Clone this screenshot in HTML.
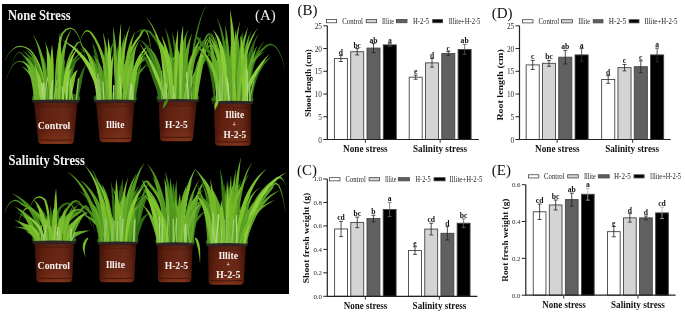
<!DOCTYPE html>
<html><head><meta charset="utf-8"><title>Figure</title>
<style>
html,body{margin:0;padding:0;background:#fff;}
body{width:685px;height:314px;overflow:hidden;font-family:"Liberation Serif",serif;}
svg{display:block;will-change:transform;}
</style></head><body>
<svg width="685" height="314" viewBox="0 0 685 314">
<defs>
<linearGradient id="potv" x1="0" y1="0" x2="0" y2="1">
<stop offset="0" stop-color="#561a0b"/><stop offset="0.15" stop-color="#62200e"/><stop offset="0.7" stop-color="#672210"/><stop offset="1" stop-color="#7c2e15"/>
</linearGradient>
<linearGradient id="poth" x1="0" y1="0" x2="1" y2="0">
<stop offset="0" stop-color="#000" stop-opacity="0.35"/><stop offset="0.2" stop-color="#000" stop-opacity="0.05"/><stop offset="0.6" stop-color="#fff" stop-opacity="0.03"/><stop offset="0.88" stop-color="#000" stop-opacity="0.1"/><stop offset="1" stop-color="#000" stop-opacity="0.4"/>
</linearGradient>
</defs>
<rect width="685" height="314" fill="#fff"/>
<rect x="2" y="4" width="287" height="290" fill="#000"/>
<path d="M33.2,100.9 C28.4,95.2 36.8,92.4 56.0,92.4 C75.2,92.4 83.6,95.2 78.8,100.9 Z" fill="#2f6414"/>
<path d="M61.9,101.0 L62.5,95.3 L63.3,89.9 L64.4,84.9 L65.8,80.1 L67.2,75.6 L68.9,71.3 L70.7,67.2 L72.8,63.4 L75.2,59.8 L77.9,56.4 L80.8,53.2 L84.2,50.2 L84.1,50.1 L80.4,52.6 L76.9,55.4 L73.7,58.6 L70.8,62.0 L68.2,65.8 L65.9,69.9 L64.0,74.4 L62.4,79.1 L61.4,84.2 L60.6,89.5 L60.1,95.1 L60.0,100.8Z" fill="#3a7a16"/>
<path d="M62.3,100.9 L62.4,95.7 L62.5,90.7 L62.7,85.9 L62.8,81.4 L62.7,77.2 L62.5,73.2 L62.3,69.5 L62.0,66.0 L61.7,62.8 L61.3,59.9 L60.9,57.2 L60.6,54.7 L60.4,54.7 L60.3,57.2 L60.1,59.9 L60.0,62.9 L59.8,66.1 L59.7,69.6 L59.6,73.3 L59.6,77.3 L59.6,81.5 L59.9,86.0 L60.1,90.7 L60.3,95.7 L60.5,100.9Z" fill="#448a1a"/>
<path d="M44.8,100.8 L44.8,96.3 L44.6,92.0 L44.4,88.0 L44.0,84.2 L43.3,80.7 L42.2,77.5 L41.0,74.6 L39.7,72.0 L38.2,69.7 L36.5,67.8 L34.7,66.2 L32.9,65.0 L32.8,65.1 L34.1,66.8 L35.1,68.8 L36.0,70.9 L36.9,73.3 L37.6,75.8 L38.3,78.6 L39.0,81.7 L39.7,85.0 L40.5,88.5 L41.2,92.4 L41.8,96.5 L42.3,101.0Z" fill="#33701a"/>
<path d="M37.2,100.9 L37.3,97.5 L37.3,94.3 L37.2,91.1 L36.9,87.9 L36.4,84.9 L35.6,82.1 L34.6,79.3 L33.5,76.7 L32.2,74.2 L30.8,71.8 L29.2,69.6 L27.6,67.5 L27.5,67.5 L28.5,70.0 L29.4,72.4 L30.2,75.0 L31.0,77.6 L31.6,80.2 L32.2,82.9 L32.7,85.7 L33.2,88.6 L33.8,91.5 L34.3,94.5 L34.7,97.7 L35.0,100.9Z" fill="#33701a"/>
<path d="M40.7,100.8 L40.4,96.1 L40.0,91.6 L39.4,87.3 L38.7,83.1 L37.6,79.2 L36.2,75.5 L34.7,72.0 L33.0,68.7 L31.1,65.7 L29.1,62.9 L26.9,60.4 L24.6,58.1 L24.5,58.2 L26.4,60.8 L28.1,63.6 L29.7,66.6 L31.1,69.7 L32.4,73.0 L33.6,76.4 L34.6,80.1 L35.7,83.8 L36.7,87.8 L37.6,92.0 L38.4,96.4 L39.0,101.0Z" fill="#448a1a"/>
<path d="M49.4,100.9 L49.7,94.8 L50.0,89.1 L50.3,83.7 L50.6,78.8 L50.7,74.2 L50.7,70.0 L50.6,66.2 L50.4,62.8 L50.2,59.7 L50.0,57.0 L49.7,54.7 L49.5,52.8 L49.4,52.8 L48.9,54.7 L48.3,56.9 L47.8,59.6 L47.3,62.6 L47.0,66.1 L46.6,69.9 L46.4,74.1 L46.3,78.7 L46.4,83.7 L46.6,89.0 L46.8,94.8 L46.9,100.9Z" fill="#33701a"/>
<path d="M66.5,100.9 L66.4,95.6 L66.3,90.5 L66.2,85.6 L66.0,81.0 L65.6,76.7 L65.0,72.6 L64.4,68.7 L63.7,65.1 L62.9,61.7 L62.1,58.6 L61.1,55.7 L60.2,53.1 L60.1,53.2 L60.5,55.9 L60.8,58.9 L61.1,62.0 L61.4,65.4 L61.6,69.1 L61.9,72.9 L62.3,77.0 L62.6,81.3 L63.2,85.9 L63.7,90.6 L64.2,95.7 L64.6,100.9Z" fill="#448a1a"/>
<path d="M78.3,101.0 L78.8,97.3 L79.4,93.8 L80.0,90.4 L80.8,87.1 L81.4,84.0 L81.9,80.9 L82.5,77.9 L83.1,75.0 L83.7,72.2 L84.4,69.5 L85.2,66.9 L86.1,64.4 L85.9,64.3 L84.5,66.5 L83.0,68.9 L81.7,71.5 L80.5,74.2 L79.4,77.0 L78.4,80.0 L77.6,83.2 L76.9,86.5 L76.6,89.9 L76.3,93.4 L76.2,97.1 L76.1,100.8Z" fill="#33701a"/>
<path d="M62.6,101.0 L63.2,96.6 L63.8,92.4 L64.5,88.6 L65.2,85.1 L65.7,81.8 L66.0,78.9 L66.4,76.2 L66.7,73.8 L67.0,71.6 L67.3,69.7 L67.6,68.1 L68.0,66.7 L67.9,66.7 L66.9,67.7 L65.9,69.2 L64.9,70.9 L63.9,73.0 L63.1,75.4 L62.3,78.2 L61.6,81.2 L61.1,84.5 L60.9,88.2 L60.7,92.1 L60.5,96.3 L60.3,100.8Z" fill="#448a1a"/>
<path d="M61.2,101.0 L61.6,96.7 L62.2,92.8 L62.9,89.0 L63.6,85.4 L64.3,82.0 L64.9,78.8 L65.6,75.7 L66.3,72.7 L67.1,69.9 L68.0,67.2 L69.1,64.7 L70.2,62.3 L70.1,62.2 L68.3,64.2 L66.5,66.4 L64.9,68.9 L63.4,71.6 L62.1,74.5 L60.9,77.7 L60.0,81.1 L59.3,84.7 L58.9,88.5 L58.7,92.4 L58.6,96.6 L58.7,100.8Z" fill="#2f6a12"/>
<path d="M39.2,100.9 L39.3,94.2 L39.2,87.9 L38.9,82.1 L38.3,76.7 L37.3,71.7 L35.9,67.2 L34.2,63.1 L32.2,59.6 L30.0,56.5 L27.5,54.0 L24.9,52.0 L22.0,50.4 L22.0,50.6 L24.4,52.5 L26.6,54.9 L28.4,57.6 L30.1,60.7 L31.5,64.3 L32.8,68.2 L33.9,72.5 L34.8,77.3 L35.8,82.5 L36.5,88.1 L37.0,94.3 L37.2,100.9Z" fill="#2f6a12"/>
<path d="M64.5,101.0 L65.1,95.2 L65.9,89.9 L67.0,85.0 L68.3,80.4 L69.5,76.3 L70.9,72.4 L72.4,68.8 L74.0,65.6 L75.9,62.6 L78.1,60.0 L80.5,57.5 L83.2,55.4 L83.1,55.3 L80.0,56.8 L76.9,58.7 L74.1,61.0 L71.5,63.8 L69.2,67.1 L67.1,70.7 L65.3,74.8 L64.0,79.3 L63.1,84.2 L62.5,89.4 L62.1,95.0 L62.0,100.8Z" fill="#2f6a12"/>
<path d="M56.0,101.0 L56.6,94.6 L57.3,88.7 L58.0,83.3 L58.7,78.3 L59.3,73.9 L59.8,69.8 L60.2,66.2 L60.6,63.1 L61.0,60.5 L61.5,58.2 L61.9,56.4 L62.4,55.1 L62.3,55.0 L61.2,56.1 L60.2,57.8 L59.2,59.9 L58.2,62.6 L57.3,65.7 L56.5,69.3 L55.8,73.4 L55.2,77.9 L54.9,83.0 L54.5,88.5 L54.2,94.4 L54.0,100.8Z" fill="#448a1a"/>
<path d="M48.9,100.9 L48.7,94.1 L48.5,87.9 L48.2,82.1 L47.9,76.9 L47.3,72.2 L46.6,68.0 L45.9,64.3 L45.0,61.2 L44.1,58.5 L43.0,56.4 L42.0,54.9 L40.9,53.9 L40.8,54.0 L41.5,55.2 L42.1,56.9 L42.6,59.0 L43.1,61.6 L43.6,64.7 L44.1,68.4 L44.6,72.5 L45.1,77.2 L45.8,82.3 L46.3,88.0 L46.9,94.2 L47.4,100.9Z" fill="#3a7a16"/>
<path d="M52.9,100.9 L53.1,97.9 L53.3,95.1 L53.5,92.3 L53.7,89.6 L53.7,87.0 L53.7,84.5 L53.5,82.1 L53.4,79.8 L53.2,77.5 L53.0,75.4 L52.7,73.3 L52.5,71.3 L52.4,71.3 L52.1,73.3 L51.7,75.3 L51.4,77.5 L51.1,79.7 L50.9,82.0 L50.7,84.5 L50.5,87.0 L50.5,89.6 L50.6,92.3 L50.8,95.1 L50.9,97.9 L51.1,100.9Z" fill="#33701a"/>
<path d="M52.9,100.9 L53.1,96.1 L53.3,91.3 L53.4,86.8 L53.5,82.3 L53.4,78.1 L53.0,73.9 L52.6,70.0 L52.1,66.1 L51.6,62.5 L50.9,58.9 L50.2,55.6 L49.5,52.4 L49.4,52.4 L49.5,55.7 L49.6,59.1 L49.6,62.6 L49.6,66.3 L49.7,70.1 L49.7,74.1 L49.8,78.2 L49.9,82.5 L50.2,86.8 L50.5,91.4 L50.7,96.1 L50.9,100.9Z" fill="#2f6a12"/>
<path d="M42.8,100.8 L42.1,95.7 L41.3,90.8 L40.3,86.2 L39.2,81.8 L37.8,77.6 L36.3,73.8 L34.5,70.2 L32.6,66.9 L30.5,63.8 L28.3,61.0 L25.9,58.5 L23.5,56.3 L23.4,56.4 L25.5,58.9 L27.4,61.7 L29.2,64.6 L30.8,67.8 L32.4,71.2 L33.8,74.8 L35.2,78.6 L36.5,82.6 L37.9,86.8 L39.1,91.3 L40.2,96.0 L41.2,101.0Z" fill="#33701a"/>
<path d="M67.6,101.0 L68.2,96.6 L68.9,92.4 L69.6,88.4 L70.5,84.5 L71.2,80.8 L71.9,77.2 L72.6,73.8 L73.4,70.4 L74.3,67.2 L75.2,64.1 L76.2,61.1 L77.3,58.3 L77.2,58.2 L75.3,60.7 L73.6,63.4 L71.9,66.3 L70.4,69.4 L69.0,72.7 L67.8,76.2 L66.8,79.8 L66.0,83.7 L65.6,87.8 L65.3,92.0 L65.1,96.3 L65.0,100.8Z" fill="#3a7a16"/>
<path d="M42.8,100.9 L43.1,95.1 L43.2,89.7 L43.0,84.5 L42.6,79.6 L41.7,75.1 L40.4,70.9 L38.8,67.1 L37.0,63.6 L34.9,60.6 L32.5,58.0 L29.9,55.8 L27.1,53.9 L27.1,54.1 L29.3,56.4 L31.3,59.0 L33.0,61.8 L34.5,64.9 L35.8,68.3 L36.9,72.0 L37.8,76.0 L38.6,80.3 L39.4,84.9 L40.0,89.8 L40.4,95.2 L40.6,100.9Z" fill="#3a7a16"/>
<path d="M46.2,100.9 L45.6,94.9 L44.6,89.4 L43.1,84.3 L41.1,79.6 L38.7,75.4 L35.7,71.6 L32.3,68.3 L28.4,65.5 L24.0,61.9 L19.7,60.8 L15.7,62.1 L12.1,65.8 L8.9,71.7 L5.9,80.0 L6.1,80.0 L9.2,71.8 L12.6,66.1 L16.1,62.7 L19.7,61.7 L23.4,62.9 L27.6,66.5 L31.3,69.4 L34.5,72.6 L37.3,76.3 L39.8,80.3 L41.8,84.8 L43.4,89.7 L44.6,95.1 L45.4,100.9Z" fill="#448a1a"/>
<path d="M48.8,100.8 L48.0,93.2 L46.5,86.2 L44.4,79.6 L41.7,73.6 L38.4,68.2 L34.3,63.3 L29.6,59.1 L24.4,55.5 L22.0,52.8 L19.5,51.7 L17.2,52.7 L15.2,55.4 L13.5,59.8 L11.9,66.0 L12.1,66.0 L13.8,59.9 L15.7,55.7 L17.6,53.3 L19.4,52.7 L21.3,53.7 L23.6,56.5 L28.7,60.2 L33.2,64.4 L37.1,69.1 L40.4,74.3 L43.2,80.1 L45.4,86.5 L46.9,93.4 L47.9,101.0Z" fill="#2f6a12"/>
<path d="M38.5,100.9 L38.8,97.1 L38.9,93.3 L38.6,89.7 L38.2,86.2 L37.2,82.9 L35.9,79.8 L34.2,77.0 L32.3,74.4 L30.1,72.1 L27.6,70.0 L25.0,68.1 L22.1,66.5 L22.0,66.6 L24.5,68.7 L26.6,71.1 L28.4,73.5 L30.0,76.0 L31.4,78.6 L32.6,81.3 L33.5,84.2 L34.4,87.1 L35.2,90.2 L35.8,93.6 L36.2,97.1 L36.3,100.9Z" fill="#6cb22c"/>
<path d="M61.2,101.0 L61.7,96.0 L62.3,91.3 L62.8,86.9 L63.3,82.8 L63.7,79.0 L63.9,75.4 L64.2,72.1 L64.4,69.0 L64.5,66.3 L64.7,63.8 L64.8,61.5 L65.0,59.5 L64.9,59.5 L64.1,61.3 L63.3,63.5 L62.6,65.9 L61.9,68.7 L61.2,71.7 L60.6,75.0 L60.1,78.6 L59.8,82.5 L59.6,86.7 L59.5,91.1 L59.3,95.9 L59.2,100.8Z" fill="#54991f"/>
<path d="M48.8,100.7 L48.6,97.3 L48.3,94.0 L47.8,90.7 L47.2,87.5 L46.1,84.5 L44.8,81.7 L43.2,79.1 L41.5,76.6 L39.5,74.3 L37.4,72.2 L35.2,70.3 L32.8,68.5 L32.7,68.6 L34.5,70.9 L36.1,73.3 L37.5,75.8 L38.7,78.3 L39.9,80.8 L40.9,83.5 L41.8,86.2 L42.8,88.9 L43.8,91.7 L44.8,94.7 L45.5,97.8 L46.2,101.1Z" fill="#64ac28"/>
<path d="M45.7,100.9 L45.9,97.6 L45.9,94.4 L45.6,91.4 L45.0,88.5 L43.9,85.8 L42.5,83.3 L40.7,81.1 L38.7,79.2 L36.5,77.5 L34.0,76.1 L31.3,75.0 L28.4,74.0 L28.3,74.1 L30.9,75.6 L33.2,77.3 L35.2,79.1 L36.9,81.0 L38.3,83.0 L39.6,85.1 L40.6,87.3 L41.5,89.6 L42.3,92.1 L43.0,94.8 L43.4,97.7 L43.6,100.9Z" fill="#64ac28"/>
<path d="M42.6,100.7 L41.8,94.5 L40.9,88.7 L39.9,83.3 L38.7,78.3 L37.3,73.8 L35.6,69.7 L33.8,66.1 L31.8,63.0 L29.6,60.3 L27.4,58.2 L25.1,56.5 L22.7,55.3 L22.6,55.5 L24.6,57.1 L26.4,59.2 L28.0,61.6 L29.5,64.3 L31.0,67.5 L32.4,71.0 L33.8,75.0 L35.2,79.3 L36.6,84.1 L38.0,89.3 L39.3,94.9 L40.5,101.1Z" fill="#64ac28"/>
<path d="M38.8,100.9 L38.9,96.9 L39.0,93.1 L39.1,89.3 L39.1,85.7 L38.9,82.2 L38.5,78.8 L38.1,75.6 L37.5,72.4 L37.0,69.4 L36.3,66.6 L35.6,63.8 L34.9,61.2 L34.8,61.2 L34.8,63.9 L34.8,66.7 L34.8,69.7 L34.8,72.7 L34.8,75.8 L34.8,79.1 L34.9,82.4 L35.1,85.9 L35.5,89.5 L35.9,93.2 L36.2,97.0 L36.6,100.9Z" fill="#6cb22c"/>
<path d="M36.3,100.9 L36.5,95.5 L36.5,90.4 L36.3,85.7 L36.0,81.3 L35.1,77.3 L33.9,73.6 L32.5,70.4 L30.8,67.5 L28.8,65.1 L26.7,63.2 L24.4,61.7 L22.0,60.6 L22.0,60.8 L23.9,62.4 L25.4,64.4 L26.8,66.6 L28.0,69.1 L29.0,71.8 L29.9,74.9 L30.7,78.3 L31.5,82.1 L32.3,86.2 L33.0,90.7 L33.4,95.6 L33.7,100.9Z" fill="#6cb22c"/>
<path d="M62.9,100.9 L63.5,91.9 L64.3,83.5 L65.5,75.8 L67.0,68.8 L68.8,62.5 L70.8,56.8 L73.1,51.8 L75.7,47.4 L77.7,43.7 L79.2,42.6 L80.7,43.5 L82.5,47.1 L84.3,53.3 L85.9,62.0 L86.1,62.0 L84.6,53.2 L83.1,46.9 L81.4,43.0 L79.2,41.4 L76.6,42.8 L74.3,46.6 L71.5,51.0 L69.0,56.1 L66.9,61.9 L65.2,68.4 L63.9,75.5 L62.9,83.3 L62.2,91.8 L61.8,100.9Z" fill="#64ac28"/>
<path d="M61.8,100.9 L62.2,93.6 L62.6,86.7 L63.0,80.3 L63.5,74.2 L63.9,68.5 L64.1,63.3 L64.4,58.4 L64.7,53.9 L65.0,49.9 L65.3,46.2 L65.7,42.9 L66.1,40.0 L65.9,40.0 L65.0,42.8 L64.2,46.0 L63.3,49.6 L62.6,53.7 L61.9,58.1 L61.3,63.0 L60.8,68.3 L60.4,74.0 L60.3,80.1 L60.2,86.6 L60.1,93.6 L60.1,100.9Z" fill="#54991f"/>
<path d="M55.6,100.9 L56.0,89.6 L56.5,79.2 L57.2,69.6 L58.1,60.9 L59.2,53.0 L60.3,45.9 L61.5,39.7 L62.8,34.5 L66.7,30.1 L70.3,28.7 L73.8,30.0 L77.3,34.5 L80.8,42.2 L83.9,53.0 L84.1,53.0 L81.1,42.1 L78.0,34.2 L74.4,29.3 L70.3,27.4 L65.8,28.8 L61.2,33.5 L59.5,39.2 L58.2,45.5 L57.0,52.7 L56.1,60.7 L55.4,69.5 L54.9,79.1 L54.6,89.6 L54.4,100.9Z" fill="#6cb22c"/>
<path d="M48.1,100.8 L47.7,92.9 L47.2,85.4 L46.6,78.3 L45.9,71.7 L44.8,65.5 L43.6,59.7 L42.2,54.5 L40.6,49.6 L38.9,45.3 L37.1,41.4 L35.1,37.9 L33.1,35.0 L32.9,35.0 L34.6,38.2 L36.0,41.8 L37.4,45.8 L38.6,50.2 L39.8,55.1 L40.9,60.3 L41.9,66.0 L42.9,72.1 L43.9,78.7 L44.9,85.6 L45.7,93.1 L46.4,101.0Z" fill="#64ac28"/>
<path d="M47.5,100.8 L46.9,94.6 L46.3,88.8 L45.4,83.2 L44.4,78.0 L43.0,73.1 L41.3,68.7 L39.4,64.6 L37.3,60.9 L34.9,57.5 L32.4,54.6 L29.8,52.1 L27.1,49.9 L26.9,50.1 L29.2,52.7 L31.2,55.6 L33.1,58.8 L34.8,62.2 L36.4,66.0 L37.8,70.0 L39.2,74.4 L40.5,79.0 L41.9,84.0 L43.2,89.3 L44.3,95.0 L45.2,101.0Z" fill="#54991f"/>
<path d="M58.5,101.0 L59.2,92.5 L60.0,84.5 L60.9,77.0 L61.9,69.9 L62.9,63.4 L63.8,57.2 L64.8,51.6 L65.9,46.4 L67.0,41.6 L68.2,37.3 L69.6,33.5 L71.1,30.0 L70.9,30.0 L68.9,33.2 L67.0,36.8 L65.2,41.1 L63.5,45.8 L62.0,51.0 L60.7,56.6 L59.5,62.8 L58.5,69.5 L57.8,76.6 L57.3,84.2 L56.9,92.3 L56.6,100.8Z" fill="#6cb22c"/>
<path d="M41.8,100.9 L42.1,97.5 L42.2,94.1 L42.3,90.9 L42.3,87.8 L42.0,84.8 L41.4,81.9 L40.8,79.3 L40.0,76.7 L39.0,74.3 L38.0,72.1 L36.8,70.1 L35.6,68.2 L35.5,68.2 L36.1,70.4 L36.5,72.6 L36.9,75.0 L37.2,77.4 L37.5,79.9 L37.8,82.5 L38.0,85.3 L38.3,88.1 L38.8,91.1 L39.1,94.2 L39.4,97.5 L39.6,100.9Z" fill="#8ecd3c"/>
<path d="M71.1,101.0 L71.7,96.7 L72.3,92.7 L73.0,89.0 L73.8,85.7 L74.3,82.8 L74.8,80.1 L75.2,77.7 L75.7,75.7 L76.2,73.9 L76.7,72.4 L77.2,71.2 L78.0,70.1 L77.9,70.0 L76.6,70.5 L75.3,71.4 L74.0,72.7 L72.8,74.5 L71.7,76.6 L70.8,79.0 L69.9,81.8 L69.3,85.0 L69.0,88.5 L68.8,92.3 L68.7,96.4 L68.6,100.8Z" fill="#7cc22a"/>
<path d="M51.8,100.9 L51.9,93.7 L52.0,87.1 L52.1,81.1 L52.1,75.5 L51.8,70.5 L51.3,66.0 L50.7,62.1 L50.0,58.7 L49.3,55.8 L48.4,53.5 L47.5,51.8 L46.6,50.7 L46.5,50.7 L46.6,52.1 L46.7,53.9 L46.8,56.3 L46.8,59.1 L46.9,62.5 L47.0,66.4 L47.2,70.8 L47.4,75.7 L47.9,81.2 L48.4,87.2 L48.8,93.8 L49.2,100.9Z" fill="#7abd30"/>
<path d="M67.5,100.9 L67.7,96.4 L68.0,92.2 L68.3,88.3 L68.7,84.9 L69.0,81.7 L69.3,78.9 L69.6,76.5 L70.0,74.3 L70.4,72.5 L70.8,71.0 L71.4,69.7 L72.1,68.7 L72.0,68.6 L70.8,69.2 L69.7,70.3 L68.6,71.7 L67.7,73.6 L66.8,75.8 L66.1,78.4 L65.6,81.3 L65.2,84.6 L65.2,88.2 L65.2,92.1 L65.4,96.3 L65.6,100.9Z" fill="#8ecd3c"/>
<path d="M53.2,100.9 L53.1,93.8 L52.9,87.1 L52.7,80.8 L52.4,74.9 L51.8,69.3 L51.1,64.2 L50.4,59.5 L49.5,55.2 L48.5,51.2 L47.4,47.7 L46.2,44.7 L45.1,42.0 L44.9,42.0 L45.7,44.8 L46.3,48.0 L46.8,51.6 L47.4,55.5 L47.9,59.9 L48.4,64.6 L48.8,69.6 L49.3,75.1 L50.0,81.0 L50.5,87.2 L51.0,93.9 L51.5,100.9Z" fill="#86c834"/>
<path d="M52.9,100.9 L53.1,94.2 L53.4,87.9 L53.6,81.9 L53.8,76.3 L53.8,71.1 L53.7,66.2 L53.5,61.8 L53.3,57.7 L53.0,53.9 L52.7,50.6 L52.4,47.6 L52.1,45.0 L51.9,45.0 L51.6,47.6 L51.2,50.6 L50.9,53.9 L50.6,57.7 L50.3,61.8 L50.1,66.2 L50.0,71.1 L50.0,76.3 L50.2,81.9 L50.4,87.9 L50.6,94.2 L50.8,100.9Z" fill="#7cc22a"/>
<path d="M46.3,100.9 L45.7,92.3 L44.8,84.3 L43.5,76.9 L41.8,70.1 L39.6,64.0 L37.0,58.5 L34.0,53.7 L30.4,49.5 L25.4,46.7 L20.6,45.7 L16.1,46.6 L12.0,49.4 L8.4,53.8 L4.9,60.0 L5.1,60.0 L8.6,54.0 L12.4,49.8 L16.4,47.4 L20.5,46.7 L24.9,47.8 L29.6,50.5 L32.8,54.6 L35.7,59.3 L38.2,64.6 L40.4,70.6 L42.2,77.2 L43.7,84.4 L44.7,92.4 L45.4,100.9Z" fill="#7abd30"/>
<path d="M63.8,101.0 L64.5,94.7 L65.4,88.7 L66.4,83.2 L67.6,78.0 L68.6,73.1 L69.7,68.6 L70.8,64.4 L72.1,60.5 L73.4,56.9 L74.8,53.6 L76.3,50.7 L78.1,48.0 L77.9,48.0 L75.7,50.3 L73.6,52.9 L71.6,56.0 L69.7,59.5 L68.0,63.4 L66.5,67.6 L65.1,72.3 L64.0,77.3 L63.3,82.7 L62.6,88.4 L62.1,94.4 L61.7,100.8Z" fill="#8ecd3c"/>
<path d="M60.4,100.9 L60.6,92.8 L60.9,85.1 L61.2,77.8 L61.4,71.0 L61.5,64.7 L61.4,58.8 L61.2,53.4 L61.1,48.4 L60.8,43.9 L60.6,39.8 L60.3,36.2 L60.1,33.0 L59.9,33.0 L59.5,36.2 L59.0,39.8 L58.6,43.8 L58.2,48.4 L57.9,53.3 L57.7,58.8 L57.5,64.7 L57.4,71.0 L57.6,77.8 L57.7,85.0 L57.9,92.7 L58.1,100.9Z" fill="#7cc22a"/>
<path d="M50.6,100.4 L51.7,83.6" stroke="#9fcf6a" stroke-width="1.4"/>
<path d="M63.3,100.4 L62.1,86.8" stroke="#a6d27a" stroke-width="1.2"/>
<path d="M72.7,100.4 L69.9,77.5" stroke="#b2d88a" stroke-width="0.8"/>
<path d="M50.0,100.4 L52.2,81.9" stroke="#a6d27a" stroke-width="0.8"/>
<path d="M50.9,100.4 L52.6,80.3" stroke="#a6d27a" stroke-width="1.4"/>
<path d="M44.0,100.4 L47.7,77.2" stroke="#a6d27a" stroke-width="1.0"/>
<path d="M54.0,100.4 L57.1,80.0" stroke="#8cc45a" stroke-width="1.1"/>
<path d="M42.9,100.4 L42.0,82.9" stroke="#b2d88a" stroke-width="1.2"/>
<path d="M76.2,100.4 L78.6,78.3" stroke="#8cc45a" stroke-width="1.3"/>
<path d="M44.3,100.4 L43.6,82.9" stroke="#b2d88a" stroke-width="1.4"/>
<path d="M56.6,100.4 L56.7,88.0" stroke="#7dbb48" stroke-width="1.3"/>
<path d="M66.3,100.4 L67.8,81.5" stroke="#b2d88a" stroke-width="0.9"/>
<path d="M94.8,100.9 C90.5,95.2 98.0,92.4 115.2,92.4 C132.4,92.4 139.9,95.2 135.6,100.9 Z" fill="#2f6414"/>
<path d="M127.8,100.9 L127.9,93.2 L128.2,86.0 L128.6,79.5 L129.2,73.5 L129.7,68.1 L130.3,63.3 L130.9,59.1 L131.7,55.4 L132.5,52.3 L133.4,49.7 L134.5,47.6 L135.9,46.0 L135.8,45.9 L134.0,47.2 L132.3,49.0 L130.8,51.6 L129.4,54.7 L128.2,58.5 L127.2,62.8 L126.4,67.7 L125.9,73.2 L125.7,79.3 L125.6,85.9 L125.7,93.1 L125.9,100.9Z" fill="#33701a"/>
<path d="M135.4,101.0 L136.0,96.4 L136.7,92.1 L137.4,88.1 L138.1,84.4 L138.7,80.9 L139.1,77.6 L139.5,74.6 L139.9,71.8 L140.3,69.3 L140.7,67.1 L141.1,65.0 L141.5,63.3 L141.4,63.2 L140.4,64.8 L139.4,66.6 L138.4,68.8 L137.5,71.3 L136.7,74.0 L135.9,77.0 L135.2,80.3 L134.6,83.8 L134.3,87.7 L134.0,91.8 L133.7,96.2 L133.4,100.8Z" fill="#3a7a16"/>
<path d="M131.9,100.9 L132.2,96.7 L132.7,92.8 L133.5,89.1 L134.6,85.6 L135.7,82.3 L137.0,79.1 L138.5,76.1 L140.2,73.2 L142.2,70.5 L144.5,67.8 L147.1,65.3 L150.0,63.0 L150.0,62.9 L146.7,64.8 L143.6,66.8 L140.8,69.2 L138.3,71.7 L136.0,74.6 L134.1,77.7 L132.4,81.0 L131.2,84.6 L130.5,88.5 L130.0,92.5 L129.8,96.6 L130.0,100.9Z" fill="#448a1a"/>
<path d="M118.5,100.9 L118.7,95.1 L118.9,89.6 L119.1,84.3 L119.3,79.2 L119.3,74.3 L119.2,69.7 L119.0,65.3 L118.8,61.1 L118.5,57.1 L118.2,53.3 L117.9,49.8 L117.6,46.4 L117.4,46.4 L117.1,49.8 L116.7,53.3 L116.4,57.1 L116.1,61.1 L115.8,65.3 L115.6,69.7 L115.5,74.3 L115.5,79.2 L115.7,84.3 L115.9,89.6 L116.1,95.1 L116.3,100.9Z" fill="#3a7a16"/>
<path d="M110.4,100.9 L110.5,93.2 L110.7,86.1 L110.8,79.5 L111.0,73.5 L110.9,68.1 L110.7,63.2 L110.5,58.8 L110.3,55.0 L110.0,51.8 L109.6,49.1 L109.3,47.0 L108.9,45.4 L108.8,45.4 L108.6,47.0 L108.4,49.1 L108.3,51.8 L108.1,55.1 L108.0,58.8 L107.9,63.2 L107.8,68.1 L107.9,73.5 L108.1,79.5 L108.3,86.1 L108.4,93.2 L108.6,100.9Z" fill="#2f6a12"/>
<path d="M107.0,100.9 L107.2,93.3 L107.3,86.3 L107.5,79.9 L107.6,74.1 L107.6,68.8 L107.4,64.1 L107.1,59.9 L106.7,56.4 L106.4,53.4 L105.9,50.9 L105.5,49.1 L105.0,47.8 L104.9,47.8 L104.7,49.1 L104.4,51.0 L104.2,53.4 L103.9,56.4 L103.8,60.0 L103.6,64.1 L103.6,68.8 L103.6,74.1 L103.9,80.0 L104.2,86.4 L104.5,93.4 L104.7,100.9Z" fill="#33701a"/>
<path d="M117.7,101.0 L118.3,93.7 L119.0,86.8 L119.7,80.3 L120.5,74.3 L121.0,68.7 L121.5,63.5 L122.0,58.7 L122.5,54.4 L122.9,50.4 L123.4,46.9 L123.8,43.8 L124.4,41.0 L124.2,41.0 L123.2,43.6 L122.2,46.6 L121.2,50.1 L120.3,54.0 L119.4,58.4 L118.6,63.2 L117.9,68.4 L117.3,74.0 L116.9,80.1 L116.6,86.6 L116.2,93.5 L115.9,100.8Z" fill="#3a7a16"/>
<path d="M108.1,100.9 L108.4,93.9 L108.7,87.3 L109.2,81.1 L109.7,75.2 L110.1,69.8 L110.4,64.7 L110.8,60.1 L111.2,55.8 L111.7,51.8 L112.2,48.2 L112.8,45.0 L113.5,42.1 L113.3,42.0 L111.9,44.7 L110.6,47.8 L109.4,51.3 L108.3,55.2 L107.3,59.6 L106.5,64.3 L105.9,69.4 L105.4,75.0 L105.4,80.9 L105.4,87.2 L105.5,93.9 L105.7,100.9Z" fill="#448a1a"/>
<path d="M134.4,100.9 L134.6,95.5 L134.7,90.5 L134.8,85.8 L134.9,81.4 L134.8,77.4 L134.6,73.7 L134.4,70.4 L134.1,67.4 L133.7,64.8 L133.3,62.5 L132.9,60.6 L132.5,59.0 L132.3,59.0 L132.2,60.7 L132.1,62.6 L132.0,64.9 L131.9,67.5 L131.8,70.5 L131.8,73.8 L131.7,77.5 L131.8,81.5 L132.0,85.8 L132.3,90.5 L132.5,95.5 L132.7,100.9Z" fill="#2f6a12"/>
<path d="M115.7,101.0 L116.3,95.9 L116.9,91.2 L117.6,86.8 L118.3,82.6 L119.0,78.7 L119.5,75.1 L120.1,71.7 L120.7,68.6 L121.3,65.8 L122.0,63.2 L122.6,60.9 L123.4,58.8 L123.3,58.7 L122.1,60.6 L120.8,62.8 L119.6,65.2 L118.5,68.0 L117.5,71.1 L116.6,74.5 L115.8,78.2 L115.2,82.1 L114.8,86.4 L114.4,90.9 L114.1,95.8 L113.9,100.8Z" fill="#33701a"/>
<path d="M126.4,101.0 L127.2,96.9 L128.0,92.9 L129.0,89.0 L130.0,85.3 L130.9,81.7 L131.7,78.3 L132.6,74.9 L133.5,71.7 L134.5,68.7 L135.4,65.7 L136.5,62.9 L137.6,60.2 L137.5,60.1 L136.0,62.6 L134.4,65.3 L133.0,68.1 L131.6,71.1 L130.3,74.2 L129.2,77.5 L128.1,81.0 L127.2,84.6 L126.5,88.5 L125.8,92.4 L125.3,96.5 L124.8,100.8Z" fill="#33701a"/>
<path d="M101.6,100.8 L101.5,93.5 L101.3,86.5 L101.1,80.0 L100.8,74.0 L100.2,68.4 L99.3,63.2 L98.4,58.6 L97.3,54.4 L96.1,50.6 L94.9,47.4 L93.5,44.7 L92.1,42.4 L92.0,42.5 L92.7,45.0 L93.3,47.9 L93.9,51.2 L94.5,55.0 L95.0,59.2 L95.6,63.8 L96.1,68.8 L96.7,74.4 L97.4,80.3 L98.1,86.7 L98.8,93.6 L99.3,101.0Z" fill="#2f6a12"/>
<path d="M100.9,100.9 L101.2,96.1 L101.3,91.4 L101.4,86.9 L101.4,82.6 L101.1,78.4 L100.6,74.4 L99.9,70.6 L99.0,67.0 L98.1,63.6 L97.0,60.4 L95.8,57.5 L94.6,54.7 L94.5,54.7 L95.1,57.7 L95.5,60.8 L95.9,64.1 L96.2,67.5 L96.5,71.1 L96.8,74.9 L97.0,78.8 L97.3,82.8 L97.8,87.1 L98.1,91.5 L98.4,96.1 L98.6,100.9Z" fill="#33701a"/>
<path d="M111.3,100.9 L111.3,94.3 L111.3,88.0 L111.3,82.2 L111.2,76.7 L110.9,71.7 L110.4,67.0 L109.8,62.7 L109.1,58.9 L108.4,55.4 L107.5,52.3 L106.6,49.7 L105.8,47.4 L105.6,47.5 L105.9,49.8 L106.2,52.6 L106.4,55.7 L106.6,59.2 L106.8,63.0 L107.1,67.3 L107.3,71.9 L107.6,76.9 L108.1,82.3 L108.5,88.1 L108.9,94.3 L109.3,100.9Z" fill="#6cb22c"/>
<path d="M121.0,100.9 L121.3,95.7 L121.8,90.8 L122.5,86.1 L123.3,81.7 L124.1,77.5 L124.9,73.4 L125.8,69.6 L126.9,66.0 L128.1,62.5 L129.4,59.2 L131.0,56.1 L132.8,53.2 L132.6,53.1 L130.3,55.6 L128.0,58.4 L125.9,61.5 L124.1,64.8 L122.4,68.5 L121.0,72.4 L119.8,76.6 L119.0,81.0 L118.6,85.7 L118.4,90.5 L118.4,95.6 L118.6,100.9Z" fill="#64ac28"/>
<path d="M130.5,100.9 L130.9,94.9 L131.5,89.3 L132.5,84.3 L133.6,79.7 L134.9,75.5 L136.2,71.7 L137.8,68.2 L139.6,65.2 L141.7,62.4 L144.1,59.9 L146.9,57.8 L150.0,56.1 L150.0,55.9 L146.4,57.0 L143.1,58.5 L140.0,60.6 L137.2,63.2 L134.6,66.3 L132.5,69.9 L130.6,74.0 L129.3,78.6 L128.5,83.6 L128.0,89.0 L127.9,94.8 L128.0,100.9Z" fill="#54991f"/>
<path d="M104.0,100.9 L104.0,96.2 L104.0,91.8 L103.9,87.7 L103.7,83.8 L103.3,80.3 L102.7,76.9 L102.1,73.9 L101.3,71.2 L100.4,68.7 L99.4,66.5 L98.4,64.7 L97.3,63.1 L97.2,63.2 L97.7,64.9 L98.1,67.0 L98.5,69.2 L98.9,71.7 L99.2,74.4 L99.5,77.4 L99.8,80.7 L100.2,84.2 L100.7,88.0 L101.2,92.0 L101.6,96.3 L102.0,100.9Z" fill="#64ac28"/>
<path d="M126.6,101.0 L127.3,95.8 L128.2,91.0 L129.3,86.6 L130.5,82.5 L131.8,78.7 L133.1,75.2 L134.6,72.1 L136.2,69.2 L138.0,66.6 L140.0,64.2 L142.3,62.1 L144.8,60.4 L144.7,60.2 L141.9,61.5 L139.1,63.2 L136.5,65.2 L134.2,67.7 L132.0,70.6 L130.1,73.8 L128.4,77.5 L127.1,81.5 L126.1,85.8 L125.4,90.5 L124.9,95.5 L124.6,100.8Z" fill="#54991f"/>
<path d="M99.3,100.8 L99.0,94.9 L98.4,89.3 L97.7,84.1 L96.8,79.2 L95.5,74.7 L93.9,70.6 L92.1,66.8 L90.1,63.5 L87.8,60.7 L85.4,58.2 L82.8,56.2 L80.0,54.5 L80.0,54.6 L82.4,56.6 L84.6,59.0 L86.6,61.6 L88.4,64.6 L90.0,67.9 L91.5,71.5 L92.8,75.5 L94.0,79.8 L95.2,84.5 L96.3,89.6 L97.1,95.1 L97.7,101.0Z" fill="#6cb22c"/>
<path d="M107.1,100.9 L107.1,95.7 L107.2,90.8 L107.1,86.3 L107.1,82.0 L106.8,78.1 L106.4,74.5 L106.0,71.2 L105.4,68.2 L104.8,65.6 L104.2,63.3 L103.4,61.3 L102.7,59.7 L102.6,59.7 L102.8,61.5 L103.0,63.5 L103.1,65.9 L103.3,68.5 L103.4,71.5 L103.6,74.7 L103.7,78.3 L104.0,82.2 L104.4,86.4 L104.7,90.9 L105.0,95.8 L105.3,100.9Z" fill="#6cb22c"/>
<path d="M120.0,101.0 L120.6,94.8 L121.3,89.0 L122.0,83.7 L122.7,78.9 L123.2,74.4 L123.6,70.3 L123.9,66.7 L124.1,63.5 L124.4,60.7 L124.6,58.3 L124.8,56.2 L125.1,54.6 L125.0,54.5 L124.0,55.9 L122.9,57.8 L121.9,60.1 L121.0,62.9 L120.1,66.1 L119.3,69.7 L118.6,73.8 L118.1,78.4 L117.9,83.4 L117.7,88.8 L117.5,94.6 L117.4,100.8Z" fill="#54991f"/>
<path d="M101.5,100.9 L101.2,93.4 L100.7,86.4 L100.0,80.0 L99.0,74.1 L97.6,68.8 L95.9,64.1 L93.8,60.0 L91.5,56.5 L89.0,53.6 L86.2,51.3 L83.2,49.7 L80.0,48.6 L80.0,48.8 L82.9,50.2 L85.4,52.2 L87.7,54.7 L89.8,57.7 L91.6,61.1 L93.3,65.1 L94.7,69.7 L96.1,74.8 L97.3,80.4 L98.4,86.7 L99.2,93.5 L99.8,100.9Z" fill="#54991f"/>
<path d="M117.8,100.9 L118.0,95.3 L118.3,89.8 L118.6,84.7 L119.0,79.7 L119.2,75.0 L119.4,70.5 L119.6,66.2 L119.8,62.2 L120.0,58.4 L120.2,54.8 L120.4,51.4 L120.8,48.2 L120.6,48.2 L119.9,51.3 L119.1,54.6 L118.4,58.2 L117.8,62.0 L117.3,66.0 L116.8,70.3 L116.4,74.8 L116.1,79.6 L116.1,84.6 L116.1,89.8 L116.1,95.2 L116.2,100.9Z" fill="#64ac28"/>
<path d="M124.6,100.9 L124.9,95.0 L125.3,89.4 L125.7,84.3 L126.3,79.6 L126.6,75.3 L126.9,71.5 L127.2,68.0 L127.5,65.0 L127.8,62.4 L128.2,60.1 L128.6,58.2 L129.1,56.7 L128.9,56.7 L127.9,57.9 L126.9,59.7 L125.9,61.9 L125.1,64.5 L124.3,67.6 L123.6,71.1 L123.1,75.0 L122.7,79.4 L122.6,84.1 L122.5,89.3 L122.5,94.9 L122.6,100.9Z" fill="#64ac28"/>
<path d="M129.7,100.9 L130.2,94.7 L130.8,88.8 L131.4,83.3 L132.1,78.0 L132.6,73.1 L133.1,68.4 L133.6,64.0 L134.1,60.0 L134.6,56.2 L135.1,52.7 L135.7,49.5 L136.4,46.5 L136.3,46.5 L134.9,49.2 L133.5,52.2 L132.3,55.6 L131.1,59.4 L130.1,63.4 L129.2,67.8 L128.4,72.6 L127.8,77.6 L127.6,83.0 L127.4,88.6 L127.3,94.6 L127.3,100.9Z" fill="#6cb22c"/>
<path d="M105.5,100.9 L105.6,95.2 L105.5,89.8 L105.2,84.7 L104.8,79.9 L104.0,75.5 L103.0,71.5 L101.7,67.8 L100.2,64.4 L98.5,61.5 L96.7,58.9 L94.7,56.8 L92.6,55.0 L92.5,55.1 L94.1,57.2 L95.6,59.7 L96.9,62.4 L98.0,65.4 L99.0,68.7 L99.9,72.3 L100.7,76.2 L101.4,80.4 L102.2,85.0 L102.8,90.0 L103.3,95.3 L103.6,100.9Z" fill="#54991f"/>
<path d="M110.0,100.9 L110.0,92.7 L109.9,85.0 L109.7,77.7 L109.5,70.9 L109.0,64.6 L108.4,58.7 L107.7,53.2 L107.0,48.2 L106.1,43.7 L105.1,39.7 L104.1,36.1 L103.1,33.0 L102.9,33.0 L103.5,36.2 L103.9,39.9 L104.4,44.0 L104.8,48.5 L105.2,53.5 L105.5,58.9 L105.9,64.8 L106.3,71.1 L106.9,77.9 L107.4,85.1 L107.9,92.8 L108.3,100.9Z" fill="#6cb22c"/>
<path d="M117.4,100.9 L117.5,92.0 L117.5,83.6 L117.5,75.7 L117.5,68.3 L117.2,61.4 L116.8,55.0 L116.4,49.1 L115.8,43.7 L115.2,38.7 L114.5,34.3 L113.8,30.4 L113.1,27.0 L112.9,27.0 L113.1,30.5 L113.2,34.5 L113.3,38.9 L113.3,43.8 L113.5,49.2 L113.6,55.2 L113.7,61.6 L113.9,68.4 L114.3,75.8 L114.7,83.7 L115.1,92.1 L115.4,100.9Z" fill="#64ac28"/>
<path d="M125.3,101.0 L126.1,93.7 L127.0,86.8 L128.0,80.4 L129.1,74.4 L130.2,68.8 L131.3,63.5 L132.5,58.7 L133.8,54.2 L135.2,50.1 L136.7,46.4 L138.3,43.0 L140.1,40.0 L139.9,40.0 L137.7,42.7 L135.5,45.8 L133.5,49.4 L131.6,53.4 L129.9,57.9 L128.3,62.8 L126.9,68.1 L125.8,73.8 L125.0,80.0 L124.3,86.5 L123.8,93.5 L123.4,100.8Z" fill="#64ac28"/>
<path d="M110.9,100.8 L110.5,93.5 L110.1,86.5 L109.5,80.0 L108.7,73.8 L107.7,68.0 L106.3,62.7 L104.8,57.8 L103.2,53.4 L101.3,49.3 L99.4,45.8 L97.2,42.6 L95.1,40.0 L94.9,40.0 L96.6,43.0 L98.0,46.4 L99.4,50.1 L100.7,54.2 L101.8,58.7 L102.9,63.6 L104.0,68.8 L105.0,74.4 L106.1,80.4 L107.1,86.9 L108.0,93.7 L108.8,101.0Z" fill="#5ca424"/>
<path d="M119.9,100.9 L120.3,93.0 L120.8,85.6 L121.3,78.6 L121.9,72.0 L122.3,65.9 L122.7,60.2 L123.0,54.9 L123.4,50.1 L123.8,45.7 L124.2,41.7 L124.6,38.2 L125.1,35.0 L124.9,35.0 L123.8,38.0 L122.8,41.5 L121.7,45.4 L120.8,49.8 L120.0,54.6 L119.3,59.9 L118.7,65.6 L118.2,71.8 L118.0,78.4 L117.9,85.5 L117.8,93.0 L117.8,100.9Z" fill="#54991f"/>
<path d="M125.8,101.0 L126.5,96.1 L127.2,91.5 L127.9,87.2 L128.8,83.1 L129.4,79.2 L130.0,75.6 L130.7,72.2 L131.3,68.9 L132.0,66.0 L132.7,63.2 L133.4,60.6 L134.3,58.2 L134.2,58.1 L132.7,60.2 L131.2,62.5 L129.7,65.2 L128.4,68.1 L127.2,71.2 L126.2,74.7 L125.3,78.4 L124.5,82.4 L124.1,86.7 L123.8,91.1 L123.6,95.9 L123.4,100.8Z" fill="#7abd30"/>
<path d="M133.9,100.9 L134.1,93.7 L134.6,87.0 L135.3,80.8 L136.2,75.0 L137.2,69.7 L138.4,64.9 L139.7,60.5 L141.3,56.5 L143.1,53.0 L145.1,49.8 L147.4,47.0 L150.0,44.7 L150.0,44.5 L146.9,46.5 L144.1,48.9 L141.5,51.9 L139.2,55.4 L137.1,59.5 L135.4,64.0 L133.9,69.0 L132.8,74.5 L132.2,80.4 L131.9,86.8 L131.8,93.6 L132.0,100.9Z" fill="#86c834"/>
<path d="M132.8,100.9 L132.9,95.3 L133.2,90.0 L133.9,84.9 L134.8,80.1 L135.9,75.5 L137.1,71.0 L138.5,66.8 L140.3,62.7 L142.3,58.8 L144.5,55.0 L147.1,51.4 L150.1,48.0 L149.9,47.9 L146.6,51.0 L143.5,54.2 L140.7,57.8 L138.2,61.6 L136.0,65.7 L134.2,70.0 L132.7,74.6 L131.6,79.5 L131.0,84.6 L130.7,89.8 L130.7,95.3 L130.9,100.9Z" fill="#7cc22a"/>
<path d="M109.9,100.9 L110.4,95.8 L110.8,90.9 L111.3,86.2 L111.8,81.7 L112.2,77.4 L112.4,73.4 L112.6,69.5 L112.8,65.8 L113.0,62.3 L113.2,59.1 L113.4,56.0 L113.6,53.1 L113.5,53.1 L112.7,55.9 L111.9,58.9 L111.1,62.1 L110.5,65.5 L109.8,69.2 L109.3,73.1 L108.8,77.1 L108.4,81.5 L108.3,86.0 L108.1,90.7 L108.0,95.7 L108.0,100.9Z" fill="#7cc22a"/>
<path d="M98.8,100.8 L98.4,93.3 L97.8,86.3 L97.1,79.8 L96.2,73.7 L94.9,68.2 L93.3,63.2 L91.6,58.7 L89.6,54.7 L87.4,51.3 L85.1,48.4 L82.6,46.2 L80.0,44.4 L80.0,44.5 L82.1,46.7 L84.0,49.3 L85.8,52.3 L87.4,55.8 L88.8,59.7 L90.2,64.2 L91.4,69.1 L92.7,74.4 L93.9,80.3 L95.0,86.7 L96.0,93.6 L96.8,101.0Z" fill="#7abd30"/>
<path d="M132.3,101.0 L133.0,95.9 L133.7,91.0 L134.5,86.4 L135.3,82.1 L135.9,78.0 L136.4,74.1 L136.9,70.4 L137.3,67.0 L137.8,63.8 L138.3,60.9 L138.9,58.1 L139.5,55.6 L139.3,55.5 L138.0,57.8 L136.6,60.3 L135.4,63.1 L134.2,66.3 L133.1,69.7 L132.2,73.3 L131.3,77.2 L130.7,81.4 L130.4,85.9 L130.1,90.6 L129.9,95.6 L129.7,100.8Z" fill="#7cc22a"/>
<path d="M120.5,100.9 L121.1,92.0 L121.7,83.5 L122.5,75.5 L123.3,68.1 L124.0,61.1 L124.7,54.7 L125.4,48.7 L126.2,43.2 L127.1,38.2 L128.0,33.7 L129.0,29.6 L130.1,26.0 L129.9,26.0 L128.4,29.4 L126.8,33.3 L125.4,37.8 L124.1,42.8 L122.9,48.3 L121.9,54.3 L120.9,60.8 L120.2,67.8 L119.7,75.3 L119.3,83.3 L119.0,91.9 L118.8,100.9Z" fill="#7cc22a"/>
<path d="M111.7,100.9 L111.8,93.3 L111.9,86.2 L112.0,79.5 L112.1,73.2 L111.9,67.3 L111.5,61.8 L111.1,56.8 L110.6,52.2 L110.0,48.0 L109.4,44.2 L108.7,40.9 L108.1,38.0 L107.9,38.0 L107.9,41.0 L107.9,44.4 L107.8,48.1 L107.8,52.3 L107.8,57.0 L107.9,62.0 L107.9,67.4 L108.1,73.3 L108.5,79.6 L108.8,86.3 L109.2,93.4 L109.5,100.9Z" fill="#8ecd3c"/>
<path d="M119.6,100.9 L119.9,91.7 L120.2,83.0 L120.5,74.8 L120.8,67.1 L120.9,59.9 L121.0,53.3 L121.0,47.1 L121.0,41.5 L121.0,36.3 L121.0,31.7 L121.0,27.6 L121.1,24.0 L120.9,24.0 L120.4,27.6 L119.9,31.7 L119.3,36.3 L118.9,41.4 L118.5,47.0 L118.1,53.2 L117.8,59.8 L117.7,67.0 L117.7,74.7 L117.8,82.9 L117.8,91.7 L117.9,100.9Z" fill="#86c834"/>
<path d="M121.2,100.9 L122.1,90.0 L123.4,79.9 L125.2,70.7 L127.5,62.3 L130.2,54.7 L133.3,47.9 L136.8,41.9 L140.8,36.5 L143.0,32.0 L144.5,30.7 L146.1,32.0 L148.2,36.5 L150.1,44.2 L151.9,55.0 L152.1,55.0 L150.5,44.1 L148.9,36.2 L147.1,31.3 L144.6,29.3 L141.6,30.9 L139.2,35.5 L135.0,40.7 L131.2,46.8 L128.0,53.8 L125.4,61.6 L123.3,70.3 L121.7,79.7 L120.5,89.9 L119.9,100.9Z" fill="#7cc22a"/>
<path d="M101.5,100.7 L100.3,93.3 L98.7,86.3 L96.8,79.6 L94.5,73.3 L91.7,67.5 L88.5,62.2 L84.9,57.3 L80.9,52.9 L76.7,49.0 L72.1,45.5 L67.2,42.5 L62.0,39.9 L62.0,40.1 L66.8,43.2 L71.1,46.7 L75.2,50.5 L78.9,54.7 L82.3,59.2 L85.4,64.1 L88.3,69.3 L90.9,74.9 L93.5,80.8 L95.7,87.1 L97.7,93.9 L99.3,101.1Z" fill="#8ecd3c"/>
<path d="M109.0,100.9 L108.5,89.6 L107.6,79.1 L106.2,69.4 L104.5,60.5 L102.3,52.4 L99.6,45.3 L96.4,38.9 L92.8,33.4 L90.2,30.9 L87.5,30.0 L85.1,30.8 L83.1,33.2 L81.5,36.9 L79.9,42.0 L80.1,42.0 L81.9,37.0 L83.8,33.6 L85.7,31.8 L87.4,31.4 L89.2,32.3 L91.2,34.6 L94.5,40.0 L97.5,46.2 L100.0,53.2 L102.3,61.0 L104.3,69.7 L105.8,79.3 L106.9,89.7 L107.6,100.9Z" fill="#72b828"/>
<path d="M124.7,101.0 L125.3,92.7 L126.1,84.9 L126.9,77.6 L127.8,70.8 L128.6,64.4 L129.3,58.5 L130.1,53.0 L131.0,47.9 L131.9,43.3 L132.8,39.1 L133.9,35.4 L135.1,32.0 L134.9,32.0 L133.2,35.1 L131.5,38.7 L129.9,42.7 L128.5,47.3 L127.1,52.4 L126.0,57.9 L124.9,63.9 L124.1,70.4 L123.6,77.3 L123.2,84.7 L122.9,92.6 L122.7,100.8Z" fill="#72b828"/>
<path d="M111.0,100.4 L108.8,86.4" stroke="#7dbb48" stroke-width="0.9"/>
<path d="M100.9,100.4 L98.9,79.2" stroke="#8cc45a" stroke-width="1.5"/>
<path d="M133.5,100.4 L132.5,85.9" stroke="#7dbb48" stroke-width="1.4"/>
<path d="M113.6,100.4 L113.8,85.1" stroke="#9fcf6a" stroke-width="1.5"/>
<path d="M104.0,100.4 L102.9,81.3" stroke="#b2d88a" stroke-width="1.0"/>
<path d="M121.2,100.4 L119.8,76.6" stroke="#b2d88a" stroke-width="1.0"/>
<path d="M117.3,100.4 L118.3,73.1" stroke="#8cc45a" stroke-width="0.9"/>
<path d="M129.7,100.4 L131.0,83.4" stroke="#b2d88a" stroke-width="1.3"/>
<path d="M97.3,100.4 L98.0,74.2" stroke="#a6d27a" stroke-width="1.1"/>
<path d="M97.8,100.4 L96.1,85.3" stroke="#b2d88a" stroke-width="0.8"/>
<path d="M98.0,100.4 L96.9,80.2" stroke="#8cc45a" stroke-width="1.5"/>
<path d="M132.2,100.4 L131.9,85.0" stroke="#b2d88a" stroke-width="1.3"/>
<path d="M157.9,100.5 C153.7,94.8 161.0,92.0 177.8,92.0 C194.6,92.0 202.0,94.8 197.8,100.5 Z" fill="#2f6414"/>
<path d="M194.7,100.6 L195.3,94.5 L196.2,88.8 L197.3,83.4 L198.6,78.5 L199.9,73.9 L201.3,69.6 L202.9,65.6 L204.7,62.0 L206.7,58.7 L208.9,55.7 L211.3,53.0 L214.0,50.6 L214.0,50.5 L210.9,52.5 L208.1,54.9 L205.4,57.7 L202.9,60.9 L200.7,64.5 L198.7,68.6 L197.0,73.0 L195.6,77.7 L194.7,82.9 L193.9,88.4 L193.3,94.3 L193.0,100.4Z" fill="#448a1a"/>
<path d="M180.4,100.5 L180.4,92.5 L180.5,84.9 L180.4,77.8 L180.3,71.2 L179.8,65.1 L179.1,59.5 L178.3,54.4 L177.4,49.7 L176.3,45.6 L175.1,42.0 L173.8,38.9 L172.5,36.3 L172.4,36.3 L172.9,39.1 L173.4,42.4 L173.8,46.1 L174.2,50.2 L174.6,54.9 L174.9,59.9 L175.3,65.5 L175.7,71.5 L176.3,78.0 L176.9,85.0 L177.4,92.5 L177.8,100.5Z" fill="#33701a"/>
<path d="M175.9,100.4 L175.6,96.1 L175.1,91.9 L174.5,87.8 L173.9,83.8 L172.9,80.0 L171.7,76.4 L170.3,72.9 L168.8,69.6 L167.2,66.5 L165.4,63.5 L163.6,60.7 L161.6,58.1 L161.5,58.1 L163.0,61.0 L164.3,64.1 L165.6,67.2 L166.7,70.5 L167.8,73.8 L168.8,77.3 L169.7,80.9 L170.6,84.6 L171.7,88.4 L172.6,92.3 L173.4,96.4 L174.0,100.6Z" fill="#3a7a16"/>
<path d="M186.8,100.6 L187.3,94.9 L187.9,89.6 L188.5,84.7 L189.1,80.1 L189.5,75.9 L189.8,72.0 L190.1,68.4 L190.4,65.2 L190.7,62.3 L191.0,59.8 L191.2,57.5 L191.6,55.6 L191.4,55.6 L190.5,57.3 L189.5,59.4 L188.6,61.9 L187.7,64.7 L187.0,67.9 L186.3,71.5 L185.7,75.4 L185.2,79.7 L185.0,84.4 L184.8,89.4 L184.7,94.8 L184.6,100.4Z" fill="#3a7a16"/>
<path d="M191.5,100.4 L191.4,95.1 L191.2,89.9 L191.0,85.0 L190.8,80.3 L190.3,75.8 L189.6,71.5 L188.9,67.5 L188.0,63.7 L187.1,60.1 L186.1,56.7 L185.1,53.5 L184.1,50.6 L183.9,50.6 L184.2,53.7 L184.4,57.0 L184.6,60.5 L184.8,64.1 L185.1,68.0 L185.4,72.1 L185.7,76.3 L186.2,80.8 L186.9,85.4 L187.6,90.3 L188.3,95.3 L188.9,100.6Z" fill="#448a1a"/>
<path d="M160.8,100.4 L160.2,92.0 L159.5,84.2 L158.6,76.9 L157.5,70.2 L156.1,64.2 L154.4,58.8 L152.4,54.0 L150.3,49.8 L147.9,46.3 L145.4,43.4 L142.7,41.3 L140.0,39.8 L140.0,39.9 L142.2,41.9 L144.1,44.5 L145.9,47.6 L147.6,51.1 L149.2,55.3 L150.6,60.0 L152.0,65.3 L153.4,71.1 L154.8,77.6 L156.2,84.6 L157.3,92.3 L158.4,100.6Z" fill="#33701a"/>
<path d="M180.8,100.5 L181.1,95.4 L181.4,90.4 L181.9,85.8 L182.3,81.3 L182.6,77.0 L182.9,73.0 L183.2,69.2 L183.4,65.6 L183.7,62.2 L184.0,59.1 L184.4,56.1 L184.8,53.4 L184.6,53.3 L183.8,56.0 L182.9,58.8 L182.1,62.0 L181.4,65.3 L180.8,68.9 L180.2,72.7 L179.7,76.8 L179.4,81.1 L179.2,85.6 L179.2,90.3 L179.1,95.3 L179.1,100.5Z" fill="#2f6a12"/>
<path d="M161.2,100.5 L161.2,94.4 L161.1,88.7 L160.8,83.2 L160.2,78.0 L159.4,73.2 L158.2,68.7 L156.8,64.5 L155.2,60.7 L153.3,57.2 L151.3,54.1 L149.1,51.4 L146.7,48.9 L146.6,49.0 L148.6,51.7 L150.4,54.7 L151.9,57.9 L153.3,61.5 L154.6,65.3 L155.6,69.4 L156.6,73.8 L157.4,78.5 L158.2,83.5 L158.9,88.8 L159.3,94.5 L159.6,100.5Z" fill="#448a1a"/>
<path d="M162.2,100.2 L161.1,94.5 L159.8,89.0 L158.5,83.8 L157.1,78.9 L155.4,74.3 L153.5,70.0 L151.5,66.1 L149.4,62.5 L147.2,59.2 L144.9,56.3 L142.5,53.7 L140.1,51.3 L139.9,51.4 L141.8,54.2 L143.5,57.2 L145.2,60.4 L146.8,63.9 L148.4,67.6 L150.0,71.6 L151.5,75.8 L153.1,80.3 L154.9,84.9 L156.6,89.9 L158.3,95.2 L159.9,100.8Z" fill="#33701a"/>
<path d="M177.2,100.5 L177.3,94.0 L177.5,88.0 L177.6,82.4 L177.6,77.3 L177.5,72.6 L177.2,68.3 L176.8,64.4 L176.3,61.0 L175.8,58.0 L175.1,55.5 L174.5,53.4 L173.8,51.8 L173.7,51.9 L173.8,53.6 L173.8,55.7 L173.8,58.2 L173.8,61.2 L173.8,64.6 L173.9,68.4 L173.9,72.7 L174.1,77.4 L174.4,82.5 L174.7,88.1 L174.9,94.1 L175.2,100.5Z" fill="#33701a"/>
<path d="M194.7,100.6 L195.3,94.6 L195.9,89.1 L196.5,84.0 L197.1,79.5 L197.5,75.3 L197.9,71.6 L198.3,68.4 L198.6,65.6 L198.9,63.3 L199.2,61.4 L199.5,59.9 L199.9,58.9 L199.8,58.8 L199.0,59.6 L198.2,61.0 L197.3,62.9 L196.6,65.2 L195.8,68.0 L195.2,71.2 L194.6,75.0 L194.1,79.1 L193.8,83.8 L193.5,88.9 L193.3,94.4 L193.0,100.4Z" fill="#33701a"/>
<path d="M179.2,100.5 L179.1,92.2 L179.0,84.5 L178.9,77.1 L178.7,70.3 L178.2,63.8 L177.6,57.9 L176.9,52.4 L176.1,47.4 L175.2,42.8 L174.2,38.7 L173.1,35.1 L172.1,32.0 L171.9,32.0 L172.5,35.3 L172.9,39.0 L173.3,43.1 L173.7,47.7 L174.0,52.7 L174.4,58.2 L174.8,64.1 L175.2,70.5 L175.8,77.3 L176.3,84.6 L176.8,92.3 L177.2,100.5Z" fill="#33701a"/>
<path d="M187.7,100.5 L188.5,90.4 L189.7,81.0 L191.4,72.4 L193.5,64.5 L196.1,57.5 L198.9,51.2 L202.1,45.6 L205.9,40.6 L207.9,35.8 L209.1,34.6 L210.5,35.8 L212.4,40.6 L214.3,48.6 L215.9,60.0 L216.1,60.0 L214.7,48.6 L213.2,40.3 L211.6,35.2 L209.2,33.0 L206.4,34.8 L204.1,39.4 L200.2,44.3 L196.7,50.0 L193.7,56.5 L191.2,63.9 L189.3,71.9 L187.8,80.7 L186.8,90.2 L186.3,100.5Z" fill="#448a1a"/>
<path d="M171.9,100.5 L171.2,88.9 L170.0,78.1 L168.2,68.2 L165.9,59.1 L163.1,50.8 L159.5,43.4 L155.4,36.9 L150.7,31.3 L147.3,30.0 L144.4,29.5 L141.7,29.6 L139.2,30.5 L137.0,31.9 L134.9,33.9 L135.1,34.1 L137.2,32.3 L139.5,31.2 L141.8,30.8 L144.3,30.9 L146.8,31.6 L149.3,32.7 L153.6,38.2 L157.5,44.5 L160.8,51.7 L163.8,59.7 L166.3,68.6 L168.2,78.4 L169.7,89.0 L170.6,100.5Z" fill="#3a7a16"/>
<path d="M175.8,100.5 L175.6,91.7 L175.3,83.5 L175.0,75.7 L174.6,68.4 L173.9,61.6 L173.0,55.3 L171.9,49.5 L170.8,44.2 L169.5,39.4 L168.1,35.1 L166.6,31.3 L165.1,28.0 L164.9,28.0 L165.9,31.5 L166.8,35.4 L167.6,39.8 L168.4,44.7 L169.1,50.0 L169.7,55.8 L170.4,62.0 L171.1,68.8 L171.9,76.0 L172.6,83.7 L173.2,91.9 L173.8,100.5Z" fill="#3a7a16"/>
<path d="M189.5,100.5 L190.3,89.2 L191.1,78.5 L192.1,68.4 L193.3,59.0 L194.5,50.2 L195.8,42.1 L197.2,34.5 L198.7,27.6 L200.3,21.3 L202.1,15.6 L204.0,10.5 L206.1,6.0 L205.9,6.0 L203.6,10.3 L201.4,15.3 L199.4,21.0 L197.5,27.3 L195.7,34.2 L194.2,41.8 L192.8,50.0 L191.6,58.8 L190.6,68.3 L189.8,78.4 L189.1,89.1 L188.5,100.5Z" fill="#448a1a"/>
<path d="M165.3,100.4 L164.7,92.8 L163.9,85.8 L163.0,79.3 L162.1,73.3 L160.8,67.9 L159.2,63.1 L157.5,58.9 L155.7,55.3 L153.7,52.3 L151.6,49.8 L149.4,48.1 L147.2,46.9 L147.1,47.1 L148.9,48.6 L150.5,50.7 L152.0,53.3 L153.5,56.4 L154.8,60.0 L156.1,64.1 L157.3,68.8 L158.6,74.0 L159.9,79.8 L161.2,86.2 L162.3,93.1 L163.3,100.6Z" fill="#54991f"/>
<path d="M197.4,100.5 L197.6,92.4 L198.0,84.9 L198.6,78.1 L199.6,72.0 L200.6,66.5 L201.8,61.5 L203.1,57.2 L204.7,53.4 L206.6,50.2 L208.7,47.5 L211.1,45.2 L214.0,43.5 L214.0,43.4 L210.7,44.5 L207.6,46.2 L204.7,48.7 L202.2,51.9 L199.9,55.8 L198.1,60.4 L196.5,65.6 L195.5,71.4 L194.9,77.8 L194.7,84.8 L194.7,92.4 L195.1,100.5Z" fill="#5ca424"/>
<path d="M177.0,100.5 L177.5,94.0 L178.0,87.9 L178.6,82.2 L179.3,76.8 L179.7,71.8 L180.1,67.3 L180.5,63.0 L180.9,59.2 L181.3,55.7 L181.7,52.6 L182.1,49.9 L182.7,47.5 L182.5,47.4 L181.4,49.6 L180.3,52.2 L179.2,55.3 L178.3,58.7 L177.4,62.6 L176.6,66.8 L176.0,71.4 L175.5,76.5 L175.2,81.9 L175.0,87.7 L174.9,93.9 L174.8,100.5Z" fill="#54991f"/>
<path d="M189.0,100.6 L189.9,92.7 L190.8,85.4 L191.8,78.5 L193.0,72.1 L193.9,66.1 L194.9,60.6 L195.8,55.6 L196.8,51.0 L197.9,46.9 L198.9,43.2 L200.1,40.0 L201.4,37.2 L201.3,37.1 L199.4,39.6 L197.6,42.7 L196.0,46.2 L194.4,50.3 L192.9,54.9 L191.5,59.9 L190.3,65.5 L189.3,71.5 L188.6,78.0 L188.0,85.0 L187.4,92.5 L187.0,100.4Z" fill="#5ca424"/>
<path d="M186.0,100.8 L187.4,96.5 L189.0,92.4 L190.5,88.4 L192.2,84.7 L193.7,81.0 L195.1,77.4 L196.6,74.0 L198.1,70.8 L199.6,67.6 L201.1,64.6 L202.7,61.8 L204.4,59.1 L204.3,59.0 L202.1,61.4 L200.0,63.9 L197.9,66.7 L195.9,69.6 L194.0,72.8 L192.2,76.1 L190.5,79.6 L188.9,83.4 L187.6,87.4 L186.4,91.5 L185.2,95.8 L184.1,100.2Z" fill="#5ca424"/>
<path d="M197.2,100.6 L198.3,93.1 L199.3,86.0 L200.5,79.3 L201.6,73.0 L202.7,67.1 L203.8,61.5 L204.9,56.3 L206.0,51.5 L207.2,47.0 L208.4,42.9 L209.6,39.1 L210.9,35.8 L210.8,35.7 L209.1,38.9 L207.4,42.5 L205.7,46.5 L204.1,50.9 L202.7,55.7 L201.3,60.9 L200.0,66.5 L198.9,72.5 L198.0,78.9 L197.2,85.7 L196.4,92.9 L195.7,100.4Z" fill="#6cb22c"/>
<path d="M183.1,100.5 L183.5,92.8 L184.0,85.6 L184.4,78.7 L184.8,72.3 L185.1,66.4 L185.4,60.9 L185.5,55.8 L185.7,51.2 L185.9,47.0 L186.0,43.2 L186.1,39.9 L186.3,37.0 L186.2,37.0 L185.6,39.8 L184.9,43.1 L184.3,46.8 L183.8,51.0 L183.3,55.7 L182.8,60.7 L182.4,66.2 L182.1,72.2 L181.9,78.6 L181.8,85.5 L181.7,92.8 L181.6,100.5Z" fill="#6cb22c"/>
<path d="M183.4,100.5 L183.7,91.4 L184.0,83.1 L184.4,75.4 L184.8,68.4 L185.0,62.1 L185.2,56.5 L185.3,51.6 L185.4,47.4 L185.5,43.9 L185.6,41.0 L185.7,38.9 L185.9,37.4 L185.8,37.3 L185.2,38.7 L184.5,40.9 L183.9,43.7 L183.3,47.2 L182.9,51.4 L182.4,56.4 L182.0,62.0 L181.8,68.3 L181.7,75.3 L181.7,83.0 L181.7,91.4 L181.7,100.5Z" fill="#54991f"/>
<path d="M172.2,100.5 L172.2,93.7 L172.2,87.3 L172.0,81.3 L171.7,75.6 L171.1,70.2 L170.2,65.3 L169.1,60.7 L167.9,56.5 L166.6,52.6 L165.1,49.2 L163.4,46.2 L161.7,43.5 L161.6,43.6 L162.6,46.5 L163.5,49.8 L164.3,53.3 L165.0,57.2 L165.6,61.4 L166.2,65.9 L166.8,70.8 L167.4,76.0 L168.1,81.6 L168.8,87.5 L169.3,93.8 L169.8,100.5Z" fill="#54991f"/>
<path d="M173.1,100.5 L173.3,94.3 L173.4,88.6 L173.6,83.2 L173.7,78.2 L173.6,73.7 L173.2,69.5 L172.8,65.8 L172.3,62.4 L171.8,59.5 L171.2,57.0 L170.5,54.9 L169.8,53.2 L169.7,53.3 L169.6,55.0 L169.5,57.2 L169.4,59.7 L169.3,62.6 L169.2,66.0 L169.2,69.7 L169.2,73.8 L169.3,78.3 L169.7,83.3 L170.0,88.6 L170.3,94.4 L170.6,100.5Z" fill="#64ac28"/>
<path d="M194.6,100.5 L194.9,94.6 L195.5,89.2 L196.2,84.1 L197.1,79.5 L198.0,75.2 L198.9,71.3 L199.9,67.7 L201.0,64.5 L202.3,61.6 L203.8,59.0 L205.5,56.7 L207.4,54.8 L207.4,54.6 L204.9,56.1 L202.5,58.0 L200.3,60.3 L198.3,63.2 L196.6,66.4 L195.1,70.1 L193.8,74.2 L192.9,78.7 L192.4,83.7 L192.1,88.9 L192.1,94.5 L192.2,100.5Z" fill="#5ca424"/>
<path d="M193.8,100.6 L194.2,96.1 L194.8,91.8 L195.6,87.8 L196.4,83.9 L197.2,80.2 L198.0,76.7 L198.8,73.4 L199.8,70.2 L200.8,67.2 L202.0,64.3 L203.3,61.6 L204.7,59.1 L204.6,59.0 L202.8,61.3 L201.0,63.8 L199.3,66.5 L197.8,69.4 L196.5,72.6 L195.3,76.0 L194.2,79.5 L193.4,83.3 L192.9,87.4 L192.5,91.5 L192.2,95.9 L192.1,100.4Z" fill="#5ca424"/>
<path d="M166.2,100.5 L166.6,94.9 L167.1,89.6 L167.8,84.7 L168.6,80.2 L169.3,76.0 L170.0,72.1 L170.8,68.6 L171.7,65.4 L172.7,62.4 L173.8,59.8 L175.1,57.4 L176.7,55.3 L176.5,55.2 L174.4,56.8 L172.3,58.8 L170.4,61.3 L168.7,64.1 L167.2,67.4 L165.9,71.1 L164.8,75.1 L164.0,79.5 L163.7,84.3 L163.5,89.4 L163.5,94.8 L163.7,100.5Z" fill="#64ac28"/>
<path d="M171.8,100.4 L171.7,93.7 L171.5,87.4 L171.2,81.5 L170.9,76.0 L170.4,70.9 L169.6,66.3 L168.8,62.0 L167.9,58.2 L166.9,54.8 L165.8,51.9 L164.6,49.3 L163.5,47.2 L163.3,47.3 L164.0,49.6 L164.5,52.2 L164.9,55.3 L165.4,58.7 L165.9,62.5 L166.3,66.7 L166.8,71.4 L167.3,76.4 L168.0,81.8 L168.6,87.6 L169.2,93.9 L169.8,100.6Z" fill="#64ac28"/>
<path d="M180.9,100.5 L181.2,92.6 L181.5,85.1 L181.8,78.1 L182.2,71.6 L182.3,65.6 L182.4,60.0 L182.5,54.9 L182.6,50.2 L182.6,46.0 L182.7,42.3 L182.7,39.0 L182.8,36.2 L182.7,36.2 L182.1,38.9 L181.4,42.2 L180.9,45.9 L180.3,50.1 L179.9,54.7 L179.5,59.8 L179.2,65.4 L179.0,71.5 L179.0,78.1 L179.0,85.1 L179.1,92.5 L179.1,100.5Z" fill="#6cb22c"/>
<path d="M182.0,100.5 L182.0,92.8 L182.1,85.7 L182.1,79.1 L182.1,73.1 L181.7,67.7 L181.2,62.8 L180.6,58.5 L179.8,54.8 L179.0,51.7 L178.1,49.2 L177.1,47.2 L176.2,45.9 L176.0,46.0 L176.3,47.5 L176.4,49.6 L176.5,52.1 L176.6,55.3 L176.8,58.9 L176.9,63.2 L177.1,68.0 L177.4,73.3 L178.0,79.3 L178.5,85.8 L178.9,92.9 L179.3,100.5Z" fill="#6cb22c"/>
<path d="M173.6,100.5 L173.8,94.8 L174.0,89.5 L174.2,84.5 L174.4,80.0 L174.4,75.8 L174.2,72.1 L174.1,68.7 L173.9,65.7 L173.6,63.0 L173.3,60.8 L173.0,58.9 L172.8,57.4 L172.6,57.4 L172.3,58.9 L172.0,60.8 L171.7,63.0 L171.4,65.6 L171.2,68.7 L171.0,72.1 L170.9,75.8 L170.8,80.0 L171.0,84.5 L171.2,89.5 L171.4,94.8 L171.6,100.5Z" fill="#54991f"/>
<path d="M183.8,100.6 L184.4,92.6 L185.1,85.1 L185.8,78.0 L186.6,71.4 L187.3,65.3 L187.9,59.5 L188.5,54.2 L189.1,49.4 L189.7,44.9 L190.4,40.9 L191.2,37.2 L192.1,34.0 L191.9,34.0 L190.4,37.0 L188.9,40.4 L187.5,44.4 L186.2,48.8 L185.0,53.7 L184.0,59.0 L183.1,64.8 L182.4,71.0 L182.1,77.7 L181.8,84.9 L181.6,92.4 L181.5,100.4Z" fill="#5ca424"/>
<path d="M179.2,100.5 L179.8,92.1 L180.4,84.1 L181.2,76.7 L182.0,69.7 L182.7,63.1 L183.3,57.0 L184.0,51.4 L184.7,46.3 L185.5,41.5 L186.2,37.3 L187.1,33.4 L188.1,30.0 L187.9,30.0 L186.3,33.2 L184.8,36.8 L183.3,41.0 L182.0,45.7 L180.8,50.9 L179.8,56.5 L178.8,62.7 L178.1,69.3 L177.7,76.4 L177.4,84.0 L177.1,92.0 L177.0,100.5Z" fill="#54991f"/>
<path d="M173.3,100.4 L173.2,93.5 L173.1,86.8 L172.9,80.4 L172.5,74.2 L171.8,68.4 L170.8,62.9 L169.7,57.6 L168.4,52.7 L166.9,48.1 L165.3,43.8 L163.6,39.8 L161.8,36.1 L161.7,36.2 L162.7,40.1 L163.7,44.3 L164.5,48.7 L165.3,53.4 L166.0,58.3 L166.7,63.5 L167.3,69.0 L168.0,74.7 L168.8,80.7 L169.5,87.0 L170.2,93.6 L170.7,100.6Z" fill="#86c834"/>
<path d="M165.8,100.5 L165.9,91.7 L165.8,83.5 L165.6,75.9 L165.2,68.9 L164.6,62.4 L163.7,56.6 L162.6,51.3 L161.3,46.7 L159.8,42.6 L158.2,39.2 L156.5,36.5 L154.6,34.3 L154.5,34.4 L156.0,36.8 L157.2,39.7 L158.4,43.2 L159.4,47.2 L160.3,51.8 L161.1,57.0 L161.8,62.8 L162.4,69.1 L163.1,76.1 L163.6,83.6 L164.0,91.8 L164.2,100.5Z" fill="#8ecd3c"/>
<path d="M165.9,100.2 L164.4,94.5 L162.9,89.0 L161.3,83.6 L159.5,78.4 L157.6,73.4 L155.4,68.7 L153.1,64.1 L150.7,59.7 L148.2,55.5 L145.6,51.6 L142.8,47.8 L140.1,44.2 L139.9,44.3 L142.3,48.2 L144.5,52.2 L146.6,56.4 L148.6,60.8 L150.7,65.3 L152.6,69.9 L154.5,74.7 L156.4,79.6 L158.5,84.6 L160.4,89.8 L162.3,95.2 L164.1,100.8Z" fill="#8ecd3c"/>
<path d="M195.5,100.6 L196.6,91.5 L197.8,83.2 L199.0,75.6 L200.2,68.6 L201.4,62.4 L202.5,56.8 L203.6,51.8 L204.7,47.6 L205.9,44.0 L207.1,41.1 L208.3,38.8 L209.7,37.2 L209.6,37.1 L207.8,38.5 L206.1,40.5 L204.4,43.4 L202.8,46.9 L201.2,51.2 L199.8,56.1 L198.5,61.8 L197.3,68.1 L196.4,75.2 L195.5,82.9 L194.6,91.3 L193.9,100.4Z" fill="#7cc22a"/>
<path d="M173.8,100.4 L173.3,92.5 L172.7,85.0 L171.9,78.0 L171.0,71.3 L169.7,65.2 L168.2,59.4 L166.4,54.2 L164.5,49.4 L162.4,45.0 L160.1,41.2 L157.6,37.8 L155.1,35.0 L154.9,35.0 L157.0,38.3 L158.8,41.9 L160.5,45.9 L162.1,50.3 L163.5,55.1 L164.9,60.3 L166.1,66.0 L167.4,72.0 L168.7,78.5 L169.8,85.4 L170.8,92.8 L171.7,100.6Z" fill="#86c834"/>
<path d="M181.5,100.5 L181.8,91.6 L182.1,83.1 L182.5,75.2 L182.9,67.8 L183.0,60.8 L183.1,54.4 L183.1,48.4 L183.1,43.0 L183.1,38.0 L183.1,33.5 L183.1,29.5 L183.1,26.0 L182.9,26.0 L182.3,29.4 L181.6,33.4 L181.0,37.9 L180.5,42.8 L180.0,48.3 L179.6,54.2 L179.2,60.7 L179.0,67.7 L179.1,75.1 L179.1,83.1 L179.2,91.5 L179.3,100.5Z" fill="#86c834"/>
<path d="M176.1,100.5 L176.4,92.1 L176.7,84.1 L177.0,76.6 L177.4,69.5 L177.6,63.0 L177.7,56.8 L177.8,51.2 L177.8,46.0 L177.9,41.3 L177.9,37.1 L178.0,33.3 L178.1,30.0 L177.9,30.0 L177.3,33.3 L176.7,37.0 L176.1,41.2 L175.6,45.9 L175.1,51.1 L174.7,56.7 L174.4,62.8 L174.2,69.4 L174.2,76.5 L174.2,84.0 L174.2,92.0 L174.3,100.5Z" fill="#86c834"/>
<path d="M169.7,100.4 L169.0,90.4 L168.0,80.9 L166.9,71.9 L165.6,63.5 L163.9,55.7 L162.0,48.4 L159.9,41.7 L157.5,35.6 L154.9,30.1 L152.2,25.1 L149.2,20.8 L146.1,17.0 L145.9,17.0 L148.8,21.0 L151.4,25.6 L153.8,30.6 L156.0,36.2 L158.0,42.4 L159.9,49.0 L161.7,56.2 L163.3,64.0 L164.8,72.3 L166.2,81.1 L167.4,90.6 L168.4,100.6Z" fill="#72b828"/>
<path d="M186.2,100.6 L186.9,93.3 L187.7,86.5 L188.7,80.1 L189.7,74.1 L190.7,68.5 L191.8,63.3 L192.9,58.5 L194.1,54.1 L195.4,50.0 L196.8,46.3 L198.4,43.0 L200.1,40.0 L199.9,40.0 L197.9,42.7 L195.8,45.8 L193.9,49.4 L192.2,53.4 L190.6,57.8 L189.1,62.7 L187.9,67.9 L186.8,73.6 L186.0,79.8 L185.4,86.3 L184.9,93.2 L184.5,100.4Z" fill="#7abd30"/>
<path d="M167.0,100.0 L166.0,83.2" stroke="#a6d27a" stroke-width="1.5"/>
<path d="M188.5,100.0 L186.6,72.4" stroke="#b2d88a" stroke-width="1.3"/>
<path d="M163.5,100.0 L164.5,76.5" stroke="#8cc45a" stroke-width="0.9"/>
<path d="M175.3,100.0 L172.6,85.0" stroke="#a6d27a" stroke-width="1.1"/>
<path d="M171.9,100.0 L171.7,72.8" stroke="#7dbb48" stroke-width="1.1"/>
<path d="M165.6,100.0 L164.8,77.1" stroke="#8cc45a" stroke-width="1.0"/>
<path d="M180.1,100.0 L180.7,70.2" stroke="#8cc45a" stroke-width="0.8"/>
<path d="M173.3,100.0 L173.7,85.5" stroke="#9fcf6a" stroke-width="1.1"/>
<path d="M161.9,100.0 L161.6,70.9" stroke="#7dbb48" stroke-width="1.3"/>
<path d="M184.0,100.0 L186.4,81.1" stroke="#7dbb48" stroke-width="1.4"/>
<path d="M188.1,100.0 L186.7,84.3" stroke="#9fcf6a" stroke-width="0.9"/>
<path d="M191.4,100.0 L191.1,70.7" stroke="#9fcf6a" stroke-width="0.8"/>
<path d="M212.5,102.2 C208.2,96.5 215.6,93.7 232.4,93.7 C249.2,93.7 256.6,96.5 252.3,102.2 Z" fill="#2f6414"/>
<path d="M252.2,102.2 L252.6,97.3 L253.2,92.7 L254.1,88.3 L255.3,84.1 L256.5,80.1 L257.9,76.3 L259.5,72.6 L261.4,69.0 L263.6,65.6 L266.1,62.2 L268.9,59.0 L272.0,56.0 L272.0,55.9 L268.3,58.4 L264.9,61.1 L261.8,64.0 L258.9,67.3 L256.4,70.8 L254.3,74.6 L252.4,78.7 L251.1,83.0 L250.3,87.6 L249.8,92.3 L249.6,97.2 L249.8,102.2Z" fill="#33701a"/>
<path d="M238.5,102.3 L239.2,92.7 L240.0,83.9 L240.8,75.8 L241.6,68.4 L242.4,61.7 L243.0,55.8 L243.6,50.5 L244.2,46.0 L244.9,42.2 L245.5,39.1 L246.2,36.7 L247.0,34.9 L246.9,34.8 L245.6,36.3 L244.2,38.6 L242.9,41.7 L241.7,45.5 L240.6,50.0 L239.6,55.3 L238.7,61.3 L237.9,68.0 L237.5,75.5 L237.0,83.7 L236.7,92.5 L236.4,102.1Z" fill="#2f6a12"/>
<path d="M224.1,102.1 L223.9,95.2 L223.5,88.5 L223.1,82.1 L222.7,75.8 L222.1,69.8 L221.3,64.1 L220.4,58.6 L219.4,53.3 L218.3,48.3 L217.2,43.6 L216.0,39.0 L214.8,34.8 L214.7,34.8 L215.4,39.2 L216.1,43.8 L216.7,48.6 L217.3,53.7 L217.9,58.9 L218.5,64.4 L219.1,70.2 L219.7,76.1 L220.5,82.3 L221.2,88.7 L221.8,95.4 L222.5,102.3Z" fill="#3a7a16"/>
<path d="M250.5,102.2 L250.7,95.8 L251.0,89.6 L251.4,83.7 L251.9,78.2 L252.2,72.9 L252.4,67.9 L252.7,63.2 L252.9,58.7 L253.2,54.5 L253.5,50.6 L253.9,47.0 L254.4,43.6 L254.2,43.6 L253.1,46.8 L252.0,50.4 L251.1,54.2 L250.2,58.4 L249.4,62.8 L248.8,67.6 L248.2,72.6 L247.9,78.0 L247.9,83.6 L247.9,89.5 L248.0,95.7 L248.2,102.2Z" fill="#33701a"/>
<path d="M241.0,102.2 L241.3,94.8 L241.7,87.6 L242.3,80.8 L243.1,74.2 L243.8,67.9 L244.5,61.9 L245.4,56.1 L246.3,50.6 L247.4,45.4 L248.7,40.4 L250.0,35.6 L251.6,31.1 L251.5,31.1 L249.3,35.4 L247.3,39.9 L245.5,44.8 L243.8,50.0 L242.4,55.5 L241.1,61.3 L240.1,67.4 L239.4,73.8 L239.0,80.5 L238.8,87.5 L238.8,94.7 L238.9,102.2Z" fill="#448a1a"/>
<path d="M248.7,102.2 L249.0,96.1 L249.6,90.3 L250.4,84.6 L251.4,79.2 L252.4,73.9 L253.4,68.8 L254.7,63.9 L256.1,59.1 L257.8,54.5 L259.6,50.0 L261.7,45.6 L264.0,41.4 L263.9,41.3 L260.9,45.1 L258.1,49.2 L255.6,53.5 L253.3,58.0 L251.3,62.8 L249.6,67.8 L248.1,73.0 L247.1,78.5 L246.5,84.2 L246.2,90.0 L246.1,96.0 L246.3,102.2Z" fill="#2f6a12"/>
<path d="M238.4,102.4 L239.6,96.7 L240.8,91.4 L242.1,86.5 L243.5,81.8 L244.7,77.4 L245.9,73.4 L247.1,69.6 L248.4,66.1 L249.7,62.9 L251.0,59.9 L252.4,57.3 L253.9,54.9 L253.7,54.8 L251.8,56.9 L250.0,59.3 L248.1,62.1 L246.4,65.2 L244.7,68.7 L243.2,72.4 L241.7,76.6 L240.5,81.0 L239.4,85.8 L238.5,90.9 L237.5,96.3 L236.7,102.0Z" fill="#448a1a"/>
<path d="M215.6,102.2 L215.3,95.0 L214.9,88.3 L214.3,82.0 L213.5,76.3 L212.3,71.0 L210.9,66.3 L209.2,62.1 L207.3,58.4 L205.3,55.2 L203.0,52.6 L200.6,50.6 L198.0,49.0 L198.0,49.2 L200.2,51.0 L202.1,53.4 L203.9,56.1 L205.5,59.3 L207.0,63.0 L208.3,67.1 L209.5,71.7 L210.6,76.8 L211.7,82.4 L212.6,88.5 L213.4,95.1 L214.0,102.2Z" fill="#33701a"/>
<path d="M241.6,102.3 L242.6,95.3 L243.7,88.6 L245.0,82.2 L246.4,75.9 L247.6,69.9 L248.9,64.1 L250.3,58.6 L251.7,53.2 L253.2,48.1 L254.8,43.1 L256.5,38.4 L258.4,33.9 L258.3,33.8 L255.8,38.0 L253.3,42.5 L251.0,47.2 L248.9,52.3 L246.9,57.6 L245.1,63.2 L243.5,69.0 L242.2,75.1 L241.3,81.5 L240.5,88.1 L239.8,95.0 L239.2,102.1Z" fill="#33701a"/>
<path d="M245.1,102.2 L245.3,95.2 L245.6,88.5 L245.9,82.2 L246.3,76.2 L246.6,70.5 L246.8,65.2 L247.1,60.2 L247.3,55.5 L247.6,51.1 L247.9,47.1 L248.2,43.3 L248.6,39.9 L248.5,39.9 L247.6,43.2 L246.6,46.9 L245.8,50.9 L245.0,55.2 L244.3,59.9 L243.8,65.0 L243.3,70.4 L243.0,76.1 L243.0,82.1 L243.0,88.5 L243.1,95.2 L243.2,102.2Z" fill="#2f6a12"/>
<path d="M246.1,102.2 L246.5,96.9 L246.9,91.9 L247.4,87.1 L248.0,82.7 L248.5,78.5 L248.9,74.6 L249.4,71.0 L250.0,67.7 L250.6,64.6 L251.2,61.7 L251.9,59.2 L252.7,56.9 L252.6,56.8 L251.4,58.9 L250.2,61.4 L249.1,64.1 L248.1,67.2 L247.2,70.6 L246.4,74.2 L245.7,78.2 L245.2,82.4 L244.9,86.9 L244.7,91.7 L244.6,96.8 L244.5,102.2Z" fill="#2f6a12"/>
<path d="M221.8,102.2 L222.4,95.1 L222.9,88.2 L223.5,81.7 L224.1,75.5 L224.5,69.5 L224.8,63.9 L225.0,58.6 L225.3,53.6 L225.5,48.8 L225.7,44.4 L225.9,40.3 L226.1,36.5 L226.0,36.5 L225.1,40.2 L224.2,44.2 L223.3,48.6 L222.5,53.3 L221.8,58.3 L221.1,63.6 L220.6,69.2 L220.1,75.2 L220.0,81.5 L219.8,88.1 L219.7,95.0 L219.6,102.2Z" fill="#33701a"/>
<path d="M243.3,102.3 L244.4,95.5 L245.8,89.1 L247.4,83.1 L249.1,77.5 L250.9,72.3 L252.8,67.4 L254.8,62.8 L257.0,58.6 L259.5,54.7 L262.1,51.2 L264.9,47.9 L268.0,45.1 L268.0,44.9 L264.4,47.4 L261.1,50.3 L257.9,53.6 L255.0,57.3 L252.3,61.5 L249.8,66.1 L247.7,71.1 L245.8,76.5 L244.3,82.4 L243.1,88.6 L242.1,95.2 L241.4,102.1Z" fill="#33701a"/>
<path d="M242.7,102.3 L243.6,93.5 L244.9,85.4 L246.8,78.0 L249.1,71.3 L251.9,65.2 L255.0,59.8 L258.6,55.0 L262.7,50.7 L266.9,46.4 L270.7,45.0 L274.3,46.2 L278.0,50.5 L281.6,57.7 L284.9,68.0 L285.1,68.0 L282.0,57.6 L278.7,50.1 L275.0,45.4 L270.7,43.5 L266.0,44.9 L261.3,49.3 L257.0,53.5 L253.1,58.5 L249.7,64.1 L247.0,70.5 L244.9,77.5 L243.2,85.1 L242.1,93.3 L241.4,102.1Z" fill="#3a7a16"/>
<path d="M230.1,102.2 L229.8,92.0 L229.4,82.5 L228.9,73.5 L228.3,65.0 L227.4,57.1 L226.4,49.8 L225.1,43.1 L223.8,36.9 L222.3,31.3 L220.6,26.3 L218.9,21.8 L217.1,18.0 L216.9,18.0 L218.3,22.0 L219.5,26.6 L220.7,31.7 L221.7,37.3 L222.7,43.5 L223.7,50.2 L224.5,57.5 L225.4,65.3 L226.3,73.7 L227.1,82.6 L227.9,92.1 L228.5,102.2Z" fill="#448a1a"/>
<path d="M224.7,102.1 L224.0,91.9 L222.6,82.4 L220.7,73.6 L218.1,65.5 L214.9,58.1 L210.9,51.6 L206.2,45.8 L201.1,41.1 L199.5,37.9 L197.0,36.4 L194.9,38.1 L193.7,41.7 L192.8,47.3 L191.9,55.0 L192.1,55.0 L193.4,47.4 L194.9,42.0 L196.3,39.0 L196.9,38.6 L197.4,39.4 L198.9,42.9 L203.8,48.0 L208.1,53.5 L211.8,59.8 L215.1,66.7 L217.9,74.4 L220.1,82.9 L221.7,92.2 L222.8,102.3Z" fill="#3a7a16"/>
<path d="M240.5,102.2 L240.7,94.9 L240.9,87.8 L241.1,81.1 L241.3,74.7 L241.2,68.6 L240.9,62.9 L240.5,57.5 L240.1,52.3 L239.6,47.6 L239.0,43.1 L238.4,39.0 L237.7,35.1 L237.6,35.2 L237.4,39.0 L237.2,43.2 L237.0,47.7 L236.9,52.5 L236.7,57.6 L236.6,63.0 L236.6,68.7 L236.7,74.8 L237.0,81.2 L237.3,87.9 L237.6,94.9 L237.9,102.2Z" fill="#5ca424"/>
<path d="M231.3,102.2 L231.6,92.5 L231.9,83.4 L232.2,75.1 L232.6,67.5 L232.9,60.6 L233.1,54.5 L233.3,49.0 L233.4,44.2 L233.6,40.2 L233.8,36.9 L233.9,34.2 L234.2,32.3 L234.1,32.2 L233.4,34.1 L232.7,36.7 L232.0,40.0 L231.4,44.1 L230.9,48.8 L230.4,54.3 L230.0,60.5 L229.7,67.4 L229.7,75.0 L229.6,83.4 L229.6,92.4 L229.6,102.2Z" fill="#5ca424"/>
<path d="M238.7,102.2 L238.9,93.5 L239.0,85.5 L239.2,78.0 L239.3,71.0 L239.2,64.6 L239.0,58.8 L238.7,53.6 L238.4,48.9 L238.0,44.8 L237.6,41.2 L237.1,38.3 L236.7,35.9 L236.5,35.9 L236.4,38.3 L236.2,41.3 L236.0,44.8 L235.9,48.9 L235.8,53.6 L235.7,58.9 L235.7,64.7 L235.7,71.0 L236.0,78.0 L236.3,85.5 L236.5,93.6 L236.7,102.2Z" fill="#54991f"/>
<path d="M222.7,102.2 L222.4,92.8 L222.1,84.0 L221.7,75.9 L221.2,68.4 L220.4,61.6 L219.4,55.5 L218.2,50.0 L216.9,45.1 L215.5,40.9 L213.9,37.4 L212.3,34.6 L210.6,32.5 L210.4,32.6 L211.7,34.9 L212.8,37.9 L213.8,41.5 L214.8,45.7 L215.6,50.5 L216.5,55.9 L217.2,62.0 L218.0,68.8 L218.9,76.2 L219.6,84.2 L220.3,92.9 L220.9,102.2Z" fill="#5ca424"/>
<path d="M226.3,102.1 L226.2,96.7 L226.0,91.5 L225.6,86.5 L225.1,81.8 L224.2,77.4 L223.0,73.3 L221.6,69.6 L220.0,66.1 L218.2,62.9 L216.3,60.1 L214.2,57.7 L212.0,55.5 L211.9,55.6 L213.4,58.2 L214.8,61.0 L215.9,64.0 L217.0,67.3 L218.0,70.8 L218.9,74.5 L219.8,78.4 L220.6,82.6 L221.6,87.1 L222.5,91.9 L223.2,96.9 L223.8,102.3Z" fill="#64ac28"/>
<path d="M247.6,102.2 L248.0,96.2 L248.6,90.4 L249.3,84.8 L250.1,79.6 L250.8,74.5 L251.5,69.7 L252.2,65.1 L253.1,60.8 L254.0,56.6 L255.0,52.7 L256.1,49.0 L257.4,45.5 L257.3,45.5 L255.4,48.7 L253.5,52.2 L251.8,55.9 L250.3,60.0 L248.9,64.4 L247.7,69.0 L246.7,73.9 L246.0,79.0 L245.6,84.5 L245.4,90.1 L245.3,96.0 L245.3,102.2Z" fill="#64ac28"/>
<path d="M224.6,102.2 L224.8,95.9 L224.9,89.9 L224.8,84.1 L224.7,78.5 L224.3,73.2 L223.6,68.1 L222.8,63.2 L221.9,58.6 L220.8,54.3 L219.6,50.2 L218.2,46.4 L216.8,42.8 L216.7,42.9 L217.5,46.6 L218.2,50.5 L218.8,54.7 L219.3,59.1 L219.8,63.7 L220.3,68.5 L220.6,73.5 L221.0,78.8 L221.6,84.3 L222.0,90.0 L222.3,96.0 L222.5,102.2Z" fill="#64ac28"/>
<path d="M219.6,102.1 L219.2,94.6 L218.7,87.4 L218.3,80.5 L217.8,73.9 L217.0,67.7 L216.0,61.8 L214.9,56.3 L213.7,51.1 L212.5,46.2 L211.2,41.6 L209.8,37.5 L208.4,33.6 L208.3,33.7 L208.9,37.7 L209.5,42.0 L210.0,46.7 L210.6,51.6 L211.2,56.9 L211.8,62.4 L212.5,68.3 L213.2,74.5 L214.2,80.9 L215.2,87.7 L216.1,94.9 L217.0,102.3Z" fill="#64ac28"/>
<path d="M228.7,102.2 L229.0,94.7 L229.0,87.7 L229.0,81.0 L228.8,74.7 L228.2,68.9 L227.5,63.4 L226.5,58.4 L225.4,53.8 L224.1,49.7 L222.6,46.0 L221.0,42.7 L219.3,39.9 L219.1,39.9 L220.5,43.0 L221.6,46.4 L222.6,50.1 L223.4,54.3 L224.2,58.8 L224.8,63.8 L225.4,69.2 L225.9,74.9 L226.4,81.1 L226.8,87.7 L227.0,94.7 L227.1,102.2Z" fill="#64ac28"/>
<path d="M243.6,102.2 L243.8,95.9 L244.4,90.1 L245.2,84.6 L246.5,79.6 L247.8,74.9 L249.4,70.5 L251.3,66.5 L253.4,62.8 L255.9,59.4 L258.7,56.3 L261.9,53.5 L265.6,51.1 L265.5,50.9 L261.6,52.9 L257.9,55.3 L254.6,58.2 L251.6,61.5 L249.0,65.2 L246.7,69.3 L244.8,73.9 L243.4,78.8 L242.4,84.1 L241.9,89.8 L241.7,95.9 L241.8,102.2Z" fill="#5ca424"/>
<path d="M241.7,102.2 L241.8,92.4 L242.0,83.3 L242.2,74.9 L242.5,67.3 L242.6,60.4 L242.6,54.2 L242.6,48.7 L242.6,44.0 L242.6,40.0 L242.6,36.7 L242.6,34.1 L242.7,32.3 L242.5,32.2 L242.0,34.0 L241.4,36.6 L240.9,39.9 L240.4,43.9 L240.0,48.6 L239.7,54.1 L239.5,60.3 L239.4,67.2 L239.4,74.9 L239.6,83.3 L239.7,92.4 L239.9,102.2Z" fill="#54991f"/>
<path d="M220.8,102.2 L221.0,97.3 L221.1,92.6 L221.1,88.0 L221.0,83.5 L220.7,79.2 L220.1,75.1 L219.4,71.2 L218.6,67.4 L217.6,63.9 L216.6,60.5 L215.4,57.3 L214.1,54.3 L214.0,54.3 L214.6,57.5 L215.1,60.8 L215.6,64.3 L216.0,67.9 L216.3,71.6 L216.7,75.5 L216.9,79.6 L217.3,83.8 L217.7,88.1 L218.1,92.6 L218.4,97.3 L218.7,102.2Z" fill="#64ac28"/>
<path d="M245.5,102.2 L245.6,94.2 L245.9,86.5 L246.2,79.4 L246.6,72.7 L246.9,66.4 L247.1,60.5 L247.4,55.1 L247.7,50.1 L248.0,45.5 L248.4,41.3 L248.8,37.6 L249.4,34.2 L249.2,34.2 L248.2,37.4 L247.2,41.1 L246.2,45.2 L245.4,49.8 L244.7,54.8 L244.1,60.3 L243.6,66.2 L243.3,72.5 L243.2,79.3 L243.3,86.5 L243.4,94.1 L243.6,102.2Z" fill="#5ca424"/>
<path d="M230.4,102.2 L230.6,95.9 L230.8,90.0 L231.1,84.5 L231.4,79.5 L231.4,74.9 L231.4,70.7 L231.2,66.9 L231.1,63.6 L230.9,60.7 L230.7,58.2 L230.5,56.1 L230.3,54.4 L230.2,54.4 L229.7,56.1 L229.2,58.1 L228.8,60.6 L228.4,63.5 L228.0,66.9 L227.7,70.6 L227.5,74.8 L227.4,79.5 L227.6,84.5 L227.8,90.0 L228.0,95.9 L228.2,102.2Z" fill="#6cb22c"/>
<path d="M233.2,102.2 L233.3,94.2 L233.3,86.9 L233.4,80.1 L233.4,73.9 L233.3,68.4 L233.1,63.4 L232.8,59.0 L232.4,55.3 L232.0,52.1 L231.6,49.6 L231.1,47.6 L230.7,46.3 L230.5,46.4 L230.5,47.7 L230.5,49.7 L230.4,52.2 L230.4,55.4 L230.4,59.1 L230.4,63.5 L230.4,68.4 L230.6,74.0 L230.8,80.1 L231.1,86.9 L231.3,94.2 L231.6,102.2Z" fill="#5ca424"/>
<path d="M239.0,102.2 L239.3,96.6 L239.5,91.4 L239.8,86.5 L240.1,81.9 L240.2,77.7 L240.3,73.8 L240.4,70.3 L240.4,67.1 L240.5,64.2 L240.5,61.7 L240.6,59.4 L240.8,57.5 L240.6,57.5 L239.9,59.3 L239.2,61.5 L238.6,64.0 L238.1,66.9 L237.6,70.1 L237.2,73.7 L236.9,77.6 L236.7,81.8 L236.7,86.4 L236.8,91.3 L237.0,96.6 L237.1,102.2Z" fill="#64ac28"/>
<path d="M224.1,102.2 L224.3,94.4 L224.3,87.1 L224.0,80.2 L223.5,73.8 L222.5,67.8 L221.2,62.2 L219.5,57.2 L217.6,52.6 L215.4,48.5 L212.9,45.0 L210.1,41.9 L207.2,39.4 L207.1,39.5 L209.6,42.4 L211.8,45.7 L213.7,49.4 L215.4,53.5 L216.9,58.0 L218.2,63.0 L219.3,68.4 L220.2,74.2 L221.1,80.5 L221.7,87.2 L222.1,94.5 L222.2,102.2Z" fill="#64ac28"/>
<path d="M233.4,102.2 L233.9,92.6 L234.4,83.5 L235.0,75.0 L235.6,67.0 L236.1,59.5 L236.6,52.6 L237.1,46.2 L237.6,40.3 L238.1,35.0 L238.7,30.1 L239.3,25.8 L240.1,22.0 L239.9,22.0 L238.7,25.7 L237.5,29.9 L236.4,34.7 L235.4,40.0 L234.5,45.9 L233.7,52.3 L233.0,59.3 L232.5,66.8 L232.2,74.9 L232.0,83.4 L231.8,92.5 L231.7,102.2Z" fill="#6cb22c"/>
<path d="M230.5,102.2 L230.5,92.9 L230.5,84.2 L230.4,75.9 L230.3,68.2 L230.0,60.9 L229.5,54.2 L228.9,48.1 L228.3,42.4 L227.6,37.3 L226.8,32.6 L225.9,28.6 L225.1,25.0 L224.9,25.0 L225.3,28.7 L225.5,32.8 L225.7,37.4 L226.0,42.6 L226.2,48.3 L226.4,54.4 L226.7,61.1 L227.0,68.3 L227.4,76.0 L227.9,84.2 L228.3,93.0 L228.6,102.2Z" fill="#5ca424"/>
<path d="M238.7,102.3 L239.3,93.4 L240.1,85.0 L240.8,77.1 L241.7,69.8 L242.5,62.9 L243.1,56.5 L243.8,50.5 L244.6,45.1 L245.3,40.1 L246.2,35.6 L247.0,31.6 L248.1,28.0 L247.9,28.0 L246.2,31.3 L244.6,35.2 L243.1,39.6 L241.7,44.5 L240.4,50.0 L239.3,55.9 L238.3,62.4 L237.5,69.3 L237.1,76.8 L236.8,84.8 L236.5,93.2 L236.4,102.1Z" fill="#6cb22c"/>
<path d="M246.0,102.2 L246.3,97.2 L246.6,92.4 L246.9,87.8 L247.2,83.4 L247.3,79.2 L247.3,75.2 L247.3,71.4 L247.3,67.8 L247.2,64.3 L247.2,61.1 L247.1,58.1 L247.0,55.2 L246.9,55.2 L246.4,58.0 L245.8,61.0 L245.3,64.2 L244.9,67.6 L244.5,71.3 L244.1,75.1 L243.8,79.1 L243.7,83.3 L243.8,87.7 L243.9,92.4 L244.0,97.2 L244.1,102.2Z" fill="#8ecd3c"/>
<path d="M243.4,102.6 L245.4,97.6 L247.5,92.9 L249.7,88.4 L251.9,84.0 L254.0,79.8 L256.0,75.7 L258.1,71.7 L260.3,67.9 L262.5,64.2 L264.7,60.7 L267.0,57.2 L269.5,54.0 L269.4,53.9 L266.5,56.8 L263.6,59.8 L260.8,63.0 L258.1,66.4 L255.5,70.1 L253.0,74.0 L250.6,78.1 L248.5,82.4 L246.6,87.0 L244.8,91.8 L243.1,96.7 L241.5,101.8Z" fill="#8ecd3c"/>
<path d="M226.7,102.2 L226.9,92.9 L227.0,84.1 L226.8,76.0 L226.5,68.4 L225.7,61.4 L224.6,55.0 L223.2,49.2 L221.6,44.1 L219.7,39.6 L217.7,35.7 L215.4,32.6 L213.0,30.0 L212.8,30.1 L214.7,33.0 L216.2,36.5 L217.5,40.4 L218.7,45.0 L219.8,50.0 L220.7,55.7 L221.5,61.9 L222.2,68.8 L223.0,76.2 L223.6,84.2 L224.0,92.9 L224.2,102.2Z" fill="#8ecd3c"/>
<path d="M244.6,102.2 L244.7,93.9 L244.9,86.0 L244.9,78.7 L245.0,71.9 L244.8,65.5 L244.4,59.7 L243.9,54.4 L243.3,49.6 L242.7,45.3 L242.0,41.5 L241.2,38.2 L240.3,35.5 L240.2,35.5 L240.4,38.4 L240.6,41.7 L240.7,45.5 L240.8,49.8 L241.0,54.6 L241.1,59.9 L241.2,65.7 L241.4,72.0 L241.7,78.7 L242.1,86.1 L242.3,93.9 L242.5,102.2Z" fill="#86c834"/>
<path d="M223.2,102.2 L222.9,95.4 L222.6,89.2 L222.3,83.3 L222.0,78.0 L221.5,73.0 L220.8,68.6 L220.1,64.6 L219.2,61.1 L218.4,58.0 L217.5,55.5 L216.5,53.4 L215.6,51.7 L215.4,51.8 L215.9,53.6 L216.4,55.8 L216.8,58.4 L217.2,61.5 L217.7,65.0 L218.1,69.0 L218.6,73.4 L219.1,78.2 L219.7,83.6 L220.4,89.3 L221.0,95.6 L221.5,102.2Z" fill="#72b828"/>
<path d="M234.1,102.2 L234.4,93.6 L234.7,85.4 L235.0,77.7 L235.4,70.5 L235.5,63.7 L235.7,57.5 L235.7,51.7 L235.8,46.4 L235.9,41.6 L235.9,37.3 L236.0,33.4 L236.1,30.0 L235.9,30.0 L235.3,33.3 L234.7,37.2 L234.1,41.5 L233.6,46.3 L233.2,51.6 L232.8,57.4 L232.4,63.6 L232.2,70.4 L232.2,77.6 L232.3,85.3 L232.3,93.5 L232.4,102.2Z" fill="#72b828"/>
<path d="M221.4,102.1 L220.7,95.2 L219.8,88.6 L218.6,82.4 L217.2,76.5 L215.5,71.1 L213.4,66.1 L211.0,61.5 L208.4,57.3 L205.6,53.6 L202.6,50.3 L199.4,47.4 L196.0,44.9 L196.0,45.1 L198.9,47.9 L201.6,51.2 L204.1,54.7 L206.4,58.6 L208.5,62.8 L210.5,67.4 L212.3,72.3 L214.0,77.5 L215.6,83.1 L217.1,89.1 L218.4,95.5 L219.5,102.3Z" fill="#7abd30"/>
<path d="M239.4,102.3 L240.3,93.4 L241.4,85.0 L242.6,77.2 L243.9,69.8 L245.3,62.9 L246.7,56.5 L248.3,50.6 L249.9,45.2 L251.7,40.2 L253.7,35.7 L255.7,31.6 L258.1,28.0 L257.9,28.0 L255.2,31.3 L252.6,35.1 L250.2,39.5 L248.0,44.5 L245.9,49.9 L244.1,55.8 L242.4,62.3 L241.0,69.3 L240.0,76.8 L239.1,84.7 L238.3,93.2 L237.8,102.1Z" fill="#7abd30"/>
<path d="M226.4,102.1 L226.0,94.2 L225.4,86.6 L224.7,79.5 L223.9,72.8 L222.7,66.5 L221.2,60.8 L219.6,55.5 L217.8,50.6 L215.8,46.2 L213.7,42.3 L211.4,38.9 L209.1,36.0 L208.9,36.0 L210.8,39.3 L212.5,42.9 L214.1,47.0 L215.6,51.4 L216.9,56.3 L218.2,61.5 L219.3,67.2 L220.5,73.4 L221.7,79.9 L222.8,86.9 L223.7,94.4 L224.5,102.3Z" fill="#7abd30"/>
<path d="M235.7,102.2 L235.8,91.1 L235.8,80.7 L235.8,70.8 L235.7,61.6 L235.4,52.9 L234.9,44.9 L234.3,37.6 L233.6,30.8 L232.8,24.7 L231.9,19.1 L231.0,14.3 L230.1,10.0 L229.9,10.0 L230.2,14.4 L230.3,19.3 L230.5,24.8 L230.7,31.0 L230.8,37.8 L231.0,45.1 L231.2,53.1 L231.5,61.7 L232.0,70.9 L232.5,80.7 L233.0,91.2 L233.4,102.2Z" fill="#7cc22a"/>
<path d="M221.6,101.7 L220.0,79.8" stroke="#7dbb48" stroke-width="1.3"/>
<path d="M247.2,101.7 L247.1,70.5" stroke="#b2d88a" stroke-width="1.3"/>
<path d="M221.8,101.7 L222.9,69.5" stroke="#9fcf6a" stroke-width="0.8"/>
<path d="M250.2,101.7 L249.1,83.7" stroke="#8cc45a" stroke-width="1.4"/>
<path d="M228.8,101.7 L227.8,83.2" stroke="#b2d88a" stroke-width="1.5"/>
<path d="M249.2,101.7 L254.0,80.4" stroke="#8cc45a" stroke-width="1.0"/>
<path d="M229.2,101.7 L226.8,76.8" stroke="#b2d88a" stroke-width="1.4"/>
<path d="M219.5,101.7 L220.3,76.0" stroke="#8cc45a" stroke-width="1.3"/>
<path d="M216.2,101.7 L216.8,84.9" stroke="#9fcf6a" stroke-width="0.9"/>
<path d="M236.0,101.7 L234.6,81.4" stroke="#8cc45a" stroke-width="0.9"/>
<path d="M220.1,101.7 L219.3,85.0" stroke="#9fcf6a" stroke-width="1.1"/>
<path d="M217.6,101.7 L220.1,74.7" stroke="#7dbb48" stroke-width="1.4"/>
<path d="M33.4,242.0 C29.0,237.5 36.7,235.5 54.3,235.5 C71.9,235.5 79.6,237.5 75.2,242.0 Z" fill="#2f6414"/>
<path d="M49.8,242.0 L49.9,236.9 L49.7,232.2 L49.4,227.8 L48.9,223.8 L47.9,220.1 L46.7,216.8 L45.2,213.8 L43.4,211.3 L41.5,209.2 L39.3,207.6 L36.9,206.3 L34.5,205.5 L34.4,205.6 L36.7,206.8 L38.6,208.4 L40.3,210.3 L41.8,212.5 L43.1,214.9 L44.3,217.7 L45.2,220.9 L46.1,224.3 L46.9,228.2 L47.5,232.4 L48.0,237.0 L48.2,242.0Z" fill="#33701a"/>
<path d="M52.3,242.0 L52.4,237.7 L52.5,233.6 L52.6,229.7 L52.7,226.1 L52.6,222.7 L52.4,219.6 L52.1,216.7 L51.9,214.0 L51.5,211.6 L51.2,209.4 L50.8,207.5 L50.5,205.8 L50.3,205.8 L50.2,207.5 L50.0,209.5 L49.9,211.7 L49.8,214.1 L49.7,216.7 L49.6,219.6 L49.6,222.8 L49.7,226.1 L49.9,229.7 L50.1,233.6 L50.4,237.7 L50.6,242.0Z" fill="#3a7a16"/>
<path d="M73.1,241.8 L72.9,239.8 L72.6,238.0 L72.2,236.1 L71.8,234.4 L71.3,232.7 L70.5,231.2 L69.7,229.7 L68.8,228.4 L67.9,227.1 L66.9,226.0 L65.9,224.9 L64.9,223.9 L64.8,224.0 L65.3,225.3 L65.8,226.6 L66.3,228.0 L66.7,229.4 L67.2,230.9 L67.6,232.4 L68.1,233.9 L68.6,235.5 L69.3,237.0 L70.0,238.7 L70.6,240.4 L71.3,242.2Z" fill="#2f6a12"/>
<path d="M67.9,242.0 L68.1,238.8 L68.2,235.9 L68.4,233.1 L68.5,230.5 L68.4,228.0 L68.2,225.8 L67.9,223.7 L67.5,221.8 L67.1,220.1 L66.7,218.6 L66.2,217.3 L65.7,216.2 L65.6,216.2 L65.5,217.4 L65.3,218.8 L65.1,220.3 L65.0,222.0 L64.8,223.9 L64.8,225.9 L64.7,228.2 L64.8,230.6 L65.1,233.2 L65.3,235.9 L65.6,238.9 L65.8,242.0Z" fill="#448a1a"/>
<path d="M60.5,242.1 L61.1,238.4 L61.8,235.0 L62.8,232.0 L63.8,229.3 L64.7,226.8 L65.7,224.6 L66.7,222.7 L67.9,220.9 L69.2,219.3 L70.8,217.9 L72.5,216.7 L74.6,215.8 L74.6,215.6 L72.3,215.9 L70.0,216.4 L67.8,217.4 L65.7,218.7 L63.8,220.5 L62.2,222.6 L60.7,225.0 L59.6,227.9 L58.9,231.0 L58.4,234.4 L58.1,238.0 L58.0,241.9Z" fill="#448a1a"/>
<path d="M35.9,241.9 L36.0,240.2 L36.0,238.6 L36.1,237.1 L36.1,235.6 L35.9,234.3 L35.5,233.1 L35.0,232.0 L34.5,231.0 L33.9,230.2 L33.3,229.5 L32.6,228.9 L32.0,228.4 L31.8,228.5 L31.8,229.2 L31.7,230.0 L31.6,230.9 L31.6,231.8 L31.6,232.8 L31.6,233.9 L31.6,235.1 L31.8,236.3 L32.3,237.6 L32.7,239.0 L33.1,240.5 L33.5,242.1Z" fill="#2f6a12"/>
<path d="M50.7,241.8 L50.7,240.3 L50.6,238.9 L50.4,237.4 L50.2,236.0 L49.7,234.7 L49.0,233.5 L48.2,232.4 L47.2,231.4 L46.2,230.5 L45.2,229.7 L44.0,229.0 L42.9,228.4 L42.8,228.5 L43.3,229.6 L43.8,230.8 L44.1,232.0 L44.5,233.1 L44.8,234.2 L45.1,235.4 L45.5,236.5 L45.9,237.6 L46.5,238.6 L47.1,239.8 L47.7,241.0 L48.2,242.2Z" fill="#33701a"/>
<path d="M42.7,241.8 L42.4,239.1 L42.1,236.5 L41.8,234.1 L41.4,231.7 L40.6,229.4 L39.7,227.4 L38.7,225.5 L37.5,223.7 L36.3,222.1 L34.9,220.7 L33.6,219.5 L32.2,218.4 L32.0,218.5 L32.9,220.0 L33.6,221.7 L34.2,223.4 L34.9,225.1 L35.5,226.9 L36.0,228.8 L36.6,230.8 L37.3,232.9 L38.1,235.0 L38.9,237.3 L39.6,239.7 L40.3,242.2Z" fill="#3a7a16"/>
<path d="M59.7,242.0 L59.9,238.8 L60.0,235.6 L60.2,232.6 L60.3,229.7 L60.2,226.9 L60.0,224.2 L59.8,221.6 L59.5,219.1 L59.2,216.8 L58.8,214.5 L58.4,212.4 L58.0,210.4 L57.9,210.4 L57.8,212.5 L57.7,214.6 L57.5,216.9 L57.4,219.2 L57.4,221.7 L57.3,224.2 L57.3,226.9 L57.3,229.7 L57.5,232.6 L57.7,235.6 L57.9,238.8 L58.0,242.0Z" fill="#33701a"/>
<path d="M45.1,241.6 L43.5,238.0 L41.7,234.4 L39.8,231.1 L37.8,227.9 L35.5,225.0 L32.9,222.3 L30.3,219.9 L27.5,217.8 L24.5,215.9 L21.5,214.2 L18.3,212.7 L15.0,211.4 L15.0,211.6 L18.0,213.2 L20.9,215.1 L23.6,217.2 L26.2,219.4 L28.7,221.7 L31.0,224.2 L33.3,226.8 L35.5,229.6 L37.7,232.5 L39.8,235.6 L41.8,238.8 L43.7,242.4Z" fill="#2f6a12"/>
<path d="M37.4,241.7 L37.0,239.8 L36.5,237.9 L35.8,236.1 L35.0,234.3 L34.0,232.8 L32.6,231.5 L31.2,230.3 L29.6,229.3 L28.0,228.4 L26.2,227.7 L24.3,227.2 L22.4,226.7 L22.4,226.9 L24.0,227.9 L25.5,229.0 L26.9,230.1 L28.1,231.3 L29.2,232.5 L30.1,233.8 L31.1,235.0 L32.0,236.3 L32.9,237.6 L33.9,239.0 L34.7,240.6 L35.4,242.3Z" fill="#33701a"/>
<path d="M70.5,242.3 L71.9,238.2 L73.3,234.5 L74.8,231.1 L76.3,228.1 L77.7,225.3 L79.0,222.8 L80.3,220.5 L81.7,218.5 L83.1,216.7 L84.6,215.2 L86.2,213.9 L88.1,212.9 L88.0,212.7 L85.9,213.1 L83.7,213.7 L81.5,214.8 L79.4,216.3 L77.4,218.2 L75.5,220.5 L73.8,223.2 L72.2,226.2 L71.0,229.7 L70.0,233.4 L69.0,237.4 L68.1,241.7Z" fill="#33701a"/>
<path d="M42.1,241.7 L41.4,237.7 L40.5,233.8 L39.4,230.1 L38.0,226.5 L36.2,223.3 L34.1,220.4 L31.8,217.8 L29.2,215.4 L26.4,213.4 L23.4,211.6 L20.3,210.2 L17.0,208.9 L17.0,209.1 L19.9,210.9 L22.5,213.0 L25.0,215.2 L27.2,217.5 L29.2,220.0 L31.0,222.7 L32.7,225.5 L34.3,228.4 L36.0,231.5 L37.4,234.8 L38.7,238.4 L39.8,242.3Z" fill="#3a7a16"/>
<path d="M44.5,241.8 L43.5,235.8 L42.2,230.1 L40.7,224.7 L38.9,219.6 L36.6,214.9 L33.8,210.5 L30.8,206.6 L27.4,203.1 L23.8,200.0 L19.9,197.2 L15.8,194.9 L11.5,192.9 L11.5,193.1 L15.4,195.7 L19.0,198.6 L22.2,201.7 L25.2,205.1 L28.0,208.8 L30.5,212.7 L32.8,216.9 L35.0,221.3 L37.1,226.0 L39.0,231.0 L40.7,236.4 L42.1,242.2Z" fill="#448a1a"/>
<path d="M54.4,242.0 L54.8,236.3 L55.4,231.1 L56.1,226.2 L56.9,221.9 L57.9,218.0 L58.9,214.4 L60.0,211.3 L61.0,208.8 L64.5,205.4 L67.6,204.2 L70.6,205.0 L73.8,208.2 L77.0,213.9 L79.9,222.0 L80.1,222.0 L77.5,213.7 L74.7,207.6 L71.4,203.8 L67.5,202.3 L63.3,203.5 L59.0,207.2 L57.3,210.2 L56.0,213.5 L54.8,217.2 L54.1,221.3 L53.5,225.9 L53.0,230.8 L52.8,236.2 L52.7,242.0Z" fill="#2f6a12"/>
<path d="M50.1,242.0 L50.3,240.5 L50.5,239.2 L50.7,237.9 L51.0,236.8 L51.0,235.8 L50.9,234.9 L50.7,234.1 L50.5,233.4 L50.3,232.8 L50.0,232.3 L49.8,231.9 L49.5,231.6 L49.4,231.6 L49.0,231.8 L48.6,232.1 L48.2,232.6 L47.9,233.2 L47.6,233.9 L47.4,234.8 L47.2,235.7 L47.2,236.7 L47.4,237.9 L47.6,239.2 L47.8,240.5 L48.0,242.0Z" fill="#64ac28"/>
<path d="M66.1,242.0 L66.2,238.3 L66.5,234.8 L66.9,231.4 L67.4,228.1 L67.9,225.0 L68.4,222.0 L69.0,219.1 L69.6,216.3 L70.4,213.5 L71.3,210.9 L72.3,208.4 L73.5,206.0 L73.4,205.9 L71.8,208.1 L70.3,210.4 L68.9,212.9 L67.7,215.6 L66.6,218.4 L65.7,221.4 L64.9,224.5 L64.4,227.7 L64.2,231.1 L64.2,234.6 L64.2,238.3 L64.4,242.0Z" fill="#5ca424"/>
<path d="M69.0,242.0 L69.3,239.2 L69.6,236.6 L70.1,234.3 L70.7,232.3 L71.1,230.5 L71.5,228.8 L71.9,227.4 L72.4,226.0 L72.9,224.8 L73.6,223.7 L74.5,222.7 L75.6,221.9 L75.5,221.7 L74.1,221.9 L72.6,222.4 L71.1,223.1 L69.8,224.2 L68.6,225.7 L67.6,227.3 L66.8,229.3 L66.3,231.4 L66.2,233.8 L66.1,236.4 L66.3,239.1 L66.5,242.0Z" fill="#64ac28"/>
<path d="M36.9,241.8 L36.2,237.3 L35.4,233.0 L34.4,228.9 L33.2,225.2 L31.6,221.7 L29.7,218.6 L27.7,215.8 L25.4,213.3 L23.0,211.1 L20.5,209.4 L17.8,207.9 L15.0,206.8 L15.0,206.9 L17.4,208.6 L19.5,210.6 L21.5,212.7 L23.3,215.1 L25.0,217.7 L26.5,220.5 L28.0,223.5 L29.4,226.7 L31.0,230.1 L32.3,233.8 L33.6,237.9 L34.7,242.2Z" fill="#64ac28"/>
<path d="M58.4,242.3 L59.3,240.0 L60.1,237.8 L61.1,235.8 L62.1,233.9 L62.9,232.0 L63.6,230.2 L64.4,228.5 L65.2,226.8 L66.1,225.2 L67.0,223.7 L68.0,222.2 L69.1,220.8 L69.0,220.7 L67.4,221.6 L65.8,222.6 L64.3,223.8 L62.9,225.1 L61.5,226.7 L60.3,228.4 L59.2,230.2 L58.3,232.3 L57.6,234.5 L57.1,236.8 L56.6,239.2 L56.2,241.7Z" fill="#64ac28"/>
<path d="M48.8,241.9 L48.6,238.0 L48.3,234.3 L47.9,230.9 L47.5,227.7 L46.8,224.7 L46.0,222.1 L45.1,219.6 L44.0,217.5 L42.9,215.6 L41.7,214.0 L40.5,212.7 L39.2,211.6 L39.1,211.7 L40.0,213.0 L40.8,214.6 L41.5,216.3 L42.1,218.3 L42.8,220.4 L43.4,222.8 L43.9,225.4 L44.6,228.3 L45.3,231.3 L46.0,234.7 L46.6,238.2 L47.1,242.1Z" fill="#64ac28"/>
<path d="M67.4,242.8 L68.7,241.4 L70.0,240.3 L71.5,239.3 L73.1,238.4 L74.6,237.4 L76.3,236.3 L78.1,235.3 L80.0,234.3 L82.1,233.3 L84.4,232.4 L86.8,231.5 L89.5,230.8 L89.5,230.6 L86.7,230.6 L84.0,230.7 L81.5,230.9 L79.0,231.3 L76.7,231.8 L74.5,232.6 L72.4,233.5 L70.5,234.7 L68.9,236.2 L67.6,237.8 L66.4,239.5 L65.4,241.2Z" fill="#64ac28"/>
<path d="M58.2,242.1 L58.6,239.6 L59.2,237.2 L59.8,235.0 L60.6,233.0 L61.2,231.0 L61.8,229.1 L62.5,227.2 L63.2,225.5 L64.0,223.8 L64.9,222.2 L65.9,220.6 L67.1,219.2 L67.0,219.1 L65.4,220.1 L63.8,221.3 L62.4,222.6 L61.0,224.1 L59.8,225.8 L58.7,227.7 L57.7,229.7 L57.0,231.9 L56.6,234.3 L56.3,236.7 L56.2,239.3 L56.1,241.9Z" fill="#6cb22c"/>
<path d="M50.9,242.0 L51.2,239.8 L51.6,237.8 L52.0,235.9 L52.5,234.3 L52.7,232.8 L52.8,231.4 L52.9,230.1 L53.0,229.0 L53.1,228.0 L53.1,227.1 L53.3,226.2 L53.6,225.4 L53.5,225.3 L52.6,225.6 L51.7,226.1 L50.8,226.8 L50.0,227.8 L49.3,229.0 L48.7,230.4 L48.2,231.9 L47.9,233.6 L47.9,235.5 L48.0,237.5 L48.1,239.7 L48.3,242.0Z" fill="#54991f"/>
<path d="M70.8,242.3 L72.0,238.9 L73.3,235.6 L74.7,232.6 L76.1,229.8 L77.3,227.1 L78.5,224.5 L79.7,222.0 L80.9,219.7 L82.2,217.6 L83.5,215.5 L85.0,213.6 L86.6,211.9 L86.5,211.8 L84.4,212.9 L82.3,214.3 L80.3,216.0 L78.4,217.9 L76.6,220.1 L74.9,222.5 L73.3,225.1 L72.0,228.0 L70.9,231.2 L70.0,234.5 L69.2,238.0 L68.4,241.7Z" fill="#5ca424"/>
<path d="M49.6,242.0 L49.8,238.5 L50.0,235.3 L50.1,232.3 L50.3,229.5 L50.2,227.0 L50.0,224.7 L49.7,222.6 L49.4,220.7 L49.0,219.1 L48.6,217.7 L48.2,216.6 L47.7,215.7 L47.6,215.7 L47.4,216.7 L47.1,217.8 L46.9,219.2 L46.7,220.9 L46.5,222.7 L46.4,224.8 L46.4,227.1 L46.4,229.6 L46.7,232.4 L47.0,235.4 L47.2,238.6 L47.5,242.0Z" fill="#64ac28"/>
<path d="M42.6,241.4 L42.1,240.2 L41.4,238.9 L40.5,237.6 L39.5,236.3 L38.2,235.3 L36.7,234.4 L35.1,233.7 L33.3,233.0 L31.4,232.4 L29.4,232.0 L27.3,231.6 L25.1,231.2 L25.1,231.3 L27.1,232.3 L28.9,233.3 L30.6,234.4 L32.1,235.4 L33.5,236.4 L34.7,237.4 L35.9,238.4 L37.0,239.3 L38.0,240.0 L39.0,240.8 L39.9,241.6 L40.7,242.6Z" fill="#64ac28"/>
<path d="M72.5,242.0 L72.6,239.6 L72.9,237.3 L73.3,235.1 L73.9,232.9 L74.5,230.9 L75.1,228.9 L75.9,226.9 L76.8,224.9 L77.8,223.0 L79.0,221.1 L80.4,219.2 L82.0,217.4 L81.9,217.3 L80.0,218.8 L78.2,220.3 L76.5,222.0 L75.0,223.8 L73.7,225.8 L72.6,227.8 L71.7,230.0 L71.0,232.3 L70.7,234.6 L70.6,237.1 L70.6,239.5 L70.8,242.0Z" fill="#54991f"/>
<path d="M39.9,242.1 L40.3,240.0 L40.2,237.8 L39.7,235.6 L38.6,233.5 L37.0,231.8 L34.8,230.4 L32.4,229.3 L29.6,228.4 L26.4,227.7 L23.0,227.2 L19.2,226.9 L15.0,226.8 L15.0,226.9 L19.0,227.8 L22.6,228.8 L25.8,230.0 L28.6,231.2 L30.9,232.4 L32.7,233.7 L34.2,235.0 L35.3,236.1 L36.3,237.3 L37.0,238.5 L37.4,240.1 L37.5,241.9Z" fill="#5ca424"/>
<path d="M59.1,242.1 L59.9,237.9 L60.9,234.0 L62.2,230.5 L63.6,227.3 L65.2,224.4 L66.9,221.7 L68.8,219.2 L70.9,217.0 L73.3,215.1 L76.0,213.3 L79.0,211.8 L82.2,210.7 L82.2,210.5 L78.8,211.3 L75.5,212.3 L72.5,213.7 L69.7,215.5 L67.1,217.6 L64.8,220.1 L62.7,222.9 L61.0,226.1 L59.8,229.7 L58.8,233.5 L58.0,237.6 L57.6,241.9Z" fill="#54991f"/>
<path d="M64.5,242.1 L65.3,237.7 L66.2,233.6 L67.2,229.8 L68.3,226.3 L69.3,222.9 L70.3,219.7 L71.3,216.8 L72.4,214.1 L73.6,211.5 L75.0,209.2 L76.4,207.0 L78.1,205.1 L77.9,204.9 L75.8,206.4 L73.7,208.2 L71.8,210.3 L70.0,212.7 L68.3,215.4 L66.8,218.4 L65.4,221.6 L64.4,225.2 L63.7,229.0 L63.1,233.1 L62.6,237.4 L62.3,241.9Z" fill="#54991f"/>
<path d="M61.1,242.1 L61.9,237.1 L63.2,232.5 L65.0,228.4 L67.2,224.7 L69.9,221.3 L73.0,218.2 L76.5,215.4 L80.8,212.8 L83.5,208.0 L85.5,206.7 L87.5,207.9 L90.0,212.6 L92.4,220.5 L94.5,231.6 L94.7,231.6 L92.8,220.4 L90.8,212.3 L88.5,207.2 L85.5,205.1 L82.1,206.7 L79.2,211.2 L75.2,213.5 L71.3,216.3 L68.0,219.6 L65.2,223.3 L63.1,227.5 L61.4,232.0 L60.3,236.8 L59.6,241.9Z" fill="#54991f"/>
<path d="M48.2,241.9 L47.3,235.4 L45.8,229.4 L43.6,223.8 L40.7,218.6 L37.2,214.0 L32.9,209.8 L28.0,206.3 L22.5,203.2 L18.9,200.7 L15.3,199.8 L12.0,200.7 L9.1,203.2 L6.6,207.3 L4.2,213.0 L4.4,213.0 L6.9,207.5 L9.7,203.7 L12.5,201.6 L15.3,201.1 L18.2,202.1 L21.5,204.8 L26.9,207.9 L31.5,211.5 L35.6,215.4 L39.1,219.8 L42.0,224.6 L44.3,229.9 L45.9,235.7 L47.0,242.1Z" fill="#54991f"/>
<path d="M50.0,241.9 L49.6,236.8 L48.9,232.0 L47.7,227.5 L46.2,223.4 L44.3,219.6 L41.8,216.3 L38.9,213.4 L35.8,211.1 L32.3,207.9 L28.6,206.8 L25.2,208.1 L22.5,211.5 L20.1,216.7 L17.9,224.0 L18.1,224.0 L20.6,216.9 L23.3,212.0 L26.1,209.3 L28.6,208.6 L31.1,209.7 L34.2,212.9 L37.1,215.4 L39.6,218.2 L41.7,221.2 L43.7,224.6 L45.4,228.3 L46.7,232.5 L47.7,237.1 L48.4,242.1Z" fill="#5ca424"/>
<path d="M58.1,242.1 L58.7,237.4 L59.6,233.1 L60.8,229.3 L62.3,225.8 L64.1,222.7 L66.0,219.8 L68.2,217.3 L70.8,215.0 L74.8,211.8 L78.3,210.6 L81.8,211.3 L85.3,214.0 L88.7,219.0 L91.9,226.0 L92.1,226.0 L89.2,218.7 L86.0,213.4 L82.4,210.1 L78.3,208.8 L73.8,209.9 L69.2,213.0 L66.4,215.3 L63.8,218.0 L61.5,221.1 L59.8,224.6 L58.5,228.5 L57.5,232.7 L56.8,237.1 L56.4,241.9Z" fill="#5ca424"/>
<path d="M60.2,242.0 L60.7,235.8 L61.5,230.1 L62.5,224.9 L63.8,220.1 L65.3,215.9 L66.9,212.0 L68.7,208.6 L70.8,205.7 L73.7,202.6 L76.1,201.5 L78.4,202.2 L81.0,205.0 L83.6,209.9 L85.9,217.0 L86.1,217.0 L84.0,209.8 L81.7,204.5 L79.2,201.2 L76.0,199.9 L72.6,201.1 L69.2,204.3 L66.8,207.4 L64.7,210.9 L62.9,214.9 L61.5,219.5 L60.4,224.4 L59.6,229.8 L59.0,235.7 L58.7,242.0Z" fill="#54991f"/>
<path d="M54.8,242.0 L55.0,237.1 L55.2,232.5 L55.5,228.3 L55.7,224.5 L55.7,221.1 L55.6,218.0 L55.5,215.3 L55.3,213.1 L55.0,211.2 L54.8,209.6 L54.5,208.5 L54.2,207.7 L54.1,207.7 L53.7,208.4 L53.3,209.6 L53.0,211.1 L52.7,213.0 L52.4,215.3 L52.2,218.0 L52.0,221.0 L52.0,224.5 L52.1,228.3 L52.3,232.5 L52.5,237.0 L52.7,242.0Z" fill="#72b828"/>
<path d="M65.6,242.0 L65.9,238.0 L66.5,234.3 L67.1,230.8 L67.9,227.7 L68.5,224.7 L69.2,222.0 L69.9,219.5 L70.7,217.3 L71.6,215.2 L72.6,213.2 L73.8,211.5 L75.2,209.9 L75.1,209.8 L73.2,210.8 L71.3,212.1 L69.6,213.8 L68.0,215.8 L66.6,218.1 L65.3,220.7 L64.3,223.6 L63.6,226.8 L63.2,230.3 L63.1,234.0 L63.0,237.9 L63.1,242.0Z" fill="#72b828"/>
<path d="M39.4,241.9 L39.5,239.5 L39.4,237.2 L39.0,234.9 L38.3,232.7 L37.2,230.7 L35.7,228.9 L33.9,227.4 L31.9,226.2 L29.8,225.2 L27.4,224.4 L24.9,223.8 L22.2,223.4 L22.2,223.5 L24.6,224.7 L26.7,226.0 L28.5,227.3 L30.1,228.7 L31.5,230.1 L32.6,231.6 L33.5,233.1 L34.4,234.6 L35.3,236.2 L36.0,237.9 L36.6,239.9 L37.0,242.1Z" fill="#86c834"/>
<path d="M60.2,242.0 L60.4,238.6 L60.7,235.4 L61.0,232.5 L61.3,229.8 L61.5,227.3 L61.5,225.0 L61.6,222.9 L61.6,221.0 L61.7,219.3 L61.7,217.8 L61.8,216.5 L61.9,215.3 L61.8,215.3 L61.0,216.2 L60.2,217.4 L59.4,218.8 L58.8,220.5 L58.2,222.4 L57.7,224.6 L57.3,226.9 L57.2,229.5 L57.3,232.3 L57.4,235.4 L57.6,238.6 L57.8,242.0Z" fill="#7abd30"/>
<path d="M39.5,241.4 L38.6,238.9 L37.5,236.5 L36.2,234.0 L34.8,231.7 L32.9,229.6 L30.9,227.8 L28.6,226.1 L26.2,224.6 L23.6,223.2 L20.8,222.0 L18.0,221.0 L15.0,220.1 L15.0,220.2 L17.6,221.8 L20.0,223.6 L22.2,225.4 L24.3,227.2 L26.2,229.0 L27.9,230.9 L29.6,232.8 L31.2,234.6 L32.9,236.4 L34.4,238.3 L35.8,240.4 L37.1,242.6Z" fill="#72b828"/>
<path d="M53.6,241.9 L53.4,238.7 L53.1,235.6 L52.7,232.8 L52.2,230.0 L51.3,227.5 L50.3,225.2 L49.1,223.1 L47.8,221.2 L46.4,219.5 L44.8,218.1 L43.2,216.9 L41.5,215.9 L41.5,216.1 L42.7,217.5 L43.7,219.1 L44.6,220.8 L45.5,222.6 L46.3,224.5 L47.0,226.6 L47.7,228.8 L48.5,231.1 L49.3,233.6 L50.1,236.2 L50.8,239.1 L51.4,242.1Z" fill="#7cc22a"/>
<path d="M61.7,242.1 L62.2,238.0 L62.6,234.2 L63.2,230.6 L63.7,227.3 L64.1,224.1 L64.4,221.2 L64.6,218.5 L64.9,216.0 L65.1,213.7 L65.4,211.6 L65.7,209.7 L66.1,208.0 L65.9,208.0 L64.9,209.4 L63.9,211.2 L62.9,213.1 L62.1,215.4 L61.3,217.9 L60.6,220.6 L60.0,223.6 L59.6,226.8 L59.5,230.3 L59.4,234.0 L59.4,237.8 L59.4,241.9Z" fill="#7abd30"/>
<path d="M50.7,242.0 L50.7,234.9 L50.4,228.3 L50.1,222.2 L49.6,216.7 L49.0,211.6 L48.2,207.1 L47.1,203.1 L45.8,199.4 L42.5,197.0 L39.4,196.2 L36.5,196.9 L34.0,199.0 L31.9,202.4 L29.9,207.0 L30.1,207.0 L32.3,202.6 L34.6,199.6 L37.0,198.0 L39.3,197.7 L41.7,198.6 L44.2,200.6 L45.0,203.7 L45.9,207.6 L46.7,212.0 L47.5,216.9 L48.1,222.4 L48.7,228.4 L49.1,234.9 L49.4,242.0Z" fill="#7abd30"/>
<path d="M47.8,241.9 L47.5,236.8 L47.2,232.0 L46.7,227.4 L46.1,223.1 L45.2,219.1 L44.0,215.4 L42.7,212.0 L41.2,208.9 L39.6,206.2 L37.8,203.8 L36.0,201.7 L34.1,200.0 L33.9,200.0 L35.3,202.2 L36.5,204.6 L37.5,207.3 L38.5,210.1 L39.4,213.2 L40.3,216.5 L41.1,220.1 L42.0,223.9 L43.0,228.0 L43.9,232.4 L44.7,237.1 L45.4,242.1Z" fill="#7cc22a"/>
<path d="M45.7,241.8 L45.0,238.5 L44.2,235.3 L43.2,232.3 L42.0,229.4 L40.5,226.8 L38.6,224.4 L36.6,222.3 L34.4,220.4 L32.1,218.7 L29.5,217.2 L26.8,216.0 L24.0,214.9 L24.0,215.1 L26.6,216.5 L28.9,218.2 L31.1,220.0 L33.0,221.9 L34.8,223.9 L36.5,226.1 L38.0,228.4 L39.4,230.8 L40.8,233.3 L42.0,236.1 L43.1,239.0 L44.0,242.2Z" fill="#8ecd3c"/>
<path d="M68.1,242.3 L69.1,238.7 L70.3,235.5 L71.6,232.5 L73.0,229.7 L74.5,227.1 L75.9,224.5 L77.5,222.1 L79.2,219.8 L81.1,217.7 L83.2,215.7 L85.5,213.8 L88.0,212.1 L88.0,211.9 L85.1,213.0 L82.3,214.3 L79.6,215.9 L77.1,217.8 L74.8,219.9 L72.7,222.3 L70.9,224.9 L69.3,227.9 L68.1,231.1 L67.1,234.5 L66.4,238.1 L65.8,241.7Z" fill="#7abd30"/>
<path d="M56.4,242.0 L56.6,235.6 L56.8,229.6 L57.0,224.0 L57.2,218.7 L57.3,213.7 L57.2,209.2 L57.1,204.9 L56.9,201.0 L56.7,197.5 L56.5,194.3 L56.3,191.5 L56.1,189.0 L55.9,189.0 L55.6,191.5 L55.2,194.3 L54.8,197.5 L54.5,201.0 L54.3,204.9 L54.0,209.1 L53.9,213.7 L53.8,218.7 L54.0,224.0 L54.1,229.6 L54.3,235.6 L54.5,242.0Z" fill="#7cc22a"/>
<path d="M70.7,241.5 L71.4,228.8" stroke="#b2d88a" stroke-width="1.3"/>
<path d="M42.5,241.5 L41.2,224.9" stroke="#8cc45a" stroke-width="0.9"/>
<path d="M41.7,241.5 L41.0,228.3" stroke="#8cc45a" stroke-width="0.9"/>
<path d="M60.2,241.5 L59.2,226.7" stroke="#9fcf6a" stroke-width="1.0"/>
<path d="M47.3,241.5 L45.8,229.7" stroke="#7dbb48" stroke-width="1.2"/>
<path d="M57.1,241.5 L57.8,227.4" stroke="#b2d88a" stroke-width="1.1"/>
<path d="M43.9,241.5 L46.2,224.4" stroke="#9fcf6a" stroke-width="1.4"/>
<path d="M58.8,241.5 L59.1,231.9" stroke="#9fcf6a" stroke-width="1.1"/>
<path d="M37.7,241.5 L40.0,230.3" stroke="#7dbb48" stroke-width="0.9"/>
<path d="M58.7,241.5 L55.8,230.9" stroke="#8cc45a" stroke-width="1.0"/>
<path d="M71.3,241.5 L74.9,232.0" stroke="#b2d88a" stroke-width="0.8"/>
<path d="M53.7,241.5 L55.5,225.7" stroke="#9fcf6a" stroke-width="1.2"/>
<path d="M98.2,242.9 C94.1,237.8 101.3,235.4 117.7,235.4 C134.1,235.4 141.3,237.8 137.2,242.9 Z" fill="#2f6414"/>
<path d="M128.5,242.9 L128.9,235.0 L129.3,227.6 L129.8,220.7 L130.5,214.3 L131.0,208.4 L131.5,202.9 L132.1,198.0 L132.7,193.5 L133.4,189.4 L134.1,185.8 L134.9,182.7 L135.9,180.0 L135.8,179.9 L134.3,182.4 L132.8,185.4 L131.4,188.9 L130.2,192.9 L129.1,197.4 L128.1,202.5 L127.3,208.0 L126.8,214.0 L126.5,220.5 L126.4,227.5 L126.4,235.0 L126.5,242.9Z" fill="#3a7a16"/>
<path d="M120.6,242.9 L120.7,238.6 L120.7,234.4 L120.5,230.5 L120.3,226.6 L119.8,222.9 L119.0,219.4 L118.1,216.1 L117.1,213.0 L116.0,210.0 L114.7,207.2 L113.3,204.7 L111.8,202.3 L111.7,202.4 L112.6,205.0 L113.3,207.7 L114.0,210.6 L114.6,213.6 L115.2,216.8 L115.7,220.1 L116.1,223.5 L116.6,227.1 L117.2,230.8 L117.8,234.7 L118.2,238.7 L118.6,242.9Z" fill="#448a1a"/>
<path d="M135.7,243.1 L136.9,236.4 L138.1,230.3 L139.3,224.6 L140.7,219.4 L141.8,214.6 L142.9,210.3 L144.0,206.4 L145.1,203.0 L146.2,199.9 L147.4,197.3 L148.6,195.0 L150.1,193.2 L149.9,193.1 L147.9,194.4 L145.9,196.3 L144.0,198.7 L142.1,201.6 L140.4,205.1 L138.8,209.0 L137.3,213.5 L136.1,218.4 L135.3,223.8 L134.5,229.7 L133.8,236.0 L133.1,242.7Z" fill="#3a7a16"/>
<path d="M125.9,243.0 L126.6,239.1 L127.2,235.3 L127.9,231.7 L128.6,228.2 L129.2,224.7 L129.5,221.4 L129.9,218.2 L130.3,215.1 L130.6,212.1 L130.9,209.2 L131.3,206.4 L131.7,203.7 L131.5,203.7 L130.4,206.2 L129.2,208.8 L128.1,211.5 L127.1,214.4 L126.2,217.5 L125.3,220.7 L124.6,224.0 L124.1,227.5 L123.8,231.2 L123.6,234.9 L123.5,238.8 L123.3,242.8Z" fill="#33701a"/>
<path d="M112.5,242.9 L112.7,237.9 L112.7,233.1 L112.7,228.7 L112.5,224.4 L112.0,220.5 L111.2,216.9 L110.2,213.6 L109.0,210.7 L107.7,208.0 L106.2,205.7 L104.7,203.8 L103.0,202.2 L102.9,202.3 L103.9,204.3 L104.6,206.6 L105.3,209.0 L105.9,211.7 L106.5,214.6 L106.9,217.8 L107.4,221.2 L107.9,225.0 L108.5,229.0 L109.1,233.3 L109.5,238.0 L109.9,242.9Z" fill="#2f6a12"/>
<path d="M121.8,242.9 L121.9,239.9 L122.3,237.1 L122.7,234.4 L123.3,231.8 L123.8,229.3 L124.4,226.8 L125.0,224.4 L125.7,222.1 L126.5,219.8 L127.5,217.5 L128.6,215.3 L129.9,213.2 L129.8,213.1 L128.0,214.8 L126.2,216.7 L124.7,218.7 L123.2,220.9 L122.0,223.3 L120.9,225.7 L120.0,228.4 L119.5,231.1 L119.3,234.0 L119.2,236.9 L119.3,239.9 L119.6,242.9Z" fill="#33701a"/>
<path d="M133.2,243.0 L133.8,237.2 L134.6,231.7 L135.6,226.5 L136.8,221.6 L138.0,216.9 L139.2,212.5 L140.6,208.3 L142.1,204.3 L143.8,200.5 L145.7,196.9 L147.7,193.5 L150.1,190.4 L149.9,190.3 L147.0,193.0 L144.3,196.0 L141.7,199.3 L139.4,202.9 L137.3,206.9 L135.4,211.2 L133.8,215.7 L132.6,220.6 L131.8,225.8 L131.2,231.3 L130.9,236.9 L130.7,242.8Z" fill="#448a1a"/>
<path d="M109.4,242.9 L109.6,236.5 L109.7,230.6 L109.5,225.0 L109.2,219.9 L108.4,215.3 L107.4,211.1 L106.2,207.4 L104.7,204.1 L103.0,201.4 L101.1,199.1 L99.0,197.4 L96.9,196.1 L96.8,196.3 L98.6,197.9 L100.1,199.9 L101.5,202.3 L102.7,205.0 L103.7,208.2 L104.6,211.8 L105.3,215.9 L106.0,220.3 L106.7,225.3 L107.2,230.7 L107.5,236.5 L107.7,242.9Z" fill="#2f6a12"/>
<path d="M126.6,242.9 L126.8,237.1 L127.3,231.5 L127.9,226.1 L128.7,221.0 L129.5,216.2 L130.3,211.5 L131.3,206.9 L132.4,202.6 L133.7,198.4 L135.1,194.4 L136.8,190.6 L138.7,186.9 L138.6,186.8 L136.0,190.1 L133.5,193.6 L131.3,197.4 L129.4,201.5 L127.6,205.9 L126.2,210.5 L125.0,215.3 L124.2,220.4 L123.8,225.8 L123.7,231.3 L123.7,237.0 L124.0,242.9Z" fill="#448a1a"/>
<path d="M121.4,242.9 L121.7,234.4 L121.9,226.4 L122.2,219.1 L122.6,212.3 L122.7,206.1 L122.8,200.4 L122.9,195.4 L122.9,190.9 L123.0,187.0 L123.0,183.6 L123.0,180.8 L123.2,178.6 L123.0,178.6 L122.3,180.7 L121.6,183.5 L121.0,186.8 L120.4,190.7 L120.0,195.2 L119.5,200.3 L119.2,205.9 L119.0,212.2 L119.1,219.0 L119.2,226.4 L119.3,234.4 L119.4,242.9Z" fill="#2f6a12"/>
<path d="M130.3,243.0 L131.2,237.0 L132.1,231.4 L133.2,226.3 L134.3,221.6 L135.4,217.2 L136.3,213.3 L137.3,209.7 L138.4,206.5 L139.5,203.7 L140.8,201.2 L142.1,199.0 L143.6,197.1 L143.5,197.0 L141.4,198.3 L139.3,200.1 L137.4,202.4 L135.5,205.1 L133.8,208.4 L132.3,212.0 L131.0,216.1 L129.9,220.6 L129.2,225.6 L128.6,230.9 L128.1,236.7 L127.8,242.8Z" fill="#3a7a16"/>
<path d="M134.8,243.0 L135.9,235.8 L137.1,229.0 L138.4,222.5 L139.7,216.5 L140.8,210.9 L141.9,205.6 L143.0,200.7 L144.1,196.2 L145.2,192.0 L146.4,188.2 L147.6,184.8 L148.8,181.8 L148.7,181.7 L147.0,184.5 L145.2,187.7 L143.5,191.4 L141.9,195.5 L140.4,200.0 L138.9,204.9 L137.6,210.2 L136.4,215.9 L135.4,222.0 L134.5,228.6 L133.7,235.5 L132.9,242.8Z" fill="#448a1a"/>
<path d="M136.4,242.9 L136.6,238.9 L136.8,235.1 L137.1,231.5 L137.4,228.0 L137.6,224.7 L137.7,221.5 L137.8,218.5 L137.9,215.6 L138.1,212.9 L138.3,210.3 L138.4,207.8 L138.7,205.6 L138.6,205.5 L137.9,207.7 L137.2,210.1 L136.5,212.7 L136.0,215.4 L135.5,218.3 L135.1,221.3 L134.7,224.5 L134.5,227.9 L134.5,231.4 L134.6,235.1 L134.7,238.9 L134.8,242.9Z" fill="#33701a"/>
<path d="M104.0,242.7 L103.1,237.0 L101.9,231.6 L100.3,226.6 L98.5,222.0 L96.3,217.8 L93.6,214.1 L90.7,210.9 L87.4,208.1 L83.9,205.9 L80.2,204.1 L76.2,202.7 L72.0,201.8 L72.0,202.0 L76.0,203.3 L79.7,205.1 L83.0,207.3 L86.1,209.8 L88.8,212.7 L91.4,215.8 L93.6,219.4 L95.7,223.3 L97.8,227.6 L99.5,232.3 L101.1,237.4 L102.3,243.1Z" fill="#448a1a"/>
<path d="M136.8,243.0 L137.6,238.9 L138.4,235.1 L139.4,231.7 L140.5,228.6 L141.5,225.8 L142.4,223.2 L143.4,220.9 L144.5,218.9 L145.6,217.2 L146.9,215.6 L148.4,214.3 L150.0,213.3 L150.0,213.1 L148.0,213.6 L146.0,214.4 L144.2,215.7 L142.4,217.3 L140.7,219.3 L139.2,221.7 L137.9,224.4 L136.9,227.5 L136.1,230.9 L135.5,234.6 L135.0,238.5 L134.7,242.8Z" fill="#2f6a12"/>
<path d="M103.9,242.9 L104.1,234.6 L104.2,226.9 L104.2,219.6 L104.0,212.9 L103.4,206.8 L102.5,201.1 L101.4,196.0 L100.1,191.5 L98.7,187.6 L97.0,184.2 L95.1,181.4 L93.2,179.2 L93.1,179.3 L94.5,181.8 L95.7,184.7 L96.8,188.2 L97.7,192.2 L98.6,196.6 L99.3,201.6 L99.9,207.1 L100.4,213.2 L101.0,219.8 L101.5,226.9 L101.8,234.6 L101.9,242.9Z" fill="#33701a"/>
<path d="M122.9,243.1 L124.2,236.4 L125.7,230.3 L127.3,224.8 L129.0,219.7 L130.6,215.1 L132.2,211.0 L133.8,207.4 L135.5,204.2 L137.3,201.5 L139.1,199.2 L141.2,197.3 L143.4,195.9 L143.4,195.8 L140.7,196.6 L138.1,198.0 L135.6,200.0 L133.1,202.6 L130.9,205.7 L128.7,209.4 L126.8,213.7 L125.1,218.5 L123.8,223.8 L122.6,229.6 L121.5,235.9 L120.6,242.7Z" fill="#3a7a16"/>
<path d="M115.9,242.8 L115.6,239.3 L115.2,235.9 L114.7,232.6 L114.1,229.3 L113.3,226.3 L112.2,223.3 L111.1,220.5 L109.8,217.8 L108.4,215.3 L106.9,212.9 L105.4,210.6 L103.7,208.4 L103.6,208.5 L104.8,210.9 L105.9,213.4 L106.9,216.0 L107.8,218.7 L108.7,221.4 L109.5,224.2 L110.3,227.1 L111.1,230.1 L111.9,233.2 L112.8,236.3 L113.5,239.6 L114.1,243.0Z" fill="#2f6a12"/>
<path d="M111.4,242.7 L110.7,237.5 L109.7,232.5 L108.5,227.7 L107.1,223.3 L105.3,219.1 L103.1,215.3 L100.6,211.9 L97.9,208.8 L95.0,206.1 L91.8,203.7 L88.5,201.7 L85.0,199.9 L85.0,200.1 L88.0,202.3 L90.8,204.9 L93.4,207.7 L95.7,210.6 L97.8,213.8 L99.8,217.3 L101.6,220.9 L103.3,224.8 L105.1,228.9 L106.6,233.3 L108.0,238.0 L109.2,243.1Z" fill="#2f6a12"/>
<path d="M119.5,242.9 L119.7,236.0 L120.0,229.4 L120.3,223.2 L120.6,217.5 L120.7,212.1 L120.7,207.1 L120.8,202.4 L120.7,198.2 L120.7,194.3 L120.6,190.8 L120.6,187.7 L120.6,185.0 L120.4,185.0 L119.9,187.7 L119.4,190.7 L118.9,194.2 L118.4,198.1 L118.0,202.3 L117.7,207.0 L117.4,212.0 L117.3,217.4 L117.3,223.2 L117.4,229.4 L117.5,235.9 L117.6,242.9Z" fill="#33701a"/>
<path d="M108.0,242.8 L107.6,234.0 L107.1,225.6 L106.4,217.7 L105.7,210.3 L104.6,203.3 L103.3,196.9 L101.8,191.0 L100.1,185.6 L98.2,180.7 L96.2,176.4 L94.1,172.6 L91.9,169.3 L91.7,169.3 L93.4,172.9 L95.0,176.9 L96.4,181.4 L97.7,186.3 L98.9,191.7 L100.0,197.6 L101.1,203.9 L102.2,210.8 L103.3,218.1 L104.3,225.9 L105.2,234.2 L105.9,243.0Z" fill="#33701a"/>
<path d="M123.9,243.0 L124.7,234.1 L125.9,225.9 L127.5,218.4 L129.5,211.6 L131.9,205.5 L134.5,200.0 L137.5,195.1 L141.0,190.7 L142.8,186.9 L143.8,185.9 L144.9,186.6 L146.6,190.1 L148.4,196.3 L149.9,205.0 L150.1,205.0 L148.9,196.2 L147.6,189.9 L146.1,185.9 L143.8,184.1 L141.1,185.6 L139.0,189.3 L135.3,193.5 L132.0,198.5 L129.1,204.3 L126.8,210.7 L125.1,217.8 L123.7,225.5 L122.8,233.9 L122.3,242.8Z" fill="#2f6a12"/>
<path d="M115.7,242.9 L115.8,235.6 L115.8,228.7 L115.7,222.1 L115.6,216.0 L115.3,210.3 L114.9,205.1 L114.4,200.2 L113.9,195.7 L113.2,191.7 L112.6,188.0 L111.8,184.8 L111.1,182.0 L110.9,182.0 L111.2,184.9 L111.4,188.2 L111.6,191.8 L111.8,195.9 L111.9,200.4 L112.1,205.2 L112.3,210.5 L112.6,216.2 L113.0,222.2 L113.4,228.7 L113.7,235.6 L114.0,242.9Z" fill="#2f6a12"/>
<path d="M105.5,242.8 L104.6,236.4 L103.6,230.3 L102.3,224.5 L100.8,219.1 L98.9,214.1 L96.6,209.4 L94.1,205.2 L91.3,201.3 L88.3,197.9 L85.1,194.8 L81.6,192.2 L78.0,189.9 L78.0,190.1 L81.2,192.7 L84.2,195.7 L86.9,199.0 L89.5,202.7 L91.8,206.6 L93.9,210.8 L95.9,215.3 L97.7,220.2 L99.5,225.3 L101.1,230.8 L102.5,236.7 L103.6,243.0Z" fill="#33701a"/>
<path d="M135.2,242.9 L135.3,238.5 L135.5,234.3 L135.6,230.2 L135.7,226.3 L135.7,222.5 L135.5,218.9 L135.3,215.4 L135.0,212.1 L134.7,209.0 L134.3,206.0 L133.9,203.1 L133.6,200.5 L133.4,200.5 L133.3,203.2 L133.2,206.0 L133.1,209.0 L132.9,212.2 L132.8,215.5 L132.8,219.0 L132.7,222.6 L132.8,226.3 L133.0,230.2 L133.2,234.3 L133.3,238.5 L133.5,242.9Z" fill="#5ca424"/>
<path d="M102.1,242.8 L101.9,237.0 L101.5,231.5 L101.1,226.4 L100.5,221.7 L99.6,217.4 L98.3,213.6 L96.9,210.2 L95.3,207.2 L93.6,204.7 L91.7,202.7 L89.7,201.2 L87.7,200.1 L87.7,200.3 L89.1,201.8 L90.4,203.8 L91.5,206.0 L92.6,208.6 L93.5,211.5 L94.4,214.8 L95.3,218.5 L96.2,222.6 L97.2,227.0 L98.1,231.9 L98.9,237.2 L99.6,243.0Z" fill="#64ac28"/>
<path d="M115.1,242.9 L115.2,238.3 L115.3,234.0 L115.2,230.0 L114.9,226.2 L114.4,222.8 L113.5,219.6 L112.5,216.7 L111.3,214.2 L109.9,212.0 L108.4,210.2 L106.7,208.7 L105.0,207.6 L104.9,207.7 L106.1,209.3 L107.1,211.1 L108.0,213.1 L108.8,215.3 L109.4,217.8 L110.0,220.5 L110.5,223.5 L111.1,226.8 L111.7,230.3 L112.2,234.2 L112.6,238.4 L112.9,242.9Z" fill="#64ac28"/>
<path d="M131.0,243.0 L131.4,238.7 L131.9,234.7 L132.4,231.1 L132.9,227.7 L133.2,224.5 L133.4,221.7 L133.6,219.1 L133.7,216.8 L133.8,214.7 L134.0,213.0 L134.1,211.4 L134.3,210.1 L134.2,210.0 L133.4,211.1 L132.5,212.5 L131.7,214.3 L131.0,216.3 L130.4,218.6 L129.8,221.2 L129.3,224.1 L129.0,227.3 L128.9,230.8 L128.8,234.5 L128.8,238.6 L128.8,242.8Z" fill="#5ca424"/>
<path d="M108.5,242.8 L108.5,239.0 L108.4,235.2 L108.3,231.5 L108.2,228.0 L107.7,224.6 L107.1,221.3 L106.4,218.2 L105.7,215.1 L104.8,212.3 L103.8,209.5 L102.8,206.9 L101.8,204.4 L101.7,204.4 L102.0,207.1 L102.3,209.9 L102.6,212.7 L102.8,215.7 L103.1,218.7 L103.4,221.9 L103.7,225.1 L104.1,228.5 L104.7,231.9 L105.2,235.5 L105.7,239.2 L106.2,243.0Z" fill="#6cb22c"/>
<path d="M110.4,242.8 L110.2,235.7 L109.8,229.0 L109.3,222.8 L108.7,217.1 L107.8,212.0 L106.6,207.4 L105.3,203.4 L103.8,199.9 L102.1,196.9 L100.3,194.6 L98.4,192.8 L96.5,191.7 L96.4,191.8 L97.8,193.4 L99.1,195.4 L100.3,197.9 L101.3,200.9 L102.3,204.3 L103.2,208.3 L104.1,212.8 L105.0,217.7 L106.0,223.2 L106.9,229.3 L107.6,235.8 L108.3,243.0Z" fill="#64ac28"/>
<path d="M127.8,242.9 L127.9,236.6 L128.1,230.7 L128.2,225.1 L128.3,219.9 L128.1,215.1 L127.8,210.6 L127.4,206.5 L126.9,202.8 L126.3,199.4 L125.7,196.4 L125.0,193.8 L124.3,191.6 L124.1,191.6 L124.1,193.9 L123.9,196.6 L123.8,199.6 L123.7,203.0 L123.6,206.7 L123.6,210.8 L123.6,215.3 L123.8,220.1 L124.2,225.2 L124.5,230.8 L124.9,236.7 L125.2,242.9Z" fill="#54991f"/>
<path d="M120.1,242.9 L120.4,239.1 L120.9,235.7 L121.6,232.5 L122.5,229.6 L123.3,226.9 L124.1,224.5 L125.1,222.2 L126.2,220.1 L127.5,218.1 L129.1,216.3 L130.9,214.6 L133.0,213.1 L132.9,212.9 L130.4,213.8 L128.0,214.8 L125.8,216.3 L123.7,218.1 L121.9,220.2 L120.3,222.7 L119.0,225.4 L118.0,228.5 L117.6,231.8 L117.3,235.3 L117.3,239.0 L117.6,242.9Z" fill="#6cb22c"/>
<path d="M127.6,242.9 L128.2,234.6 L128.9,226.8 L129.6,219.5 L130.4,212.9 L131.0,206.8 L131.6,201.3 L132.2,196.4 L132.9,192.0 L133.5,188.2 L134.2,185.0 L135.0,182.3 L135.8,180.1 L135.7,180.1 L134.4,182.1 L133.2,184.7 L132.0,187.9 L131.0,191.6 L130.0,196.0 L129.0,201.0 L128.2,206.5 L127.5,212.6 L127.1,219.3 L126.7,226.6 L126.3,234.5 L126.0,242.9Z" fill="#64ac28"/>
<path d="M118.2,242.9 L118.4,237.7 L118.7,232.7 L119.1,228.0 L119.7,223.5 L120.0,219.3 L120.4,215.3 L120.8,211.5 L121.2,208.0 L121.7,204.6 L122.2,201.5 L122.8,198.6 L123.5,195.9 L123.4,195.8 L122.1,198.3 L120.8,201.1 L119.6,204.1 L118.5,207.4 L117.6,211.0 L116.8,214.8 L116.2,218.9 L115.8,223.2 L115.7,227.8 L115.7,232.6 L115.8,237.6 L116.0,242.9Z" fill="#64ac28"/>
<path d="M125.5,243.0 L126.2,235.9 L127.0,229.2 L127.9,222.9 L128.8,216.9 L129.7,211.2 L130.4,205.9 L131.2,201.0 L132.1,196.4 L133.0,192.1 L133.9,188.1 L134.9,184.4 L136.0,181.1 L135.9,181.1 L134.2,184.2 L132.6,187.6 L131.0,191.5 L129.6,195.7 L128.3,200.3 L127.1,205.3 L126.0,210.7 L125.2,216.4 L124.6,222.5 L124.1,228.9 L123.7,235.7 L123.4,242.8Z" fill="#64ac28"/>
<path d="M103.3,242.9 L103.5,238.2 L103.6,233.7 L103.7,229.5 L103.7,225.6 L103.5,221.9 L103.1,218.5 L102.7,215.4 L102.2,212.6 L101.6,210.0 L100.9,207.7 L100.2,205.8 L99.5,204.1 L99.3,204.1 L99.3,205.9 L99.3,208.0 L99.2,210.3 L99.2,212.9 L99.2,215.7 L99.2,218.8 L99.3,222.2 L99.4,225.8 L99.9,229.7 L100.2,233.8 L100.6,238.2 L100.9,242.9Z" fill="#5ca424"/>
<path d="M128.3,242.9 L128.5,238.1 L128.9,233.7 L129.4,229.6 L130.2,225.9 L130.9,222.4 L131.8,219.2 L132.7,216.3 L133.8,213.7 L135.1,211.2 L136.6,209.0 L138.4,207.0 L140.5,205.2 L140.4,205.1 L137.9,206.3 L135.5,207.9 L133.4,209.9 L131.4,212.2 L129.7,214.9 L128.2,218.0 L127.0,221.4 L126.2,225.2 L125.8,229.2 L125.7,233.5 L125.8,238.1 L126.1,242.9Z" fill="#64ac28"/>
<path d="M108.2,242.6 L106.8,238.6 L105.3,234.8 L103.7,231.3 L102.0,228.1 L100.0,225.2 L97.8,222.7 L95.4,220.5 L93.0,218.7 L90.4,217.2 L87.8,216.0 L85.1,215.2 L82.3,214.6 L82.3,214.7 L84.8,215.8 L87.2,217.2 L89.4,218.7 L91.5,220.5 L93.5,222.6 L95.4,224.8 L97.3,227.3 L99.1,229.9 L101.1,232.8 L102.9,236.0 L104.7,239.5 L106.4,243.2Z" fill="#5ca424"/>
<path d="M125.3,242.9 L125.7,236.8 L126.3,231.1 L126.8,225.9 L127.5,221.2 L127.9,216.9 L128.3,213.1 L128.7,209.8 L129.2,206.9 L129.6,204.5 L130.1,202.5 L130.6,200.9 L131.3,199.7 L131.2,199.6 L129.9,200.4 L128.6,201.8 L127.4,203.7 L126.3,206.1 L125.3,209.1 L124.5,212.5 L123.8,216.4 L123.3,220.8 L123.1,225.6 L123.0,230.9 L122.9,236.7 L122.9,242.9Z" fill="#54991f"/>
<path d="M101.4,242.8 L100.3,234.1 L98.9,225.8 L97.2,218.1 L95.3,210.7 L92.8,203.9 L89.9,197.6 L86.8,191.9 L83.3,186.6 L79.5,181.9 L75.4,177.7 L71.0,174.1 L66.4,170.9 L66.4,171.1 L70.6,174.6 L74.4,178.6 L78.0,183.1 L81.3,188.0 L84.3,193.3 L87.1,199.0 L89.6,205.2 L92.0,211.8 L94.3,218.8 L96.3,226.4 L98.0,234.5 L99.5,243.0Z" fill="#54991f"/>
<path d="M123.3,243.0 L124.0,234.7 L124.9,227.0 L125.8,219.7 L126.9,212.8 L127.9,206.4 L128.9,200.5 L129.9,195.0 L131.0,190.0 L132.2,185.3 L133.5,181.2 L134.9,177.4 L136.5,174.0 L136.3,174.0 L134.3,177.1 L132.3,180.6 L130.4,184.7 L128.6,189.3 L127.1,194.3 L125.6,199.9 L124.4,205.9 L123.4,212.3 L122.7,219.3 L122.1,226.7 L121.7,234.5 L121.3,242.8Z" fill="#64ac28"/>
<path d="M113.2,242.8 L113.1,235.7 L112.8,229.0 L112.4,222.6 L112.0,216.6 L111.2,211.0 L110.2,205.9 L109.1,201.1 L107.8,196.8 L106.4,192.8 L104.8,189.3 L103.2,186.3 L101.5,183.7 L101.3,183.7 L102.4,186.6 L103.3,189.9 L104.2,193.5 L105.0,197.5 L105.8,201.8 L106.5,206.5 L107.2,211.6 L107.9,217.1 L108.8,223.0 L109.6,229.2 L110.3,235.9 L110.9,243.0Z" fill="#5ca424"/>
<path d="M108.1,242.7 L107.3,235.1 L106.3,227.9 L105.0,221.1 L103.5,214.6 L101.6,208.7 L99.3,203.1 L96.7,198.1 L93.8,193.5 L90.7,189.4 L87.3,185.8 L83.8,182.6 L80.0,179.9 L80.0,180.1 L83.2,183.2 L86.1,186.8 L88.8,190.7 L91.3,195.0 L93.6,199.7 L95.7,204.7 L97.6,210.1 L99.5,215.8 L101.4,222.0 L103.0,228.5 L104.5,235.6 L105.7,243.1Z" fill="#54991f"/>
<path d="M126.6,243.0 L127.6,233.4 L128.6,224.4 L129.9,216.0 L131.3,208.1 L132.6,200.7 L133.9,193.8 L135.4,187.4 L136.9,181.6 L138.6,176.2 L140.4,171.3 L142.3,166.9 L144.5,163.0 L144.3,163.0 L141.6,166.5 L139.0,170.7 L136.5,175.4 L134.3,180.7 L132.2,186.5 L130.3,192.9 L128.7,199.9 L127.3,207.4 L126.4,215.5 L125.5,224.1 L124.9,233.2 L124.4,242.8Z" fill="#54991f"/>
<path d="M108.4,242.8 L108.2,237.2 L108.0,231.7 L107.6,226.4 L107.2,221.3 L106.4,216.3 L105.3,211.5 L104.2,207.0 L102.8,202.6 L101.4,198.4 L99.8,194.4 L98.1,190.6 L96.3,187.0 L96.2,187.0 L97.3,190.9 L98.3,194.9 L99.2,199.0 L100.0,203.3 L100.8,207.7 L101.5,212.3 L102.3,217.0 L103.0,221.9 L103.9,226.9 L104.7,232.1 L105.4,237.4 L106.1,243.0Z" fill="#7abd30"/>
<path d="M123.5,242.9 L123.4,236.6 L123.2,230.6 L122.9,224.9 L122.5,219.5 L121.8,214.5 L120.9,209.7 L119.9,205.3 L118.7,201.2 L117.4,197.5 L116.0,194.1 L114.5,191.1 L112.9,188.3 L112.7,188.4 L113.8,191.3 L114.8,194.5 L115.7,198.0 L116.5,201.8 L117.3,205.9 L117.9,210.3 L118.6,214.9 L119.2,219.9 L120.0,225.2 L120.6,230.8 L121.2,236.7 L121.6,242.9Z" fill="#7cc22a"/>
<path d="M117.6,242.9 L117.8,235.0 L118.0,227.5 L118.3,220.5 L118.4,214.0 L118.4,208.0 L118.3,202.4 L118.1,197.4 L117.8,192.8 L117.5,188.7 L117.2,185.0 L116.8,181.9 L116.5,179.2 L116.3,179.2 L116.1,181.9 L115.7,185.0 L115.5,188.7 L115.2,192.8 L115.0,197.4 L114.8,202.4 L114.7,208.0 L114.7,214.0 L114.9,220.5 L115.1,227.5 L115.3,235.0 L115.5,242.9Z" fill="#7abd30"/>
<path d="M126.6,243.0 L127.5,236.1 L128.6,229.6 L129.9,223.5 L131.3,217.9 L132.6,212.5 L134.0,207.6 L135.5,203.0 L137.1,198.7 L138.9,194.8 L140.7,191.2 L142.8,188.0 L145.1,185.1 L144.9,184.9 L142.2,187.5 L139.5,190.4 L137.0,193.7 L134.7,197.5 L132.6,201.8 L130.6,206.4 L128.9,211.5 L127.5,217.0 L126.5,222.9 L125.6,229.2 L125.0,235.8 L124.4,242.8Z" fill="#86c834"/>
<path d="M113.9,242.8 L113.4,235.0 L112.8,227.6 L112.0,220.6 L111.0,214.0 L109.7,207.9 L108.2,202.2 L106.4,197.0 L104.5,192.3 L102.3,188.0 L100.1,184.2 L97.6,180.8 L95.1,178.0 L94.9,178.0 L97.0,181.2 L98.9,184.8 L100.7,188.8 L102.3,193.1 L103.8,197.9 L105.2,203.1 L106.5,208.7 L107.7,214.7 L109.0,221.1 L110.2,227.9 L111.2,235.2 L112.0,243.0Z" fill="#7cc22a"/>
<path d="M121.1,242.9 L121.5,235.2 L122.1,227.8 L122.7,220.9 L123.3,214.5 L123.8,208.4 L124.3,202.8 L124.9,197.6 L125.4,192.9 L126.0,188.6 L126.6,184.6 L127.3,181.1 L128.1,178.0 L127.9,178.0 L126.7,180.9 L125.5,184.3 L124.4,188.2 L123.3,192.5 L122.4,197.3 L121.6,202.5 L120.8,208.1 L120.3,214.2 L120.0,220.7 L119.7,227.7 L119.5,235.1 L119.4,242.9Z" fill="#7abd30"/>
<path d="M109.4,242.8 L108.7,233.4 L107.7,224.4 L106.5,216.0 L105.1,208.1 L103.4,200.7 L101.3,193.9 L99.0,187.6 L96.4,181.8 L93.6,176.6 L90.6,172.0 L87.4,168.0 L84.1,164.5 L83.9,164.5 L86.9,168.3 L89.6,172.7 L92.2,177.4 L94.5,182.7 L96.6,188.5 L98.6,194.7 L100.4,201.5 L102.2,208.7 L103.8,216.5 L105.3,224.8 L106.6,233.6 L107.7,243.0Z" fill="#7abd30"/>
<path d="M104.2,242.4 L106.5,219.8" stroke="#b2d88a" stroke-width="0.9"/>
<path d="M120.8,242.4 L120.3,215.6" stroke="#9fcf6a" stroke-width="1.5"/>
<path d="M133.6,242.4 L134.8,219.5" stroke="#a6d27a" stroke-width="1.5"/>
<path d="M112.6,242.4 L114.2,223.6" stroke="#7dbb48" stroke-width="1.1"/>
<path d="M104.8,242.4 L104.0,216.5" stroke="#7dbb48" stroke-width="1.2"/>
<path d="M112.9,242.4 L112.0,218.5" stroke="#8cc45a" stroke-width="0.9"/>
<path d="M121.2,242.4 L123.1,219.0" stroke="#a6d27a" stroke-width="1.3"/>
<path d="M104.9,242.4 L105.6,218.6" stroke="#8cc45a" stroke-width="1.3"/>
<path d="M121.0,242.4 L120.0,217.0" stroke="#8cc45a" stroke-width="1.5"/>
<path d="M112.1,242.4 L114.5,220.6" stroke="#7dbb48" stroke-width="1.4"/>
<path d="M111.8,242.4 L112.4,225.5" stroke="#8cc45a" stroke-width="1.4"/>
<path d="M116.9,242.4 L118.1,220.8" stroke="#b2d88a" stroke-width="0.8"/>
<path d="M156.5,243.8 C152.6,238.7 159.4,236.3 175.0,236.3 C190.6,236.3 197.4,238.7 193.5,243.8 Z" fill="#2f6414"/>
<path d="M159.8,243.8 L159.9,239.5 L160.0,235.5 L160.1,231.7 L160.2,228.1 L160.0,224.8 L159.8,221.7 L159.4,218.9 L159.1,216.3 L158.6,213.9 L158.2,211.8 L157.7,210.0 L157.2,208.4 L157.0,208.4 L157.0,210.1 L157.0,212.0 L156.9,214.1 L156.8,216.5 L156.8,219.0 L156.8,221.9 L156.9,224.9 L157.0,228.2 L157.3,231.8 L157.5,235.5 L157.8,239.6 L158.0,243.8Z" fill="#33701a"/>
<path d="M163.6,243.7 L163.6,239.4 L163.6,235.4 L163.5,231.5 L163.4,227.8 L163.0,224.4 L162.5,221.2 L161.9,218.3 L161.2,215.6 L160.4,213.1 L159.5,210.8 L158.6,208.8 L157.6,207.1 L157.5,207.1 L157.7,209.1 L157.9,211.2 L158.1,213.5 L158.3,216.1 L158.5,218.8 L158.7,221.7 L158.9,224.9 L159.2,228.2 L159.8,231.8 L160.3,235.6 L160.8,239.6 L161.3,243.9Z" fill="#2f6a12"/>
<path d="M170.6,243.8 L170.8,237.2 L170.9,230.9 L170.9,225.0 L170.9,219.4 L170.7,214.2 L170.2,209.3 L169.7,204.8 L169.1,200.6 L168.4,196.7 L167.5,193.3 L166.7,190.2 L165.7,187.4 L165.6,187.5 L166.0,190.3 L166.3,193.5 L166.6,197.0 L166.8,200.8 L167.0,205.0 L167.2,209.5 L167.4,214.4 L167.7,219.5 L168.0,225.1 L168.3,231.0 L168.6,237.2 L168.8,243.8Z" fill="#3a7a16"/>
<path d="M170.0,243.8 L170.1,237.1 L170.2,230.9 L170.2,225.2 L170.3,219.8 L170.1,214.9 L169.8,210.5 L169.5,206.5 L169.1,202.9 L168.6,199.7 L168.1,197.1 L167.6,194.8 L167.1,193.0 L166.9,193.0 L166.9,194.9 L166.9,197.2 L166.9,199.9 L166.9,203.0 L166.9,206.6 L166.9,210.6 L166.9,215.0 L167.1,219.9 L167.4,225.2 L167.7,231.0 L167.9,237.2 L168.2,243.8Z" fill="#2f6a12"/>
<path d="M183.8,244.2 L185.4,240.8 L187.0,237.6 L188.8,234.5 L190.7,231.6 L192.5,228.6 L194.3,225.7 L196.2,222.8 L198.1,220.0 L200.2,217.3 L202.3,214.6 L204.6,212.0 L207.0,209.5 L207.0,209.4 L204.1,211.4 L201.3,213.5 L198.6,215.8 L196.1,218.3 L193.7,220.9 L191.4,223.6 L189.3,226.6 L187.4,229.6 L185.8,233.0 L184.3,236.3 L183.0,239.8 L181.8,243.4Z" fill="#3a7a16"/>
<path d="M175.1,243.8 L175.4,236.5 L175.6,229.5 L175.8,223.0 L176.0,216.9 L176.0,211.2 L175.8,205.9 L175.5,201.1 L175.1,196.6 L174.7,192.6 L174.3,189.0 L173.8,185.8 L173.3,183.0 L173.2,183.0 L172.9,185.8 L172.6,189.0 L172.3,192.7 L172.0,196.7 L171.8,201.1 L171.6,206.0 L171.5,211.3 L171.6,216.9 L171.8,223.0 L172.1,229.5 L172.4,236.5 L172.6,243.8Z" fill="#3a7a16"/>
<path d="M172.3,243.8 L172.4,238.2 L172.5,232.9 L172.6,228.1 L172.7,223.6 L172.6,219.6 L172.3,215.9 L172.0,212.6 L171.7,209.7 L171.3,207.2 L170.8,205.0 L170.3,203.3 L169.9,202.0 L169.7,202.0 L169.6,203.4 L169.4,205.1 L169.2,207.3 L169.0,209.8 L168.9,212.7 L168.8,216.0 L168.8,219.7 L168.9,223.7 L169.2,228.2 L169.5,233.0 L169.8,238.2 L170.1,243.8Z" fill="#3a7a16"/>
<path d="M175.6,243.8 L175.9,237.8 L176.2,232.1 L176.6,226.7 L176.9,221.7 L177.0,217.0 L177.1,212.6 L177.1,208.5 L177.1,204.7 L177.1,201.3 L177.0,198.2 L176.9,195.4 L176.9,193.0 L176.8,193.0 L176.3,195.4 L175.7,198.1 L175.2,201.2 L174.8,204.6 L174.4,208.4 L174.0,212.4 L173.7,216.8 L173.6,221.6 L173.6,226.6 L173.6,232.0 L173.7,237.7 L173.7,243.8Z" fill="#3a7a16"/>
<path d="M160.5,243.7 L160.1,236.3 L159.5,229.3 L158.8,222.6 L157.9,216.3 L156.7,210.5 L155.1,205.0 L153.4,200.0 L151.5,195.3 L149.4,191.1 L147.1,187.3 L144.6,184.0 L142.1,181.1 L141.9,181.2 L144.0,184.4 L145.8,188.0 L147.5,192.0 L149.1,196.3 L150.6,200.9 L151.9,205.9 L153.1,211.3 L154.3,217.0 L155.6,223.1 L156.7,229.6 L157.6,236.6 L158.4,243.9Z" fill="#33701a"/>
<path d="M162.4,243.7 L162.0,236.9 L161.4,230.4 L160.6,224.3 L159.6,218.5 L158.3,213.2 L156.6,208.2 L154.6,203.7 L152.5,199.7 L150.1,196.0 L147.6,192.8 L144.9,190.1 L142.1,187.8 L141.9,187.9 L144.2,190.7 L146.1,193.9 L147.9,197.3 L149.6,201.1 L151.1,205.2 L152.5,209.6 L153.8,214.4 L155.1,219.6 L156.5,225.0 L157.8,230.9 L158.9,237.2 L159.8,243.9Z" fill="#448a1a"/>
<path d="M193.5,243.8 L193.8,238.8 L194.4,234.0 L195.0,229.6 L195.8,225.5 L196.5,221.7 L197.2,218.2 L198.0,215.0 L198.8,212.1 L199.8,209.4 L200.9,207.0 L202.1,204.9 L203.5,203.0 L203.4,202.9 L201.5,204.4 L199.7,206.3 L198.1,208.5 L196.5,211.1 L195.2,214.1 L194.0,217.4 L193.0,221.0 L192.3,225.0 L191.9,229.2 L191.6,233.8 L191.5,238.6 L191.5,243.8Z" fill="#448a1a"/>
<path d="M172.7,243.8 L172.9,239.3 L173.1,235.1 L173.4,231.1 L173.6,227.4 L173.6,224.0 L173.5,220.8 L173.3,217.9 L173.1,215.3 L172.8,213.0 L172.5,210.9 L172.2,209.0 L171.9,207.4 L171.7,207.4 L171.3,209.0 L170.9,210.8 L170.5,212.9 L170.2,215.3 L169.9,217.9 L169.7,220.8 L169.5,224.0 L169.5,227.4 L169.7,231.1 L169.9,235.1 L170.1,239.3 L170.4,243.8Z" fill="#448a1a"/>
<path d="M189.2,243.8 L189.4,237.0 L189.6,230.8 L190.0,225.0 L190.5,219.7 L190.8,215.0 L191.2,210.7 L191.5,206.9 L191.9,203.6 L192.4,200.7 L192.9,198.3 L193.5,196.3 L194.3,194.7 L194.2,194.6 L192.8,195.8 L191.5,197.7 L190.3,200.0 L189.2,202.9 L188.3,206.3 L187.5,210.2 L186.9,214.6 L186.5,219.5 L186.5,224.9 L186.5,230.7 L186.7,237.0 L186.9,243.8Z" fill="#448a1a"/>
<path d="M174.8,244.0 L175.8,239.8 L176.9,235.9 L177.9,232.0 L179.1,228.3 L180.0,224.8 L180.8,221.3 L181.7,218.0 L182.5,214.8 L183.3,211.7 L184.2,208.7 L185.0,205.8 L186.0,203.1 L185.8,203.1 L184.2,205.5 L182.7,208.0 L181.1,210.8 L179.7,213.7 L178.3,216.9 L177.1,220.2 L175.9,223.6 L174.9,227.3 L174.2,231.2 L173.6,235.2 L173.0,239.3 L172.5,243.6Z" fill="#448a1a"/>
<path d="M176.4,243.8 L176.6,236.2 L176.8,229.0 L177.1,222.2 L177.3,215.9 L177.4,210.0 L177.4,204.5 L177.3,199.4 L177.2,194.7 L177.0,190.5 L176.8,186.7 L176.6,183.3 L176.5,180.3 L176.3,180.3 L175.9,183.2 L175.5,186.6 L175.0,190.4 L174.7,194.7 L174.4,199.3 L174.1,204.4 L173.9,209.9 L173.8,215.8 L173.9,222.2 L174.1,229.0 L174.2,236.2 L174.4,243.8Z" fill="#448a1a"/>
<path d="M173.1,243.8 L173.1,235.2 L173.0,227.1 L172.8,219.4 L172.6,212.2 L172.1,205.5 L171.5,199.3 L170.7,193.6 L169.8,188.3 L168.8,183.6 L167.7,179.3 L166.6,175.5 L165.4,172.3 L165.2,172.3 L165.8,175.7 L166.2,179.6 L166.7,183.9 L167.1,188.7 L167.5,193.9 L167.9,199.6 L168.3,205.8 L168.7,212.5 L169.4,219.6 L169.9,227.2 L170.5,235.3 L170.9,243.8Z" fill="#448a1a"/>
<path d="M174.9,243.8 L175.3,238.7 L175.6,233.9 L176.0,229.2 L176.4,224.7 L176.6,220.5 L176.6,216.5 L176.5,212.7 L176.5,209.1 L176.3,205.7 L176.2,202.5 L176.0,199.5 L175.9,196.8 L175.7,196.7 L175.2,199.4 L174.6,202.4 L174.0,205.5 L173.5,208.9 L173.0,212.5 L172.6,216.3 L172.3,220.3 L172.2,224.6 L172.2,229.1 L172.3,233.8 L172.4,238.7 L172.5,243.8Z" fill="#5ca424"/>
<path d="M169.8,243.8 L169.9,235.3 L169.9,227.4 L169.8,220.0 L169.7,213.2 L169.4,206.9 L168.9,201.2 L168.3,196.0 L167.7,191.4 L167.0,187.3 L166.1,183.7 L165.3,180.8 L164.4,178.4 L164.3,178.4 L164.6,180.9 L164.8,184.0 L165.0,187.5 L165.2,191.6 L165.4,196.2 L165.6,201.4 L165.8,207.1 L166.1,213.4 L166.6,220.2 L167.0,227.5 L167.4,235.4 L167.8,243.8Z" fill="#6cb22c"/>
<path d="M181.5,243.8 L182.0,238.2 L182.8,232.9 L183.9,228.0 L185.4,223.6 L187.0,219.4 L188.9,215.6 L191.0,212.0 L193.5,208.8 L196.3,205.8 L199.5,203.1 L203.0,200.7 L207.0,198.6 L207.0,198.5 L202.7,200.1 L198.7,202.0 L195.1,204.3 L191.7,207.1 L188.8,210.3 L186.1,214.0 L183.9,218.0 L182.2,222.5 L181.0,227.3 L180.1,232.5 L179.7,238.0 L179.6,243.8Z" fill="#64ac28"/>
<path d="M180.4,243.8 L180.6,237.7 L180.9,232.0 L181.1,226.6 L181.3,221.5 L181.4,216.8 L181.3,212.4 L181.1,208.4 L180.9,204.7 L180.7,201.4 L180.5,198.4 L180.2,195.7 L180.0,193.4 L179.8,193.4 L179.4,195.7 L178.9,198.4 L178.5,201.3 L178.2,204.7 L177.9,208.4 L177.6,212.4 L177.5,216.8 L177.4,221.5 L177.6,226.5 L177.8,232.0 L178.0,237.7 L178.2,243.8Z" fill="#64ac28"/>
<path d="M185.2,243.8 L185.6,237.2 L186.3,230.9 L187.0,224.8 L188.0,218.9 L189.0,213.3 L190.0,207.9 L191.2,202.7 L192.5,197.7 L193.9,192.9 L195.5,188.4 L197.3,184.0 L199.3,179.9 L199.2,179.8 L196.7,183.7 L194.4,187.9 L192.3,192.3 L190.3,197.0 L188.6,201.9 L187.1,207.2 L185.8,212.7 L184.8,218.4 L184.2,224.4 L183.7,230.6 L183.5,237.1 L183.4,243.8Z" fill="#5ca424"/>
<path d="M191.9,243.9 L192.7,235.6 L193.6,227.9 L194.5,220.8 L195.5,214.3 L196.4,208.3 L197.4,202.9 L198.3,198.0 L199.3,193.6 L200.4,189.8 L201.5,186.6 L202.6,183.8 L203.9,181.6 L203.8,181.5 L202.1,183.5 L200.5,186.1 L198.9,189.3 L197.4,193.1 L196.1,197.4 L194.8,202.4 L193.7,207.9 L192.8,213.9 L192.0,220.5 L191.4,227.7 L190.8,235.5 L190.4,243.7Z" fill="#6cb22c"/>
<path d="M178.9,243.9 L179.6,237.6 L180.4,231.5 L181.2,225.8 L182.1,220.3 L182.7,215.0 L183.3,210.0 L183.9,205.2 L184.4,200.7 L184.9,196.4 L185.4,192.4 L186.0,188.6 L186.6,185.1 L186.4,185.1 L185.2,188.5 L184.0,192.1 L182.8,196.0 L181.8,200.2 L180.7,204.7 L179.8,209.5 L179.0,214.5 L178.3,219.8 L177.8,225.4 L177.4,231.2 L177.1,237.4 L176.7,243.7Z" fill="#6cb22c"/>
<path d="M165.3,243.7 L165.0,236.6 L164.4,229.8 L163.5,223.3 L162.4,217.3 L160.9,211.6 L159.0,206.4 L156.8,201.6 L154.4,197.2 L151.7,193.3 L148.7,189.8 L145.5,186.7 L142.1,184.1 L142.0,184.2 L145.1,187.2 L147.8,190.5 L150.3,194.2 L152.6,198.2 L154.6,202.6 L156.4,207.4 L158.0,212.5 L159.5,218.0 L160.9,223.8 L162.0,230.1 L163.0,236.8 L163.6,243.9Z" fill="#6cb22c"/>
<path d="M180.8,243.8 L181.0,238.8 L181.1,234.0 L181.1,229.5 L181.1,225.2 L180.8,221.2 L180.3,217.4 L179.7,213.9 L179.0,210.6 L178.1,207.6 L177.2,204.9 L176.1,202.4 L175.0,200.2 L174.9,200.3 L175.4,202.6 L175.7,205.2 L176.1,208.0 L176.4,211.0 L176.6,214.3 L176.9,217.8 L177.1,221.5 L177.4,225.4 L177.8,229.6 L178.2,234.1 L178.5,238.8 L178.7,243.8Z" fill="#6cb22c"/>
<path d="M159.2,243.7 L159.0,239.5 L158.5,235.4 L157.9,231.5 L157.2,227.6 L156.0,224.0 L154.6,220.6 L152.9,217.3 L151.1,214.3 L149.1,211.4 L146.9,208.8 L144.5,206.3 L142.1,204.0 L141.9,204.1 L144.0,206.8 L145.7,209.6 L147.4,212.5 L148.8,215.5 L150.2,218.7 L151.4,221.9 L152.5,225.2 L153.6,228.7 L154.7,232.2 L155.7,235.9 L156.5,239.8 L157.2,243.9Z" fill="#6cb22c"/>
<path d="M178.0,243.8 L177.8,237.2 L177.6,231.0 L177.3,225.2 L176.9,219.7 L176.3,214.7 L175.5,210.0 L174.6,205.6 L173.6,201.7 L172.5,198.2 L171.2,195.0 L169.9,192.3 L168.6,189.9 L168.4,189.9 L169.3,192.5 L170.1,195.4 L170.8,198.6 L171.5,202.2 L172.2,206.1 L172.7,210.4 L173.3,215.1 L173.9,220.1 L174.6,225.4 L175.2,231.2 L175.8,237.3 L176.3,243.8Z" fill="#54991f"/>
<path d="M167.0,243.7 L166.6,238.2 L166.0,233.0 L165.4,228.1 L164.6,223.6 L163.5,219.4 L162.1,215.7 L160.6,212.3 L158.8,209.3 L157.0,206.7 L155.0,204.5 L152.8,202.7 L150.7,201.3 L150.6,201.4 L152.3,203.3 L153.8,205.4 L155.1,207.8 L156.4,210.6 L157.6,213.6 L158.7,216.9 L159.7,220.6 L160.8,224.5 L161.9,228.8 L163.0,233.5 L163.9,238.5 L164.8,243.9Z" fill="#6cb22c"/>
<path d="M180.7,243.8 L180.9,238.5 L181.1,233.4 L181.4,228.5 L181.8,223.8 L182.0,219.2 L182.2,214.8 L182.4,210.6 L182.6,206.6 L182.8,202.7 L183.1,198.9 L183.4,195.4 L183.8,192.0 L183.6,191.9 L182.8,195.3 L181.9,198.8 L181.2,202.4 L180.5,206.3 L179.9,210.4 L179.4,214.6 L179.0,219.1 L178.8,223.7 L178.7,228.4 L178.8,233.4 L178.9,238.5 L179.0,243.8Z" fill="#64ac28"/>
<path d="M191.1,243.8 L191.4,237.3 L191.9,231.1 L192.6,225.0 L193.5,219.2 L194.5,213.6 L195.5,208.2 L196.7,202.9 L198.1,197.9 L199.7,193.0 L201.4,188.3 L203.4,183.7 L205.7,179.3 L205.5,179.3 L202.8,183.4 L200.2,187.7 L197.8,192.2 L195.7,197.0 L193.8,202.1 L192.2,207.4 L190.9,212.9 L189.9,218.7 L189.4,224.7 L189.1,230.9 L189.0,237.2 L189.1,243.8Z" fill="#5ca424"/>
<path d="M173.9,243.8 L174.0,235.9 L174.1,228.4 L174.1,221.4 L174.1,214.8 L173.9,208.6 L173.5,202.9 L173.1,197.7 L172.6,192.8 L172.0,188.5 L171.4,184.5 L170.7,181.0 L170.1,178.0 L169.9,178.0 L170.0,181.1 L170.0,184.6 L170.1,188.6 L170.1,193.0 L170.2,197.8 L170.2,203.1 L170.3,208.8 L170.5,214.9 L170.9,221.5 L171.3,228.5 L171.6,235.9 L171.9,243.8Z" fill="#54991f"/>
<path d="M170.2,243.7 L169.6,233.8 L168.6,224.5 L167.0,215.9 L164.9,208.0 L162.4,200.9 L159.1,194.5 L155.3,188.9 L151.1,184.2 L148.9,181.4 L146.3,180.2 L143.9,181.4 L142.4,184.3 L141.1,188.8 L139.9,195.0 L140.1,195.0 L141.7,189.0 L143.4,184.8 L145.1,182.6 L146.2,182.2 L147.2,183.1 L148.9,185.8 L152.9,190.7 L156.3,196.1 L159.3,202.2 L162.1,209.0 L164.3,216.6 L166.2,224.9 L167.5,234.0 L168.4,243.9Z" fill="#5ca424"/>
<path d="M181.5,243.8 L181.9,237.2 L182.4,230.9 L183.0,224.9 L183.5,219.4 L183.9,214.2 L184.2,209.4 L184.5,204.9 L184.8,200.9 L185.1,197.1 L185.4,193.7 L185.7,190.7 L186.1,188.0 L185.9,188.0 L184.9,190.5 L183.8,193.4 L182.8,196.7 L181.9,200.4 L181.1,204.5 L180.4,209.0 L179.8,213.9 L179.4,219.1 L179.2,224.7 L179.1,230.7 L179.1,237.1 L179.1,243.8Z" fill="#6cb22c"/>
<path d="M181.7,243.9 L182.5,234.9 L183.4,226.5 L184.4,218.6 L185.5,211.1 L186.5,204.2 L187.6,197.8 L188.7,191.8 L189.8,186.3 L191.1,181.3 L192.5,176.8 L193.9,172.7 L195.6,169.0 L195.4,169.0 L193.2,172.3 L191.1,176.2 L189.1,180.6 L187.3,185.6 L185.6,191.1 L184.1,197.1 L182.8,203.6 L181.7,210.6 L181.0,218.2 L180.4,226.2 L179.9,234.7 L179.6,243.7Z" fill="#6cb22c"/>
<path d="M185.7,244.0 L186.7,238.8 L187.9,233.9 L189.2,229.4 L190.6,225.2 L192.0,221.2 L193.5,217.4 L195.0,214.0 L196.7,210.7 L198.5,207.7 L200.5,204.9 L202.6,202.4 L205.0,200.1 L205.0,199.9 L202.1,201.7 L199.3,203.8 L196.7,206.3 L194.3,209.1 L192.1,212.3 L190.0,215.8 L188.2,219.7 L186.7,223.9 L185.6,228.4 L184.7,233.2 L184.0,238.3 L183.5,243.6Z" fill="#6cb22c"/>
<path d="M167.6,243.7 L167.3,235.7 L166.9,228.1 L166.3,220.9 L165.7,214.1 L164.6,207.8 L163.4,202.0 L162.0,196.6 L160.4,191.7 L158.6,187.3 L156.7,183.4 L154.7,179.9 L152.6,177.0 L152.4,177.0 L154.0,180.3 L155.3,184.0 L156.5,188.1 L157.7,192.5 L158.8,197.4 L159.8,202.8 L160.8,208.5 L161.7,214.7 L162.8,221.3 L163.8,228.4 L164.6,235.9 L165.4,243.9Z" fill="#64ac28"/>
<path d="M169.2,243.7 L168.7,234.1 L168.0,225.1 L167.1,216.5 L166.0,208.5 L164.5,201.0 L162.8,194.1 L160.7,187.7 L158.5,181.8 L156.1,176.6 L153.5,171.9 L150.7,167.8 L147.8,164.3 L147.6,164.3 L150.0,168.2 L152.1,172.6 L154.1,177.5 L155.9,182.8 L157.6,188.6 L159.2,195.0 L160.7,201.8 L162.1,209.2 L163.6,217.0 L164.9,225.4 L166.0,234.4 L167.0,243.9Z" fill="#54991f"/>
<path d="M183.0,243.9 L184.0,237.5 L185.2,231.5 L186.6,225.9 L188.1,220.6 L189.5,215.7 L191.0,211.1 L192.6,206.8 L194.4,202.9 L196.3,199.2 L198.3,195.9 L200.6,192.8 L203.1,190.1 L202.9,189.9 L200.0,192.2 L197.1,194.9 L194.4,198.0 L191.9,201.5 L189.7,205.4 L187.6,209.8 L185.7,214.5 L184.2,219.6 L183.1,225.1 L182.1,231.0 L181.4,237.2 L180.8,243.7Z" fill="#6cb22c"/>
<path d="M161.0,243.6 L160.3,236.9 L159.5,230.3 L158.6,224.0 L157.6,217.9 L156.2,212.2 L154.6,206.7 L152.9,201.4 L151.0,196.5 L148.9,191.8 L146.7,187.4 L144.4,183.3 L142.1,179.5 L141.9,179.6 L143.6,183.7 L145.2,188.1 L146.7,192.7 L148.1,197.5 L149.4,202.5 L150.7,207.7 L152.0,213.2 L153.3,218.9 L154.8,224.8 L156.1,230.9 L157.4,237.3 L158.6,244.0Z" fill="#7abd30"/>
<path d="M158.4,243.8 L158.3,237.4 L158.0,231.5 L157.6,226.0 L157.1,220.8 L156.2,216.1 L155.0,211.7 L153.7,207.8 L152.1,204.4 L150.4,201.4 L148.5,198.8 L146.5,196.7 L144.4,195.0 L144.3,195.1 L146.1,197.1 L147.6,199.5 L149.0,202.2 L150.2,205.2 L151.3,208.6 L152.4,212.5 L153.3,216.7 L154.1,221.3 L155.0,226.3 L155.7,231.7 L156.3,237.6 L156.7,243.8Z" fill="#86c834"/>
<path d="M181.2,243.9 L182.0,236.7 L182.9,229.8 L183.8,223.3 L184.8,217.1 L185.7,211.3 L186.5,205.9 L187.3,200.7 L188.1,195.9 L189.0,191.5 L189.8,187.4 L190.8,183.6 L191.8,180.1 L191.7,180.1 L190.1,183.3 L188.6,187.0 L187.1,191.0 L185.7,195.4 L184.5,200.2 L183.3,205.3 L182.3,210.8 L181.4,216.7 L180.7,222.9 L180.2,229.5 L179.7,236.4 L179.2,243.7Z" fill="#86c834"/>
<path d="M180.2,243.9 L181.1,237.1 L182.0,230.7 L183.0,224.6 L184.0,218.9 L184.9,213.5 L185.7,208.4 L186.6,203.6 L187.4,199.1 L188.3,194.9 L189.3,191.0 L190.2,187.4 L191.3,184.2 L191.2,184.1 L189.6,187.2 L188.0,190.6 L186.5,194.3 L185.1,198.4 L183.8,202.9 L182.6,207.7 L181.5,212.9 L180.6,218.4 L179.9,224.2 L179.3,230.4 L178.7,236.9 L178.3,243.7Z" fill="#72b828"/>
<path d="M169.0,243.6 L168.6,238.3 L168.0,233.3 L167.2,228.5 L166.3,223.9 L165.0,219.8 L163.4,215.9 L161.6,212.4 L159.6,209.2 L157.4,206.3 L155.1,203.8 L152.6,201.7 L150.0,199.9 L150.0,200.1 L152.0,202.4 L153.8,204.9 L155.5,207.7 L157.0,210.7 L158.4,213.9 L159.7,217.4 L161.0,221.1 L162.2,225.1 L163.5,229.3 L164.7,233.9 L165.7,238.8 L166.6,244.0Z" fill="#7cc22a"/>
<path d="M165.6,243.7 L165.0,237.2 L164.3,231.0 L163.4,225.2 L162.4,219.7 L161.0,214.6 L159.3,209.9 L157.3,205.6 L155.2,201.6 L152.9,198.1 L150.4,195.0 L147.8,192.3 L145.1,189.9 L144.9,190.1 L147.3,192.8 L149.3,195.8 L151.3,199.1 L153.0,202.8 L154.7,206.7 L156.2,211.0 L157.6,215.6 L158.9,220.6 L160.3,225.8 L161.6,231.5 L162.6,237.5 L163.6,243.9Z" fill="#7cc22a"/>
<path d="M166.7,243.3 L168.2,215.7" stroke="#a6d27a" stroke-width="0.8"/>
<path d="M186.1,243.3 L185.6,223.4" stroke="#b2d88a" stroke-width="1.3"/>
<path d="M184.8,243.3 L184.2,225.2" stroke="#a6d27a" stroke-width="1.1"/>
<path d="M189.8,243.3 L187.3,223.6" stroke="#7dbb48" stroke-width="1.3"/>
<path d="M161.7,243.3 L162.7,223.8" stroke="#9fcf6a" stroke-width="1.5"/>
<path d="M160.1,243.3 L159.1,216.4" stroke="#b2d88a" stroke-width="1.1"/>
<path d="M160.4,243.3 L161.2,222.3" stroke="#7dbb48" stroke-width="0.8"/>
<path d="M162.1,243.3 L161.9,222.6" stroke="#7dbb48" stroke-width="1.2"/>
<path d="M173.2,243.3 L173.3,218.9" stroke="#a6d27a" stroke-width="1.1"/>
<path d="M162.3,243.3 L162.3,218.5" stroke="#a6d27a" stroke-width="1.1"/>
<path d="M173.9,243.3 L176.6,218.8" stroke="#8cc45a" stroke-width="1.0"/>
<path d="M176.9,243.3 L176.4,217.7" stroke="#b2d88a" stroke-width="0.8"/>
<path d="M207.1,244.6 C202.8,239.5 210.2,237.1 227.0,237.1 C243.8,237.1 251.2,239.5 246.9,244.6 Z" fill="#2f6414"/>
<path d="M218.2,244.4 L217.1,237.4 L215.9,230.8 L214.6,224.7 L213.3,219.1 L211.6,214.0 L209.7,209.4 L207.6,205.3 L205.5,201.8 L203.2,198.7 L200.9,196.2 L198.4,194.3 L196.0,192.9 L196.0,193.0 L197.8,195.0 L199.5,197.3 L201.2,200.1 L202.8,203.3 L204.3,206.9 L205.8,211.0 L207.4,215.5 L209.0,220.4 L210.8,225.8 L212.5,231.6 L214.1,238.0 L215.7,244.8Z" fill="#3a7a16"/>
<path d="M228.0,244.6 L228.2,239.0 L228.4,233.8 L228.5,228.9 L228.7,224.5 L228.5,220.4 L228.2,216.8 L227.8,213.5 L227.3,210.7 L226.8,208.2 L226.2,206.2 L225.5,204.6 L224.9,203.4 L224.7,203.4 L224.6,204.7 L224.4,206.4 L224.2,208.5 L224.0,210.9 L223.9,213.8 L223.9,217.0 L223.9,220.6 L224.0,224.6 L224.4,229.0 L224.7,233.8 L225.1,239.0 L225.4,244.6Z" fill="#448a1a"/>
<path d="M223.4,244.5 L223.3,238.3 L223.1,232.3 L222.8,226.6 L222.3,221.2 L221.6,216.2 L220.6,211.5 L219.4,207.2 L218.1,203.1 L216.6,199.5 L215.0,196.2 L213.2,193.2 L211.4,190.6 L211.3,190.7 L212.5,193.6 L213.6,196.8 L214.6,200.2 L215.5,203.9 L216.4,207.9 L217.1,212.2 L217.8,216.8 L218.6,221.8 L219.4,227.0 L220.1,232.5 L220.8,238.4 L221.3,244.7Z" fill="#2f6a12"/>
<path d="M222.4,244.6 L222.8,239.3 L223.2,234.3 L223.6,229.7 L224.1,225.5 L224.4,221.6 L224.7,218.1 L225.0,214.9 L225.2,212.1 L225.4,209.7 L225.7,207.6 L225.9,205.9 L226.3,204.4 L226.1,204.4 L225.3,205.6 L224.5,207.3 L223.7,209.3 L223.0,211.8 L222.4,214.6 L221.8,217.7 L221.4,221.3 L221.0,225.2 L220.9,229.5 L220.8,234.2 L220.7,239.2 L220.7,244.6Z" fill="#2f6a12"/>
<path d="M241.6,244.6 L241.8,238.4 L242.2,232.6 L242.8,227.1 L243.4,221.8 L244.0,216.9 L244.6,212.1 L245.2,207.7 L246.0,203.5 L246.8,199.6 L247.8,195.9 L248.9,192.4 L250.2,189.2 L250.1,189.1 L248.1,192.0 L246.2,195.3 L244.5,198.8 L243.0,202.7 L241.7,206.9 L240.6,211.5 L239.7,216.3 L239.1,221.4 L238.9,226.8 L238.8,232.5 L238.9,238.4 L239.2,244.6Z" fill="#3a7a16"/>
<path d="M226.8,244.6 L227.1,238.1 L227.5,231.8 L227.8,225.7 L228.2,219.8 L228.3,214.0 L228.3,208.5 L228.2,203.2 L228.1,198.1 L227.9,193.1 L227.7,188.4 L227.5,183.9 L227.3,179.5 L227.2,179.5 L226.7,183.8 L226.1,188.4 L225.6,193.1 L225.2,198.0 L224.8,203.1 L224.4,208.4 L224.2,213.9 L224.0,219.7 L224.1,225.6 L224.2,231.7 L224.4,238.1 L224.5,244.6Z" fill="#33701a"/>
<path d="M242.0,244.7 L242.6,239.9 L243.4,235.5 L244.2,231.4 L245.2,227.6 L246.0,224.2 L246.8,221.0 L247.6,218.1 L248.5,215.5 L249.5,213.2 L250.6,211.1 L251.8,209.2 L253.3,207.6 L253.2,207.5 L251.2,208.5 L249.2,209.9 L247.4,211.8 L245.6,214.0 L244.1,216.6 L242.7,219.6 L241.5,223.0 L240.6,226.6 L240.1,230.7 L239.8,235.0 L239.5,239.6 L239.4,244.5Z" fill="#33701a"/>
<path d="M228.7,244.6 L229.0,240.8 L229.2,237.2 L229.4,233.7 L229.5,230.5 L229.4,227.4 L229.1,224.5 L228.8,221.8 L228.4,219.3 L227.8,217.0 L227.3,214.8 L226.6,212.9 L226.0,211.2 L225.9,211.2 L225.8,213.0 L225.7,215.0 L225.6,217.2 L225.5,219.5 L225.4,222.0 L225.4,224.7 L225.3,227.5 L225.4,230.6 L225.7,233.8 L226.0,237.2 L226.2,240.8 L226.4,244.6Z" fill="#33701a"/>
<path d="M213.3,244.6 L213.1,236.9 L212.8,229.7 L212.5,222.8 L211.9,216.4 L211.1,210.3 L210.1,204.7 L208.9,199.5 L207.5,194.7 L206.0,190.3 L204.3,186.4 L202.6,182.9 L200.7,179.9 L200.6,179.9 L202.0,183.2 L203.2,186.9 L204.4,190.9 L205.4,195.3 L206.3,200.1 L207.2,205.2 L208.0,210.8 L208.8,216.7 L209.7,223.1 L210.4,229.9 L211.0,237.0 L211.5,244.6Z" fill="#3a7a16"/>
<path d="M239.4,244.7 L240.0,240.3 L240.6,236.2 L241.2,232.3 L241.8,228.8 L242.3,225.6 L242.7,222.6 L243.1,219.9 L243.4,217.4 L243.8,215.3 L244.2,213.4 L244.6,211.7 L245.1,210.3 L244.9,210.3 L244.0,211.5 L243.1,213.0 L242.2,214.8 L241.4,216.9 L240.6,219.3 L239.9,222.1 L239.2,225.1 L238.7,228.4 L238.4,232.0 L238.2,235.9 L237.9,240.1 L237.7,244.5Z" fill="#3a7a16"/>
<path d="M229.2,244.6 L229.2,238.6 L229.2,233.1 L229.3,228.0 L229.2,223.3 L229.0,219.1 L228.7,215.3 L228.2,211.9 L227.7,209.0 L227.2,206.5 L226.6,204.5 L225.9,202.9 L225.3,201.8 L225.1,201.9 L225.3,203.1 L225.4,204.7 L225.5,206.8 L225.6,209.3 L225.7,212.2 L225.8,215.5 L225.9,219.3 L226.1,223.5 L226.5,228.1 L226.8,233.2 L227.1,238.7 L227.4,244.6Z" fill="#448a1a"/>
<path d="M230.6,244.6 L230.8,236.9 L231.1,229.7 L231.3,222.9 L231.6,216.7 L231.6,211.0 L231.5,205.7 L231.3,201.0 L231.2,196.7 L230.9,193.0 L230.7,189.7 L230.4,186.9 L230.1,184.6 L230.0,184.6 L229.6,186.9 L229.2,189.7 L228.8,192.9 L228.4,196.7 L228.2,200.9 L227.9,205.7 L227.7,210.9 L227.7,216.7 L227.9,222.9 L228.0,229.7 L228.2,236.9 L228.4,244.6Z" fill="#33701a"/>
<path d="M232.1,244.7 L232.8,237.9 L233.6,231.4 L234.4,225.2 L235.3,219.2 L236.0,213.5 L236.6,208.1 L237.3,202.9 L238.0,197.9 L238.7,193.2 L239.4,188.8 L240.2,184.6 L241.1,180.7 L240.9,180.6 L239.5,184.4 L238.0,188.5 L236.7,192.8 L235.4,197.4 L234.3,202.3 L233.2,207.5 L232.3,213.0 L231.5,218.8 L231.0,224.8 L230.6,231.1 L230.3,237.7 L230.0,244.5Z" fill="#33701a"/>
<path d="M226.3,244.6 L226.3,235.5 L226.2,226.9 L226.1,218.8 L226.0,211.3 L225.6,204.2 L225.1,197.6 L224.4,191.6 L223.7,186.0 L222.9,181.0 L222.0,176.5 L221.0,172.5 L220.1,169.0 L219.9,169.0 L220.3,172.6 L220.6,176.7 L220.9,181.2 L221.2,186.3 L221.5,191.8 L221.8,197.8 L222.1,204.4 L222.4,211.4 L222.9,219.0 L223.4,227.0 L223.9,235.6 L224.3,244.6Z" fill="#3a7a16"/>
<path d="M221.5,244.5 L221.4,238.1 L221.2,232.0 L221.0,226.2 L220.7,220.8 L220.1,215.7 L219.3,211.1 L218.4,206.8 L217.3,202.8 L216.1,199.3 L214.9,196.1 L213.5,193.3 L212.1,191.0 L211.9,191.0 L212.7,193.7 L213.3,196.6 L213.8,199.9 L214.4,203.5 L214.9,207.4 L215.4,211.7 L215.9,216.3 L216.5,221.2 L217.2,226.5 L217.9,232.2 L218.5,238.2 L219.0,244.7Z" fill="#448a1a"/>
<path d="M228.0,244.6 L228.0,238.2 L228.0,232.0 L228.0,226.1 L228.0,220.4 L227.8,215.0 L227.4,209.8 L227.0,204.8 L226.6,200.1 L226.1,195.6 L225.5,191.4 L224.9,187.4 L224.3,183.6 L224.2,183.6 L224.4,187.4 L224.5,191.5 L224.5,195.7 L224.6,200.2 L224.7,204.9 L224.9,209.9 L225.0,215.1 L225.2,220.5 L225.6,226.2 L225.9,232.1 L226.2,238.2 L226.5,244.6Z" fill="#54991f"/>
<path d="M232.7,244.6 L233.0,236.1 L233.3,228.2 L233.8,221.0 L234.3,214.4 L234.9,208.4 L235.4,203.1 L236.0,198.5 L236.7,194.4 L237.5,191.0 L238.3,188.2 L239.3,185.9 L240.5,184.2 L240.4,184.1 L238.8,185.5 L237.2,187.6 L235.7,190.4 L234.4,193.8 L233.3,197.9 L232.3,202.7 L231.5,208.1 L231.0,214.1 L230.7,220.8 L230.7,228.1 L230.7,236.0 L230.8,244.6Z" fill="#54991f"/>
<path d="M229.3,244.6 L229.5,235.8 L229.7,227.8 L230.1,220.4 L230.6,213.6 L231.0,207.6 L231.4,202.2 L231.8,197.4 L232.3,193.3 L232.9,189.9 L233.6,187.1 L234.3,184.9 L235.2,183.3 L235.1,183.2 L233.7,184.5 L232.3,186.6 L231.1,189.4 L230.0,192.8 L229.0,197.0 L228.2,201.8 L227.6,207.3 L227.2,213.4 L227.1,220.3 L227.1,227.7 L227.2,235.8 L227.4,244.6Z" fill="#6cb22c"/>
<path d="M235.2,244.8 L236.4,240.2 L237.7,235.8 L239.0,231.6 L240.4,227.8 L241.5,224.1 L242.6,220.6 L243.6,217.3 L244.7,214.3 L245.7,211.5 L246.8,208.8 L247.8,206.4 L249.0,204.2 L248.9,204.1 L247.1,205.9 L245.3,208.0 L243.6,210.4 L242.0,213.0 L240.4,216.0 L238.9,219.2 L237.5,222.7 L236.3,226.5 L235.4,230.6 L234.5,235.0 L233.6,239.6 L232.9,244.4Z" fill="#64ac28"/>
<path d="M215.2,244.6 L215.4,239.7 L215.5,235.1 L215.6,230.6 L215.7,226.4 L215.5,222.4 L215.3,218.6 L215.0,215.0 L214.6,211.6 L214.2,208.5 L213.7,205.5 L213.2,202.8 L212.7,200.3 L212.6,200.3 L212.4,202.9 L212.3,205.6 L212.2,208.6 L212.0,211.7 L212.0,215.1 L211.9,218.7 L211.9,222.5 L212.0,226.5 L212.3,230.7 L212.6,235.1 L212.9,239.8 L213.2,244.6Z" fill="#6cb22c"/>
<path d="M235.1,244.8 L236.4,238.6 L237.8,232.8 L239.2,227.4 L240.7,222.4 L242.0,217.8 L243.2,213.5 L244.4,209.6 L245.6,206.1 L246.9,202.9 L248.2,200.1 L249.5,197.6 L251.0,195.4 L250.9,195.3 L248.8,197.0 L246.7,199.1 L244.7,201.7 L242.8,204.8 L241.0,208.3 L239.3,212.2 L237.8,216.5 L236.4,221.3 L235.4,226.5 L234.4,232.1 L233.5,238.0 L232.6,244.4Z" fill="#64ac28"/>
<path d="M239.9,244.6 L240.1,240.3 L240.4,236.2 L240.6,232.3 L240.9,228.5 L241.0,224.9 L240.9,221.5 L240.9,218.2 L240.8,215.1 L240.6,212.1 L240.5,209.4 L240.3,206.7 L240.1,204.3 L240.0,204.2 L239.6,206.7 L239.1,209.3 L238.7,212.1 L238.3,215.0 L237.9,218.1 L237.7,221.4 L237.4,224.8 L237.4,228.5 L237.5,232.2 L237.6,236.2 L237.8,240.3 L237.9,244.6Z" fill="#54991f"/>
<path d="M226.0,244.5 L225.7,238.0 L225.2,231.7 L224.6,225.7 L223.9,219.9 L222.8,214.5 L221.4,209.3 L219.8,204.5 L218.0,199.9 L216.1,195.7 L213.9,191.8 L211.7,188.3 L209.3,185.0 L209.2,185.1 L210.8,188.7 L212.3,192.6 L213.7,196.7 L215.0,201.0 L216.2,205.6 L217.3,210.4 L218.3,215.4 L219.4,220.7 L220.6,226.3 L221.6,232.1 L222.6,238.3 L223.4,244.7Z" fill="#64ac28"/>
<path d="M227.2,244.6 L227.5,240.4 L227.7,236.4 L228.0,232.4 L228.3,228.7 L228.3,225.0 L228.3,221.5 L228.3,218.1 L228.2,214.9 L228.1,211.8 L227.9,208.8 L227.8,206.0 L227.7,203.3 L227.5,203.3 L227.1,206.0 L226.7,208.8 L226.3,211.7 L225.9,214.8 L225.6,218.0 L225.4,221.4 L225.1,224.9 L225.0,228.6 L225.1,232.4 L225.2,236.3 L225.3,240.4 L225.4,244.6Z" fill="#54991f"/>
<path d="M217.4,244.5 L216.8,236.2 L216.2,228.3 L215.4,220.9 L214.6,213.9 L213.5,207.5 L212.2,201.6 L210.8,196.1 L209.3,191.2 L207.7,186.7 L205.9,182.8 L204.1,179.3 L202.3,176.4 L202.2,176.5 L203.5,179.6 L204.7,183.2 L205.9,187.3 L207.0,191.8 L208.0,196.8 L209.1,202.2 L210.1,208.1 L211.2,214.5 L212.4,221.3 L213.5,228.6 L214.5,236.4 L215.5,244.7Z" fill="#54991f"/>
<path d="M213.1,244.6 L213.2,238.2 L213.3,232.2 L213.3,226.8 L213.3,221.8 L213.1,217.4 L212.8,213.4 L212.4,209.9 L212.0,206.9 L211.4,204.4 L210.9,202.4 L210.3,201.0 L209.7,200.0 L209.6,200.0 L209.6,201.1 L209.5,202.7 L209.4,204.7 L209.4,207.2 L209.4,210.1 L209.4,213.6 L209.4,217.5 L209.6,222.0 L210.0,226.9 L210.4,232.3 L210.7,238.2 L211.1,244.6Z" fill="#64ac28"/>
<path d="M240.9,244.7 L241.7,240.0 L242.7,235.6 L243.7,231.4 L244.9,227.5 L246.0,223.8 L247.1,220.4 L248.3,217.1 L249.6,214.1 L250.9,211.2 L252.4,208.6 L254.0,206.2 L255.7,203.9 L255.6,203.8 L253.4,205.7 L251.3,207.8 L249.3,210.2 L247.4,212.9 L245.7,215.9 L244.1,219.2 L242.7,222.8 L241.5,226.6 L240.7,230.7 L240.0,235.1 L239.4,239.7 L238.9,244.5Z" fill="#64ac28"/>
<path d="M246.4,244.8 L247.6,239.1 L249.0,233.6 L250.7,228.3 L252.7,223.2 L254.6,218.3 L256.7,213.4 L259.0,208.7 L261.5,204.1 L264.3,199.6 L267.3,195.2 L270.6,191.0 L274.2,186.9 L274.1,186.8 L270.0,190.3 L266.0,194.1 L262.3,198.1 L258.9,202.3 L255.8,206.8 L253.0,211.5 L250.5,216.5 L248.4,221.7 L246.9,227.1 L245.6,232.7 L244.6,238.5 L243.9,244.4Z" fill="#5ca424"/>
<path d="M244.5,244.6 L244.5,237.3 L244.8,230.6 L245.4,224.3 L246.2,218.5 L247.1,213.1 L248.2,208.2 L249.5,203.7 L251.0,199.7 L252.7,196.1 L254.7,192.9 L257.0,190.1 L259.6,187.7 L259.5,187.6 L256.6,189.7 L253.9,192.2 L251.4,195.3 L249.2,198.8 L247.3,202.9 L245.7,207.5 L244.3,212.5 L243.4,218.1 L242.9,224.1 L242.6,230.5 L242.6,237.3 L242.9,244.6Z" fill="#64ac28"/>
<path d="M209.1,244.6 L209.2,238.2 L209.1,232.1 L208.8,226.1 L208.4,220.4 L207.6,214.8 L206.5,209.6 L205.3,204.5 L203.8,199.8 L202.1,195.2 L200.3,190.9 L198.2,186.9 L196.1,183.1 L195.9,183.2 L197.7,187.1 L199.2,191.4 L200.6,195.7 L201.8,200.3 L202.9,205.1 L203.8,210.1 L204.6,215.3 L205.4,220.7 L206.1,226.3 L206.7,232.2 L207.1,238.3 L207.4,244.6Z" fill="#54991f"/>
<path d="M243.5,244.7 L244.1,239.8 L244.7,235.1 L245.4,230.7 L246.1,226.7 L246.6,222.8 L247.0,219.3 L247.3,216.0 L247.6,213.0 L247.9,210.2 L248.2,207.7 L248.4,205.4 L248.8,203.3 L248.6,203.3 L247.6,205.1 L246.6,207.2 L245.6,209.6 L244.6,212.3 L243.8,215.4 L243.0,218.7 L242.4,222.3 L241.8,226.2 L241.6,230.3 L241.4,234.8 L241.2,239.5 L241.1,244.5Z" fill="#54991f"/>
<path d="M212.7,244.5 L212.8,240.6 L212.8,236.8 L212.7,233.1 L212.7,229.6 L212.3,226.1 L211.8,222.8 L211.2,219.6 L210.4,216.5 L209.6,213.6 L208.8,210.8 L207.8,208.1 L206.9,205.6 L206.7,205.6 L207.0,208.3 L207.2,211.1 L207.4,214.0 L207.5,217.0 L207.7,220.1 L207.9,223.3 L208.1,226.6 L208.5,230.0 L209.0,233.4 L209.5,237.1 L209.9,240.8 L210.4,244.7Z" fill="#6cb22c"/>
<path d="M245.0,244.7 L246.3,233.8 L248.3,223.9 L251.1,214.7 L254.7,206.4 L258.9,199.0 L263.8,192.2 L269.4,186.3 L275.8,181.0 L277.6,179.1 L279.1,178.4 L280.5,178.4 L282.1,179.4 L283.8,181.6 L285.4,185.0 L285.6,185.0 L284.3,181.4 L282.8,178.8 L281.1,177.1 L278.9,176.5 L276.5,177.3 L274.2,179.0 L267.5,184.2 L261.5,190.4 L256.4,197.4 L252.2,205.2 L248.8,213.9 L246.2,223.3 L244.3,233.6 L243.3,244.5Z" fill="#64ac28"/>
<path d="M218.6,244.5 L218.2,238.5 L217.6,232.8 L216.9,227.4 L216.0,222.3 L214.7,217.5 L213.2,213.2 L211.4,209.2 L209.5,205.6 L207.3,202.3 L205.0,199.5 L202.6,197.0 L200.1,194.9 L199.9,195.1 L201.9,197.6 L203.7,200.4 L205.3,203.5 L206.8,206.9 L208.2,210.6 L209.4,214.5 L210.6,218.7 L211.8,223.3 L213.1,228.1 L214.3,233.3 L215.3,238.8 L216.2,244.7Z" fill="#54991f"/>
<path d="M235.2,244.7 L236.0,234.9 L237.0,225.6 L238.1,216.9 L239.4,208.8 L240.6,201.2 L241.9,194.1 L243.3,187.6 L244.8,181.6 L246.4,176.1 L248.1,171.1 L250.0,166.7 L252.1,162.7 L251.9,162.7 L249.4,166.4 L247.0,170.6 L244.8,175.5 L242.7,180.9 L240.8,187.0 L239.1,193.5 L237.6,200.6 L236.3,208.3 L235.4,216.6 L234.6,225.4 L234.0,234.7 L233.5,244.5Z" fill="#54991f"/>
<path d="M240.4,244.7 L241.7,235.6 L243.7,227.2 L246.4,219.5 L249.9,212.5 L254.1,206.3 L258.9,200.6 L264.4,195.6 L270.9,190.9 L273.9,185.6 L275.8,184.2 L277.9,185.6 L280.5,190.8 L283.1,199.6 L285.4,212.0 L285.6,212.0 L283.6,199.5 L281.5,190.5 L279.1,184.8 L275.9,182.3 L272.2,184.1 L269.1,189.1 L262.6,193.3 L256.7,198.5 L251.6,204.4 L247.4,211.1 L244.0,218.5 L241.4,226.5 L239.7,235.2 L238.7,244.5Z" fill="#5ca424"/>
<path d="M234.8,244.6 L235.3,234.2 L235.8,224.4 L236.4,215.2 L237.1,206.6 L237.6,198.5 L238.0,191.1 L238.5,184.1 L238.9,177.8 L239.4,172.0 L239.9,166.8 L240.4,162.1 L241.1,158.0 L240.9,158.0 L239.7,162.0 L238.5,166.5 L237.3,171.7 L236.3,177.5 L235.4,183.8 L234.5,190.8 L233.8,198.3 L233.3,206.4 L233.0,215.1 L232.8,224.3 L232.7,234.2 L232.7,244.6Z" fill="#64ac28"/>
<path d="M246.0,244.8 L247.6,238.4 L249.4,232.3 L251.5,226.7 L253.8,221.4 L256.2,216.5 L258.8,211.8 L261.6,207.4 L264.7,203.4 L268.0,199.6 L271.7,196.1 L275.7,192.9 L280.0,190.1 L280.0,189.9 L275.2,192.2 L270.7,194.8 L266.5,197.9 L262.5,201.4 L258.8,205.3 L255.5,209.7 L252.5,214.5 L249.9,219.7 L247.9,225.4 L246.2,231.4 L244.8,237.7 L243.7,244.4Z" fill="#5ca424"/>
<path d="M232.1,244.6 L232.5,235.7 L232.9,227.2 L233.3,219.3 L233.8,211.8 L234.2,204.9 L234.4,198.4 L234.7,192.5 L234.9,187.0 L235.2,182.0 L235.4,177.5 L235.7,173.5 L236.1,170.0 L235.9,170.0 L235.1,173.4 L234.2,177.4 L233.4,181.8 L232.6,186.8 L231.9,192.3 L231.4,198.2 L230.9,204.7 L230.5,211.7 L230.4,219.2 L230.3,227.2 L230.3,235.6 L230.3,244.6Z" fill="#64ac28"/>
<path d="M219.7,244.5 L219.3,237.4 L218.9,230.6 L218.3,224.1 L217.7,218.1 L216.7,212.5 L215.5,207.3 L214.1,202.5 L212.5,198.1 L210.9,194.2 L209.0,190.7 L207.1,187.6 L205.1,185.0 L204.9,185.0 L206.5,188.0 L207.8,191.2 L209.1,194.9 L210.3,198.9 L211.4,203.3 L212.4,208.0 L213.3,213.1 L214.3,218.6 L215.3,224.5 L216.2,230.8 L217.1,237.5 L217.8,244.7Z" fill="#6cb22c"/>
<path d="M217.0,244.6 L217.0,238.0 L217.0,231.5 L216.8,225.3 L216.7,219.3 L216.3,213.6 L215.7,208.0 L215.0,202.7 L214.2,197.6 L213.3,192.7 L212.4,188.0 L211.4,183.6 L210.3,179.3 L210.2,179.4 L210.7,183.7 L211.1,188.2 L211.5,192.9 L211.9,197.8 L212.3,203.0 L212.6,208.3 L213.0,213.8 L213.4,219.6 L213.9,225.5 L214.4,231.7 L214.8,238.0 L215.2,244.6Z" fill="#7cc22a"/>
<path d="M213.5,244.5 L212.9,237.7 L212.2,231.4 L211.5,225.5 L210.6,220.1 L209.4,215.3 L208.0,210.9 L206.4,207.1 L204.7,203.7 L202.9,200.9 L200.9,198.7 L198.8,197.0 L196.8,195.8 L196.7,195.9 L198.4,197.5 L199.8,199.5 L201.2,202.0 L202.5,204.8 L203.7,208.1 L204.9,211.9 L206.0,216.2 L207.1,220.9 L208.3,226.1 L209.5,231.8 L210.5,238.0 L211.5,244.7Z" fill="#7cc22a"/>
<path d="M229.6,244.6 L230.1,237.8 L230.9,231.1 L231.9,224.7 L233.1,218.5 L234.3,212.5 L235.7,206.7 L237.3,201.0 L239.1,195.5 L241.1,190.1 L243.3,185.0 L245.7,179.9 L248.5,175.1 L248.3,175.0 L245.1,179.5 L242.0,184.3 L239.1,189.3 L236.6,194.5 L234.3,200.0 L232.3,205.7 L230.6,211.6 L229.3,217.8 L228.5,224.2 L227.9,230.8 L227.5,237.6 L227.5,244.6Z" fill="#72b828"/>
<path d="M217.9,244.6 L217.9,238.7 L217.9,233.0 L217.8,227.6 L217.8,222.5 L217.5,217.7 L217.1,213.1 L216.6,208.7 L216.1,204.7 L215.6,200.9 L214.9,197.4 L214.2,194.1 L213.6,191.1 L213.4,191.1 L213.6,194.2 L213.8,197.5 L213.9,201.0 L214.0,204.9 L214.2,208.9 L214.3,213.2 L214.5,217.8 L214.8,222.7 L215.1,227.8 L215.5,233.1 L215.9,238.7 L216.2,244.6Z" fill="#7abd30"/>
<path d="M227.9,244.6 L228.1,241.1 L228.4,237.7 L228.8,234.4 L229.1,231.2 L229.3,228.2 L229.4,225.3 L229.5,222.5 L229.5,219.8 L229.6,217.3 L229.6,214.8 L229.6,212.5 L229.7,210.3 L229.6,210.3 L229.0,212.4 L228.3,214.6 L227.7,217.0 L227.2,219.6 L226.7,222.2 L226.3,225.0 L226.0,228.0 L225.8,231.0 L225.8,234.2 L225.8,237.6 L225.9,241.0 L226.0,244.6Z" fill="#86c834"/>
<path d="M223.7,244.6 L223.9,239.5 L224.1,234.7 L224.2,230.1 L224.4,225.8 L224.3,221.7 L224.0,217.9 L223.7,214.4 L223.3,211.1 L222.9,208.1 L222.3,205.4 L221.8,202.9 L221.3,200.7 L221.1,200.7 L220.9,203.0 L220.6,205.5 L220.3,208.3 L220.1,211.3 L219.9,214.5 L219.8,218.1 L219.7,221.8 L219.8,225.9 L220.1,230.2 L220.4,234.7 L220.8,239.5 L221.1,244.6Z" fill="#7cc22a"/>
<path d="M216.9,244.6 L216.7,235.2 L216.5,226.4 L216.1,218.4 L215.5,211.0 L214.5,204.3 L213.3,198.3 L211.8,193.0 L210.1,188.4 L208.2,184.6 L206.2,181.4 L203.9,179.1 L201.7,177.5 L201.6,177.6 L203.3,179.7 L204.8,182.3 L206.2,185.5 L207.4,189.4 L208.5,193.9 L209.6,199.1 L210.5,205.0 L211.4,211.5 L212.4,218.7 L213.3,226.7 L214.0,235.3 L214.6,244.6Z" fill="#86c834"/>
<path d="M211.9,244.5 L211.6,238.2 L211.2,232.2 L210.6,226.7 L209.9,221.5 L208.8,216.8 L207.5,212.4 L206.0,208.6 L204.3,205.1 L202.4,202.1 L200.4,199.6 L198.2,197.6 L196.1,196.0 L195.9,196.1 L197.7,198.1 L199.3,200.4 L200.7,203.1 L202.0,206.2 L203.2,209.6 L204.3,213.4 L205.4,217.6 L206.4,222.2 L207.5,227.2 L208.4,232.6 L209.3,238.4 L209.9,244.7Z" fill="#7abd30"/>
<path d="M231.0,244.6 L231.2,236.3 L231.4,228.5 L231.6,221.1 L231.8,214.2 L231.9,207.8 L231.8,201.8 L231.8,196.2 L231.7,191.2 L231.5,186.6 L231.4,182.4 L231.2,178.7 L231.1,175.5 L230.9,175.5 L230.6,178.7 L230.2,182.4 L229.9,186.5 L229.5,191.1 L229.3,196.2 L229.0,201.7 L228.9,207.7 L228.8,214.2 L228.9,221.1 L229.0,228.5 L229.2,236.3 L229.3,244.6Z" fill="#72b828"/>
<path d="M228.3,244.6 L228.5,237.1 L228.7,230.0 L228.9,223.3 L229.1,217.1 L229.1,211.2 L229.1,205.8 L229.0,200.8 L228.8,196.2 L228.7,192.0 L228.5,188.3 L228.2,184.9 L228.1,182.0 L227.9,182.0 L227.6,184.9 L227.2,188.2 L226.9,192.0 L226.6,196.2 L226.3,200.8 L226.1,205.8 L226.0,211.2 L225.9,217.0 L226.1,223.3 L226.2,230.0 L226.3,237.1 L226.5,244.6Z" fill="#86c834"/>
<path d="M221.1,244.5 L220.3,235.4 L219.4,226.7 L218.3,218.6 L216.9,210.9 L215.1,203.7 L212.9,197.1 L210.5,191.0 L207.8,185.5 L204.9,180.5 L201.7,176.1 L198.4,172.3 L194.9,168.9 L194.7,169.1 L197.7,172.8 L200.4,177.0 L202.9,181.7 L205.2,186.8 L207.3,192.3 L209.3,198.3 L211.1,204.8 L212.8,211.8 L214.6,219.2 L216.2,227.2 L217.6,235.7 L218.7,244.7Z" fill="#72b828"/>
<path d="M245.2,244.8 L247.0,236.2 L249.2,228.1 L251.7,220.5 L254.6,213.5 L257.6,206.8 L260.8,200.6 L264.3,194.8 L268.1,189.4 L272.2,184.5 L276.8,179.9 L281.7,175.7 L287.0,172.1 L287.0,171.9 L281.2,175.0 L275.7,178.6 L270.6,182.8 L265.8,187.5 L261.4,192.8 L257.4,198.6 L253.7,204.9 L250.6,211.8 L248.1,219.3 L246.0,227.2 L244.2,235.6 L242.8,244.4Z" fill="#8ecd3c"/>
<path d="M237.5,244.7 L238.8,235.7 L240.4,227.2 L242.2,219.3 L244.3,211.9 L246.4,204.9 L248.6,198.4 L251.0,192.4 L253.6,186.8 L256.4,181.7 L259.5,177.1 L262.8,172.8 L266.5,169.1 L266.3,168.9 L262.2,172.2 L258.3,176.1 L254.6,180.5 L251.2,185.4 L248.0,191.0 L245.1,197.0 L242.6,203.7 L240.4,210.8 L238.7,218.5 L237.3,226.7 L236.1,235.3 L235.2,244.5Z" fill="#7cc22a"/>
<path d="M241.1,244.8 L242.5,239.5 L244.3,234.6 L246.3,230.0 L248.5,225.7 L250.9,221.7 L253.5,217.8 L256.4,214.3 L259.5,210.9 L262.9,207.8 L266.6,205.0 L270.7,202.4 L275.0,200.1 L275.0,199.9 L270.4,201.8 L266.0,204.0 L261.9,206.4 L258.0,209.3 L254.5,212.5 L251.3,216.1 L248.3,220.0 L245.8,224.2 L243.7,228.9 L242.0,233.8 L240.5,239.0 L239.4,244.4Z" fill="#72b828"/>
<path d="M236.8,244.1 L236.3,215.1" stroke="#b2d88a" stroke-width="1.1"/>
<path d="M212.3,244.1 L213.3,212.7" stroke="#9fcf6a" stroke-width="1.5"/>
<path d="M237.9,244.1 L237.3,223.9" stroke="#8cc45a" stroke-width="0.9"/>
<path d="M212.8,244.1 L213.7,227.5" stroke="#8cc45a" stroke-width="1.1"/>
<path d="M231.8,244.1 L233.7,219.2" stroke="#9fcf6a" stroke-width="1.3"/>
<path d="M225.0,244.1 L224.3,219.4" stroke="#7dbb48" stroke-width="1.4"/>
<path d="M216.0,244.1 L218.7,214.4" stroke="#b2d88a" stroke-width="1.5"/>
<path d="M227.9,244.1 L227.7,221.3" stroke="#7dbb48" stroke-width="1.2"/>
<path d="M222.6,244.1 L221.5,215.5" stroke="#7dbb48" stroke-width="1.0"/>
<path d="M215.4,244.1 L212.4,227.0" stroke="#b2d88a" stroke-width="0.9"/>
<path d="M221.0,244.1 L222.1,226.7" stroke="#9fcf6a" stroke-width="0.9"/>
<path d="M229.0,244.1 L228.0,216.5" stroke="#7dbb48" stroke-width="1.5"/>
<path d="M34.1,102.2 L77.5,102.2 L73.8,140.5 Q73.5,144.0 70.0,144.0 L42.0,144.0 Q38.5,144.0 38.2,140.5 Z" fill="url(#potv)"/>
<path d="M34.1,102.2 L77.5,102.2 L73.8,140.5 Q73.5,144.0 70.0,144.0 L42.0,144.0 Q38.5,144.0 38.2,140.5 Z" fill="url(#poth)"/>
<path d="M34.5,106.4 L77.1,106.4" stroke="#4a160a" stroke-width="0.7" opacity="0.7"/>
<path d="M39.1,139.8 Q56.0,140.8 72.9,139.8" stroke="#3e1208" stroke-width="0.9" fill="none"/>
<path d="M31.9,100.0 Q55.8,98.8 79.7,100.0 L78.9,102.6 L32.7,102.6 Z" fill="#2c2624"/>
<text x="54.00" y="128.9" font-family="'Liberation Serif', serif" font-weight="bold" font-size="11" fill="#f6f2ef" text-anchor="middle" textLength="32.6" lengthAdjust="spacingAndGlyphs">Control</text>
<path d="M96.1,102.2 L134.3,102.2 L131.7,138.8 Q131.4,142.3 127.9,142.3 L103.3,142.3 Q99.8,142.3 99.5,138.8 Z" fill="url(#potv)"/>
<path d="M96.1,102.2 L134.3,102.2 L131.7,138.8 Q131.4,142.3 127.9,142.3 L103.3,142.3 Q99.8,142.3 99.5,138.8 Z" fill="url(#poth)"/>
<path d="M96.5,106.4 L133.9,106.4" stroke="#4a160a" stroke-width="0.7" opacity="0.7"/>
<path d="M100.4,138.1 Q115.6,139.1 130.8,138.1" stroke="#3e1208" stroke-width="0.9" fill="none"/>
<path d="M93.9,100.0 Q115.2,98.8 136.5,100.0 L135.7,102.6 L94.7,102.6 Z" fill="#2c2624"/>
<text x="115.05" y="128.0" font-family="'Liberation Serif', serif" font-weight="bold" font-size="10.5" fill="#f6f2ef" text-anchor="middle" textLength="18.7" lengthAdjust="spacingAndGlyphs">Illite</text>
<path d="M158.8,101.7 L196.8,101.7 L193.0,137.7 Q192.7,141.2 189.2,141.2 L163.9,141.2 Q160.4,141.2 160.1,137.7 Z" fill="url(#potv)"/>
<path d="M158.8,101.7 L196.8,101.7 L193.0,137.7 Q192.7,141.2 189.2,141.2 L163.9,141.2 Q160.4,141.2 160.1,137.7 Z" fill="url(#poth)"/>
<path d="M159.2,105.9 L196.4,105.9" stroke="#4a160a" stroke-width="0.7" opacity="0.7"/>
<path d="M161.0,137.0 Q176.6,138.0 192.1,137.0" stroke="#3e1208" stroke-width="0.9" fill="none"/>
<path d="M156.6,99.5 Q177.8,98.3 199.0,99.5 L198.2,102.1 L157.4,102.1 Z" fill="#2c2624"/>
<text x="176.35" y="127.8" font-family="'Liberation Serif', serif" font-weight="bold" font-size="10.5" fill="#f6f2ef" text-anchor="middle" textLength="22.9" lengthAdjust="spacingAndGlyphs">H-2-5</text>
<path d="M213.8,103.5 L251.0,103.5 L250.8,142.3 Q250.5,145.8 247.0,145.8 L219.0,145.8 Q215.5,145.8 215.2,142.3 Z" fill="url(#potv)"/>
<path d="M213.8,103.5 L251.0,103.5 L250.8,142.3 Q250.5,145.8 247.0,145.8 L219.0,145.8 Q215.5,145.8 215.2,142.3 Z" fill="url(#poth)"/>
<path d="M214.2,107.7 L250.6,107.7" stroke="#4a160a" stroke-width="0.7" opacity="0.7"/>
<path d="M216.1,141.6 Q233.0,142.6 249.9,141.6" stroke="#3e1208" stroke-width="0.9" fill="none"/>
<path d="M211.6,101.3 Q232.4,100.1 253.2,101.3 L252.4,103.9 L212.4,103.9 Z" fill="#2c2624"/>
<text x="234.75" y="118.4" font-family="'Liberation Serif', serif" font-weight="bold" font-size="10.5" fill="#f6f2ef" text-anchor="middle" textLength="18.9" lengthAdjust="spacingAndGlyphs">Illite</text>
<text x="234.10" y="126.6" font-family="'Liberation Serif', serif" font-weight="bold" font-size="8" fill="#f6f2ef" text-anchor="middle" textLength="3.2" lengthAdjust="spacingAndGlyphs">+</text>
<text x="234.85" y="137.9" font-family="'Liberation Serif', serif" font-weight="bold" font-size="10.5" fill="#f6f2ef" text-anchor="middle" textLength="22.9" lengthAdjust="spacingAndGlyphs">H-2-5</text>
<path d="M34.6,243.3 L74.0,243.3 L72.1,278.8 Q71.8,282.3 68.3,282.3 L40.3,282.3 Q36.8,282.3 36.5,278.8 Z" fill="url(#potv)"/>
<path d="M34.6,243.3 L74.0,243.3 L72.1,278.8 Q71.8,282.3 68.3,282.3 L40.3,282.3 Q36.8,282.3 36.5,278.8 Z" fill="url(#poth)"/>
<path d="M35.0,247.5 L73.6,247.5" stroke="#4a160a" stroke-width="0.7" opacity="0.7"/>
<path d="M37.4,278.1 Q54.3,279.1 71.2,278.1" stroke="#3e1208" stroke-width="0.9" fill="none"/>
<path d="M32.4,241.1 Q54.3,239.9 76.2,241.1 L75.4,243.7 L33.2,243.7 Z" fill="#2c2624"/>
<text x="53.85" y="268.9" font-family="'Liberation Serif', serif" font-weight="bold" font-size="11" fill="#f6f2ef" text-anchor="middle" textLength="32.5" lengthAdjust="spacingAndGlyphs">Control</text>
<path d="M99.4,244.2 L136.1,244.2 L134.3,278.8 Q134.0,282.3 130.5,282.3 L103.3,282.3 Q99.8,282.3 99.5,278.8 Z" fill="url(#potv)"/>
<path d="M99.4,244.2 L136.1,244.2 L134.3,278.8 Q134.0,282.3 130.5,282.3 L103.3,282.3 Q99.8,282.3 99.5,278.8 Z" fill="url(#poth)"/>
<path d="M99.8,248.4 L135.7,248.4" stroke="#4a160a" stroke-width="0.7" opacity="0.7"/>
<path d="M100.4,278.1 Q116.9,279.1 133.4,278.1" stroke="#3e1208" stroke-width="0.9" fill="none"/>
<path d="M97.2,242.0 Q117.8,240.8 138.3,242.0 L137.5,244.6 L98.0,244.6 Z" fill="#2c2624"/>
<text x="115.35" y="267.8" font-family="'Liberation Serif', serif" font-weight="bold" font-size="10.5" fill="#f6f2ef" text-anchor="middle" textLength="19.3" lengthAdjust="spacingAndGlyphs">Illite</text>
<path d="M157.5,245.1 L192.5,245.1 L191.3,278.8 Q191.0,282.3 187.5,282.3 L161.8,282.3 Q158.3,282.3 158.0,278.8 Z" fill="url(#potv)"/>
<path d="M157.5,245.1 L192.5,245.1 L191.3,278.8 Q191.0,282.3 187.5,282.3 L161.8,282.3 Q158.3,282.3 158.0,278.8 Z" fill="url(#poth)"/>
<path d="M157.9,249.3 L192.1,249.3" stroke="#4a160a" stroke-width="0.7" opacity="0.7"/>
<path d="M158.9,278.1 Q174.7,279.1 190.4,278.1" stroke="#3e1208" stroke-width="0.9" fill="none"/>
<path d="M155.3,242.9 Q175.0,241.7 194.7,242.9 L193.9,245.5 L156.1,245.5 Z" fill="#2c2624"/>
<text x="176.45" y="268.7" font-family="'Liberation Serif', serif" font-weight="bold" font-size="10.5" fill="#f6f2ef" text-anchor="middle" textLength="23.5" lengthAdjust="spacingAndGlyphs">H-2-5</text>
<path d="M208.2,245.9 L245.9,245.9 L243.8,281.2 Q243.5,284.7 240.0,284.7 L212.5,284.7 Q209.0,284.7 208.7,281.2 Z" fill="url(#potv)"/>
<path d="M208.2,245.9 L245.9,245.9 L243.8,281.2 Q243.5,284.7 240.0,284.7 L212.5,284.7 Q209.0,284.7 208.7,281.2 Z" fill="url(#poth)"/>
<path d="M208.6,250.1 L245.5,250.1" stroke="#4a160a" stroke-width="0.7" opacity="0.7"/>
<path d="M209.6,280.5 Q226.2,281.5 242.9,280.5" stroke="#3e1208" stroke-width="0.9" fill="none"/>
<path d="M206.0,243.7 Q227.1,242.5 248.1,243.7 L247.3,246.3 L206.8,246.3 Z" fill="#2c2624"/>
<text x="228.25" y="258.8" font-family="'Liberation Serif', serif" font-weight="bold" font-size="10.5" fill="#f6f2ef" text-anchor="middle" textLength="19.5" lengthAdjust="spacingAndGlyphs">Illite</text>
<text x="228.15" y="267.0" font-family="'Liberation Serif', serif" font-weight="bold" font-size="8" fill="#f6f2ef" text-anchor="middle" textLength="3.2" lengthAdjust="spacingAndGlyphs">+</text>
<text x="228.30" y="278.2" font-family="'Liberation Serif', serif" font-weight="bold" font-size="10.5" fill="#f6f2ef" text-anchor="middle" textLength="24.4" lengthAdjust="spacingAndGlyphs">H-2-5</text>
<path d="M87.5,237.5 L86.1,238.8 L84.8,240.3 L83.8,242.0 L83.1,243.8 L82.8,245.8 L82.8,247.9 L83.1,250.1 L83.7,252.3 L84.5,254.6 L85.4,257.0 L85.6,257.0 L85.1,254.5 L84.8,252.1 L84.8,250.0 L84.9,248.0 L85.2,246.2 L85.6,244.5 L86.1,242.9 L86.6,241.4 L87.5,239.9 L88.5,238.5Z" fill="#72b828"/>
<path d="M194.5,238.5 L195.2,239.4 L195.7,240.6 L196.2,242.1 L196.7,244.0 L197.3,246.2 L198.0,248.8 L198.5,251.8 L199.1,255.2 L199.6,258.9 L199.9,263.0 L200.1,263.0 L200.2,258.9 L200.2,255.1 L200.2,251.6 L200.0,248.5 L199.7,245.8 L199.2,243.3 L198.5,241.3 L197.6,239.6 L196.6,238.3 L195.5,237.5Z" fill="#7abd30"/>
<path d="M167.3,98.5 L166.5,99.4 L165.7,100.4 L164.9,101.3 L164.2,102.3 L163.8,103.4 L163.5,104.5 L163.2,105.6 L163.1,106.8 L163.0,107.9 L162.9,109.0 L163.1,109.0 L163.7,108.1 L164.3,107.2 L164.9,106.4 L165.6,105.5 L166.2,104.6 L166.8,103.7 L167.3,102.7 L167.7,101.6 L168.2,100.6 L168.7,99.5Z" fill="#448a1a"/>
<path d="M217.2,99.6 L216.5,100.5 L215.9,101.5 L215.3,102.5 L214.8,103.5 L214.6,104.6 L214.5,105.7 L214.5,106.8 L214.6,107.9 L214.7,108.9 L214.9,110.0 L215.1,110.0 L215.5,109.1 L216.0,108.1 L216.5,107.2 L216.9,106.3 L217.4,105.4 L217.8,104.5 L218.1,103.5 L218.3,102.5 L218.5,101.5 L218.8,100.4Z" fill="#86c834"/>
<text x="7.9" y="19.6" font-family="'Liberation Serif', serif" font-weight="bold" font-size="14.5" fill="#f2f2f2" textLength="62.8" lengthAdjust="spacingAndGlyphs">None Stress</text>
<text x="8.5" y="165.1" font-family="'Liberation Serif', serif" font-weight="bold" font-size="14.2" fill="#f2f2f2" textLength="76.3" lengthAdjust="spacingAndGlyphs">Salinity Stress</text>
<text x="255" y="19.7" font-family="'Liberation Serif', serif" font-size="15" fill="#eeeeee" textLength="20.7" lengthAdjust="spacingAndGlyphs">(A)</text>
<text x="297.4" y="15.3" font-family="'Liberation Serif', serif" font-size="15" fill="#111">(B)</text>
<rect x="326.4" y="19.549999999999997" width="10.200000000000045" height="3.2" fill="#ffffff" stroke="#444444" stroke-width="0.8"/>
<text x="342.3" y="23.75" font-family="'Liberation Serif', serif" font-size="7.6" fill="#1c1c1c" textLength="20.69999999999999" lengthAdjust="spacingAndGlyphs">Control</text>
<rect x="366.2" y="19.549999999999997" width="10.400000000000034" height="3.2" fill="#d4d4d4" stroke="#444444" stroke-width="0.8"/>
<text x="382" y="23.75" font-family="'Liberation Serif', serif" font-size="7.6" fill="#1c1c1c" textLength="12" lengthAdjust="spacingAndGlyphs">Illite</text>
<rect x="396.5" y="19.549999999999997" width="10.5" height="3.2" fill="#606060" stroke="#444444" stroke-width="0.8"/>
<text x="413" y="23.75" font-family="'Liberation Serif', serif" font-size="7.6" fill="#1c1c1c" textLength="16" lengthAdjust="spacingAndGlyphs">H-2-5</text>
<rect x="432.7" y="19.549999999999997" width="9.900000000000034" height="3.2" fill="#000000" stroke="#444444" stroke-width="0.8"/>
<text x="448.7" y="23.75" font-family="'Liberation Serif', serif" font-size="7.6" fill="#1c1c1c" textLength="31.69999999999999" lengthAdjust="spacingAndGlyphs">Illite+H-2-5</text>
<rect x="334.40" y="58.55" width="13.00" height="80.95" fill="#ffffff" stroke="#444444" stroke-width="0.9"/>
<path d="M340.90,55.59 V61.50 M338.90,55.59 H342.90 M338.90,61.50 H342.90" stroke="#222" stroke-width="0.8" fill="none"/>
<text x="340.90" y="54.59" font-family="'Liberation Serif', serif" font-weight="bold" font-size="7.6" fill="#111" text-anchor="middle">d</text>
<rect x="350.70" y="51.72" width="13.00" height="87.78" fill="#d4d4d4" stroke="#444444" stroke-width="0.9"/>
<path d="M357.20,48.54 V54.91 M355.20,48.54 H359.20 M355.20,54.91 H359.20" stroke="#222" stroke-width="0.8" fill="none"/>
<text x="357.20" y="47.54" font-family="'Liberation Serif', serif" font-weight="bold" font-size="7.6" fill="#111" text-anchor="middle">bc</text>
<rect x="367.00" y="48.09" width="13.00" height="91.41" fill="#606060" stroke="#444444" stroke-width="0.9"/>
<path d="M373.50,43.54 V52.63 M371.50,43.54 H375.50 M371.50,52.63 H375.50" stroke="#222" stroke-width="0.8" fill="none"/>
<text x="373.50" y="42.54" font-family="'Liberation Serif', serif" font-weight="bold" font-size="7.6" fill="#111" text-anchor="middle">ab</text>
<rect x="383.30" y="44.90" width="13.00" height="94.60" fill="#000000" stroke="#444444" stroke-width="0.9"/>
<path d="M389.80,43.54 V46.27 M387.80,43.54 H391.80 M387.80,46.27 H391.80" stroke="#555" stroke-width="0.8" fill="none"/>
<text x="389.80" y="42.54" font-family="'Liberation Serif', serif" font-weight="bold" font-size="7.6" fill="#111" text-anchor="middle">a</text>
<rect x="409.20" y="77.19" width="13.00" height="62.31" fill="#ffffff" stroke="#444444" stroke-width="0.9"/>
<path d="M415.70,75.15 V79.24 M413.70,75.15 H417.70 M413.70,79.24 H417.70" stroke="#222" stroke-width="0.8" fill="none"/>
<text x="415.70" y="74.15" font-family="'Liberation Serif', serif" font-weight="bold" font-size="7.6" fill="#111" text-anchor="middle">e</text>
<rect x="425.50" y="62.87" width="13.00" height="76.63" fill="#d4d4d4" stroke="#444444" stroke-width="0.9"/>
<path d="M432.00,58.55 V67.19 M430.00,58.55 H434.00 M430.00,67.19 H434.00" stroke="#222" stroke-width="0.8" fill="none"/>
<text x="432.00" y="57.55" font-family="'Liberation Serif', serif" font-weight="bold" font-size="7.6" fill="#111" text-anchor="middle">d</text>
<rect x="441.80" y="53.54" width="13.00" height="85.96" fill="#606060" stroke="#444444" stroke-width="0.9"/>
<path d="M448.30,51.50 V55.59 M446.30,51.50 H450.30 M446.30,55.59 H450.30" stroke="#222" stroke-width="0.8" fill="none"/>
<text x="448.30" y="50.50" font-family="'Liberation Serif', serif" font-weight="bold" font-size="7.6" fill="#111" text-anchor="middle">c</text>
<rect x="458.10" y="49.45" width="13.00" height="90.05" fill="#000000" stroke="#444444" stroke-width="0.9"/>
<path d="M464.60,44.45 V54.45 M462.60,44.45 H466.60 M462.60,54.45 H466.60" stroke="#555" stroke-width="0.8" fill="none"/>
<text x="464.60" y="43.45" font-family="'Liberation Serif', serif" font-weight="bold" font-size="7.6" fill="#111" text-anchor="middle">ab</text>
<path d="M327.3,25.8 V139.5 H478.9" stroke="#222" stroke-width="1.2" fill="none"/>
<path d="M323.3,139.50 H327.3" stroke="#222" stroke-width="1"/>
<text x="322.0" y="142.50" font-family="'Liberation Serif', serif" font-size="7.3" fill="#2a2a2a" text-anchor="end">0</text>
<path d="M323.3,116.76 H327.3" stroke="#222" stroke-width="1"/>
<text x="322.0" y="119.76" font-family="'Liberation Serif', serif" font-size="7.3" fill="#2a2a2a" text-anchor="end">5</text>
<path d="M323.3,94.02 H327.3" stroke="#222" stroke-width="1"/>
<text x="322.0" y="97.02" font-family="'Liberation Serif', serif" font-size="7.3" fill="#2a2a2a" text-anchor="end">10</text>
<path d="M323.3,71.28 H327.3" stroke="#222" stroke-width="1"/>
<text x="322.0" y="74.28" font-family="'Liberation Serif', serif" font-size="7.3" fill="#2a2a2a" text-anchor="end">15</text>
<path d="M323.3,48.54 H327.3" stroke="#222" stroke-width="1"/>
<text x="322.0" y="51.54" font-family="'Liberation Serif', serif" font-size="7.3" fill="#2a2a2a" text-anchor="end">20</text>
<path d="M323.3,25.80 H327.3" stroke="#222" stroke-width="1"/>
<text x="322.0" y="28.80" font-family="'Liberation Serif', serif" font-size="7.3" fill="#2a2a2a" text-anchor="end">25</text>
<path d="M365.35,139.5 V142.90" stroke="#222" stroke-width="0.9"/>
<path d="M440.15,139.5 V142.90" stroke="#222" stroke-width="0.9"/>
<text x="343.1" y="151.6" font-family="'Liberation Serif', serif" font-weight="bold" font-size="9.5" fill="#111" textLength="44.599999999999966" lengthAdjust="spacingAndGlyphs">None stress</text>
<text x="413" y="151.6" font-family="'Liberation Serif', serif" font-weight="bold" font-size="9.5" fill="#111" textLength="54.10000000000002" lengthAdjust="spacingAndGlyphs">Salinity stress</text>
<text x="310.8" y="83.1" font-family="'Liberation Serif', serif" font-weight="bold" font-size="9.2" fill="#111" text-anchor="middle" transform="rotate(-90 310.8 83.1)" textLength="67.6" lengthAdjust="spacingAndGlyphs">Shoot length (cm)</text>
<text x="491.8" y="18" font-family="'Liberation Serif', serif" font-size="15" fill="#111">(D)</text>
<rect x="522.4" y="19.7" width="10.600000000000023" height="3.2" fill="#ffffff" stroke="#444444" stroke-width="0.8"/>
<text x="538.6" y="23.90" font-family="'Liberation Serif', serif" font-size="7.6" fill="#1c1c1c" textLength="20.600000000000023" lengthAdjust="spacingAndGlyphs">Control</text>
<rect x="561.6" y="19.7" width="11.0" height="3.2" fill="#d4d4d4" stroke="#444444" stroke-width="0.8"/>
<text x="578.3" y="23.90" font-family="'Liberation Serif', serif" font-size="7.6" fill="#1c1c1c" textLength="11.700000000000045" lengthAdjust="spacingAndGlyphs">Illite</text>
<rect x="593.2" y="19.7" width="9.799999999999955" height="3.2" fill="#606060" stroke="#444444" stroke-width="0.8"/>
<text x="608.8" y="23.90" font-family="'Liberation Serif', serif" font-size="7.6" fill="#1c1c1c" textLength="17.40000000000009" lengthAdjust="spacingAndGlyphs">H-2-5</text>
<rect x="629.1" y="19.7" width="9.899999999999977" height="3.2" fill="#000000" stroke="#444444" stroke-width="0.8"/>
<text x="644.5" y="23.90" font-family="'Liberation Serif', serif" font-size="7.6" fill="#1c1c1c" textLength="33.0" lengthAdjust="spacingAndGlyphs">Illite+H-2-5</text>
<rect x="526.15" y="64.91" width="13.10" height="74.59" fill="#ffffff" stroke="#444444" stroke-width="0.9"/>
<path d="M532.70,60.36 V69.46 M530.70,60.36 H534.70 M530.70,69.46 H534.70" stroke="#222" stroke-width="0.8" fill="none"/>
<text x="532.70" y="59.36" font-family="'Liberation Serif', serif" font-weight="bold" font-size="7.6" fill="#111" text-anchor="middle">c</text>
<rect x="542.45" y="63.32" width="13.10" height="76.18" fill="#d4d4d4" stroke="#444444" stroke-width="0.9"/>
<path d="M549.00,60.36 V66.28 M547.00,60.36 H551.00 M547.00,66.28 H551.00" stroke="#222" stroke-width="0.8" fill="none"/>
<text x="549.00" y="59.36" font-family="'Liberation Serif', serif" font-weight="bold" font-size="7.6" fill="#111" text-anchor="middle">bc</text>
<rect x="558.75" y="57.18" width="13.10" height="82.32" fill="#606060" stroke="#444444" stroke-width="0.9"/>
<path d="M565.30,50.36 V64.00 M563.30,50.36 H567.30 M563.30,64.00 H567.30" stroke="#222" stroke-width="0.8" fill="none"/>
<text x="565.30" y="49.36" font-family="'Liberation Serif', serif" font-weight="bold" font-size="7.6" fill="#111" text-anchor="middle">ab</text>
<rect x="575.05" y="54.91" width="13.10" height="84.59" fill="#000000" stroke="#444444" stroke-width="0.9"/>
<path d="M581.60,48.54 V61.27 M579.60,48.54 H583.60 M579.60,61.27 H583.60" stroke="#333" stroke-width="0.8" fill="none"/>
<text x="581.60" y="47.54" font-family="'Liberation Serif', serif" font-weight="bold" font-size="7.6" fill="#111" text-anchor="middle">a</text>
<rect x="601.65" y="79.47" width="13.10" height="60.03" fill="#ffffff" stroke="#444444" stroke-width="0.9"/>
<path d="M608.20,75.60 V83.33 M606.20,75.60 H610.20 M606.20,83.33 H610.20" stroke="#222" stroke-width="0.8" fill="none"/>
<text x="608.20" y="74.60" font-family="'Liberation Serif', serif" font-weight="bold" font-size="7.6" fill="#111" text-anchor="middle">d</text>
<rect x="617.95" y="67.64" width="13.10" height="71.86" fill="#d4d4d4" stroke="#444444" stroke-width="0.9"/>
<path d="M624.50,64.46 V70.83 M622.50,64.46 H626.50 M622.50,70.83 H626.50" stroke="#222" stroke-width="0.8" fill="none"/>
<text x="624.50" y="63.46" font-family="'Liberation Serif', serif" font-weight="bold" font-size="7.6" fill="#111" text-anchor="middle">c</text>
<rect x="634.25" y="66.73" width="13.10" height="72.77" fill="#606060" stroke="#444444" stroke-width="0.9"/>
<path d="M640.80,60.82 V72.64 M638.80,60.82 H642.80 M638.80,72.64 H642.80" stroke="#222" stroke-width="0.8" fill="none"/>
<text x="640.80" y="59.82" font-family="'Liberation Serif', serif" font-weight="bold" font-size="7.6" fill="#111" text-anchor="middle">c</text>
<rect x="650.55" y="54.91" width="13.10" height="84.59" fill="#000000" stroke="#444444" stroke-width="0.9"/>
<path d="M657.10,48.09 V61.73 M655.10,48.09 H659.10 M655.10,61.73 H659.10" stroke="#333" stroke-width="0.8" fill="none"/>
<text x="657.10" y="47.09" font-family="'Liberation Serif', serif" font-weight="bold" font-size="7.6" fill="#111" text-anchor="middle">a</text>
<path d="M519.5,25.8 V139.5 H670.7" stroke="#222" stroke-width="1.2" fill="none"/>
<path d="M515.5,139.50 H519.5" stroke="#222" stroke-width="1"/>
<text x="514.2" y="142.50" font-family="'Liberation Serif', serif" font-size="7.3" fill="#2a2a2a" text-anchor="end">0</text>
<path d="M515.5,116.76 H519.5" stroke="#222" stroke-width="1"/>
<text x="514.2" y="119.76" font-family="'Liberation Serif', serif" font-size="7.3" fill="#2a2a2a" text-anchor="end">5</text>
<path d="M515.5,94.02 H519.5" stroke="#222" stroke-width="1"/>
<text x="514.2" y="97.02" font-family="'Liberation Serif', serif" font-size="7.3" fill="#2a2a2a" text-anchor="end">10</text>
<path d="M515.5,71.28 H519.5" stroke="#222" stroke-width="1"/>
<text x="514.2" y="74.28" font-family="'Liberation Serif', serif" font-size="7.3" fill="#2a2a2a" text-anchor="end">15</text>
<path d="M515.5,48.54 H519.5" stroke="#222" stroke-width="1"/>
<text x="514.2" y="51.54" font-family="'Liberation Serif', serif" font-size="7.3" fill="#2a2a2a" text-anchor="end">20</text>
<path d="M515.5,25.80 H519.5" stroke="#222" stroke-width="1"/>
<text x="514.2" y="28.80" font-family="'Liberation Serif', serif" font-size="7.3" fill="#2a2a2a" text-anchor="end">25</text>
<path d="M557.15,139.5 V142.90" stroke="#222" stroke-width="0.9"/>
<path d="M632.65,139.5 V142.90" stroke="#222" stroke-width="0.9"/>
<text x="535.1" y="151.6" font-family="'Liberation Serif', serif" font-weight="bold" font-size="9.5" fill="#111" textLength="44.60000000000002" lengthAdjust="spacingAndGlyphs">None stress</text>
<text x="605.2" y="151.6" font-family="'Liberation Serif', serif" font-weight="bold" font-size="9.5" fill="#111" textLength="54.0" lengthAdjust="spacingAndGlyphs">Salinity stress</text>
<text x="503.1" y="84.9" font-family="'Liberation Serif', serif" font-weight="bold" font-size="9.2" fill="#111" text-anchor="middle" transform="rotate(-90 503.1 84.9)" textLength="71.3" lengthAdjust="spacingAndGlyphs">Root length  (cm)</text>
<text x="297.1" y="175" font-family="'Liberation Serif', serif" font-size="15" fill="#111">(C)</text>
<rect x="329.4" y="177.65" width="10.600000000000023" height="3.2" fill="#ffffff" stroke="#444444" stroke-width="0.8"/>
<text x="345.5" y="181.85" font-family="'Liberation Serif', serif" font-size="7.6" fill="#1c1c1c" textLength="20.30000000000001" lengthAdjust="spacingAndGlyphs">Control</text>
<rect x="369.1" y="177.65" width="10.5" height="3.2" fill="#d4d4d4" stroke="#444444" stroke-width="0.8"/>
<text x="385" y="181.85" font-family="'Liberation Serif', serif" font-size="7.6" fill="#1c1c1c" textLength="11.300000000000011" lengthAdjust="spacingAndGlyphs">Illite</text>
<rect x="398.3" y="177.65" width="11.199999999999989" height="3.2" fill="#606060" stroke="#444444" stroke-width="0.8"/>
<text x="415.5" y="181.85" font-family="'Liberation Serif', serif" font-size="7.6" fill="#1c1c1c" textLength="15.100000000000023" lengthAdjust="spacingAndGlyphs">H-2-5</text>
<rect x="434" y="177.65" width="11.100000000000023" height="3.2" fill="#000000" stroke="#444444" stroke-width="0.8"/>
<text x="449.6" y="181.85" font-family="'Liberation Serif', serif" font-size="7.6" fill="#1c1c1c" textLength="32.69999999999999" lengthAdjust="spacingAndGlyphs">Illite+H-2-5</text>
<rect x="334.60" y="228.97" width="12.90" height="67.33" fill="#ffffff" stroke="#444444" stroke-width="0.9"/>
<path d="M341.05,221.35 V236.59 M339.05,221.35 H343.05 M339.05,236.59 H343.05" stroke="#222" stroke-width="0.8" fill="none"/>
<text x="341.05" y="220.35" font-family="'Liberation Serif', serif" font-weight="bold" font-size="7.6" fill="#111" text-anchor="middle">cd</text>
<rect x="350.80" y="222.40" width="12.90" height="73.90" fill="#d4d4d4" stroke="#444444" stroke-width="0.9"/>
<path d="M357.25,217.12 V227.68 M355.25,217.12 H359.25 M355.25,227.68 H359.25" stroke="#222" stroke-width="0.8" fill="none"/>
<text x="357.25" y="216.12" font-family="'Liberation Serif', serif" font-weight="bold" font-size="7.6" fill="#111" text-anchor="middle">bc</text>
<rect x="367.00" y="218.53" width="12.90" height="77.77" fill="#606060" stroke="#444444" stroke-width="0.9"/>
<path d="M373.45,215.25 V221.81 M371.45,215.25 H375.45 M371.45,221.81 H375.45" stroke="#222" stroke-width="0.8" fill="none"/>
<text x="373.45" y="214.25" font-family="'Liberation Serif', serif" font-weight="bold" font-size="7.6" fill="#111" text-anchor="middle">b</text>
<rect x="383.20" y="209.50" width="12.90" height="86.80" fill="#000000" stroke="#444444" stroke-width="0.9"/>
<path d="M389.65,202.46 V216.54 M387.65,202.46 H391.65 M387.65,216.54 H391.65" stroke="#666" stroke-width="0.8" fill="none"/>
<text x="389.65" y="201.46" font-family="'Liberation Serif', serif" font-weight="bold" font-size="7.6" fill="#111" text-anchor="middle">a</text>
<rect x="408.55" y="250.55" width="12.90" height="45.75" fill="#ffffff" stroke="#444444" stroke-width="0.9"/>
<path d="M415.00,246.68 V254.42 M413.00,246.68 H417.00 M413.00,254.42 H417.00" stroke="#222" stroke-width="0.8" fill="none"/>
<text x="415.00" y="245.68" font-family="'Liberation Serif', serif" font-weight="bold" font-size="7.6" fill="#111" text-anchor="middle">e</text>
<rect x="424.75" y="229.09" width="12.90" height="67.21" fill="#d4d4d4" stroke="#444444" stroke-width="0.9"/>
<path d="M431.20,223.22 V234.95 M429.20,223.22 H433.20 M429.20,234.95 H433.20" stroke="#222" stroke-width="0.8" fill="none"/>
<text x="431.20" y="222.22" font-family="'Liberation Serif', serif" font-weight="bold" font-size="7.6" fill="#111" text-anchor="middle">cd</text>
<rect x="440.95" y="233.31" width="12.90" height="62.99" fill="#606060" stroke="#444444" stroke-width="0.9"/>
<path d="M447.40,226.62 V240.00 M445.40,226.62 H449.40 M445.40,240.00 H449.40" stroke="#222" stroke-width="0.8" fill="none"/>
<text x="447.40" y="225.62" font-family="'Liberation Serif', serif" font-weight="bold" font-size="7.6" fill="#111" text-anchor="middle">d</text>
<rect x="457.15" y="223.22" width="12.90" height="73.08" fill="#000000" stroke="#444444" stroke-width="0.9"/>
<path d="M463.60,218.88 V227.56 M461.60,218.88 H465.60 M461.60,227.56 H465.60" stroke="#666" stroke-width="0.8" fill="none"/>
<text x="463.60" y="217.88" font-family="'Liberation Serif', serif" font-weight="bold" font-size="7.6" fill="#111" text-anchor="middle">bc</text>
<path d="M327.3,179 V296.3 H477.4" stroke="#222" stroke-width="1.2" fill="none"/>
<path d="M323.3,296.30 H327.3" stroke="#222" stroke-width="1"/>
<text x="322.0" y="298.70" font-family="'Liberation Serif', serif" font-size="6.9" fill="#2a2a2a" text-anchor="end">0.0</text>
<path d="M323.3,272.84 H327.3" stroke="#222" stroke-width="1"/>
<text x="322.0" y="275.24" font-family="'Liberation Serif', serif" font-size="6.9" fill="#2a2a2a" text-anchor="end">0.2</text>
<path d="M323.3,249.38 H327.3" stroke="#222" stroke-width="1"/>
<text x="322.0" y="251.78" font-family="'Liberation Serif', serif" font-size="6.9" fill="#2a2a2a" text-anchor="end">0.4</text>
<path d="M323.3,225.92 H327.3" stroke="#222" stroke-width="1"/>
<text x="322.0" y="228.32" font-family="'Liberation Serif', serif" font-size="6.9" fill="#2a2a2a" text-anchor="end">0.6</text>
<path d="M323.3,202.46 H327.3" stroke="#222" stroke-width="1"/>
<text x="322.0" y="204.86" font-family="'Liberation Serif', serif" font-size="6.9" fill="#2a2a2a" text-anchor="end">0.8</text>
<path d="M323.3,179.00 H327.3" stroke="#222" stroke-width="1"/>
<text x="322.0" y="181.40" font-family="'Liberation Serif', serif" font-size="6.9" fill="#2a2a2a" text-anchor="end">1.0</text>
<path d="M365.35,296.3 V299.70" stroke="#222" stroke-width="0.9"/>
<path d="M439.30,296.3 V299.70" stroke="#222" stroke-width="0.9"/>
<text x="343.7" y="308.6" font-family="'Liberation Serif', serif" font-weight="bold" font-size="9.5" fill="#111" textLength="43.69999999999999" lengthAdjust="spacingAndGlyphs">None stress</text>
<text x="412.6" y="308.6" font-family="'Liberation Serif', serif" font-weight="bold" font-size="9.5" fill="#111" textLength="53.69999999999999" lengthAdjust="spacingAndGlyphs">Salinity stress</text>
<text x="309.2" y="238" font-family="'Liberation Serif', serif" font-weight="bold" font-size="9.2" fill="#111" text-anchor="middle" transform="rotate(-90 309.2 238)" textLength="90.7" lengthAdjust="spacingAndGlyphs">Shoot fresh weight  (g)</text>
<text x="491.8" y="174.6" font-family="'Liberation Serif', serif" font-size="15" fill="#111">(E)</text>
<rect x="528.4" y="174.75" width="10.399999999999977" height="3.2" fill="#ffffff" stroke="#444444" stroke-width="0.8"/>
<text x="544.1" y="178.95" font-family="'Liberation Serif', serif" font-size="7.6" fill="#1c1c1c" textLength="20.5" lengthAdjust="spacingAndGlyphs">Control</text>
<rect x="567.7" y="174.75" width="10.599999999999909" height="3.2" fill="#d4d4d4" stroke="#444444" stroke-width="0.8"/>
<text x="583.9" y="178.95" font-family="'Liberation Serif', serif" font-size="7.6" fill="#1c1c1c" textLength="12.0" lengthAdjust="spacingAndGlyphs">Illite</text>
<rect x="598.3" y="174.75" width="10.900000000000091" height="3.2" fill="#606060" stroke="#444444" stroke-width="0.8"/>
<text x="614" y="178.95" font-family="'Liberation Serif', serif" font-size="7.6" fill="#1c1c1c" textLength="16.799999999999955" lengthAdjust="spacingAndGlyphs">H-2-5</text>
<rect x="634" y="174.75" width="10.100000000000023" height="3.2" fill="#000000" stroke="#444444" stroke-width="0.8"/>
<text x="650.1" y="178.95" font-family="'Liberation Serif', serif" font-size="7.6" fill="#1c1c1c" textLength="30.899999999999977" lengthAdjust="spacingAndGlyphs">Illite+H-2-5</text>
<rect x="533.25" y="211.77" width="12.70" height="83.43" fill="#ffffff" stroke="#444444" stroke-width="0.9"/>
<path d="M539.60,204.04 V219.51 M537.60,204.04 H541.60 M537.60,219.51 H541.60" stroke="#222" stroke-width="0.8" fill="none"/>
<text x="539.60" y="203.04" font-family="'Liberation Serif', serif" font-weight="bold" font-size="7.6" fill="#111" text-anchor="middle">cd</text>
<rect x="549.32" y="204.96" width="12.70" height="90.24" fill="#d4d4d4" stroke="#444444" stroke-width="0.9"/>
<path d="M555.67,199.99 V209.93 M553.67,199.99 H557.67 M553.67,209.93 H557.67" stroke="#222" stroke-width="0.8" fill="none"/>
<text x="555.67" y="198.99" font-family="'Liberation Serif', serif" font-weight="bold" font-size="7.6" fill="#111" text-anchor="middle">bc</text>
<rect x="565.39" y="199.62" width="12.70" height="95.58" fill="#606060" stroke="#444444" stroke-width="0.9"/>
<path d="M571.74,193.17 V206.06 M569.74,193.17 H573.74 M569.74,206.06 H573.74" stroke="#222" stroke-width="0.8" fill="none"/>
<text x="571.74" y="192.17" font-family="'Liberation Serif', serif" font-weight="bold" font-size="7.6" fill="#111" text-anchor="middle">ab</text>
<rect x="581.46" y="194.28" width="12.70" height="100.92" fill="#000000" stroke="#444444" stroke-width="0.9"/>
<path d="M587.81,188.38 V200.17 M585.81,188.38 H589.81 M585.81,200.17 H589.81" stroke="#b0b0b0" stroke-width="0.8" fill="none"/>
<text x="587.81" y="187.38" font-family="'Liberation Serif', serif" font-weight="bold" font-size="7.6" fill="#111" text-anchor="middle">a</text>
<rect x="607.45" y="231.66" width="12.70" height="63.54" fill="#ffffff" stroke="#444444" stroke-width="0.9"/>
<path d="M613.80,226.51 V236.82 M611.80,226.51 H615.80 M611.80,236.82 H615.80" stroke="#222" stroke-width="0.8" fill="none"/>
<text x="613.80" y="225.51" font-family="'Liberation Serif', serif" font-weight="bold" font-size="7.6" fill="#111" text-anchor="middle">e</text>
<rect x="623.52" y="217.85" width="12.70" height="77.35" fill="#d4d4d4" stroke="#444444" stroke-width="0.9"/>
<path d="M629.87,213.61 V222.09 M627.87,213.61 H631.87 M627.87,222.09 H631.87" stroke="#222" stroke-width="0.8" fill="none"/>
<text x="629.87" y="212.61" font-family="'Liberation Serif', serif" font-weight="bold" font-size="7.6" fill="#111" text-anchor="middle">d</text>
<rect x="639.59" y="217.85" width="12.70" height="77.35" fill="#606060" stroke="#444444" stroke-width="0.9"/>
<path d="M645.94,216.01 V219.69 M643.94,216.01 H647.94 M643.94,219.69 H647.94" stroke="#222" stroke-width="0.8" fill="none"/>
<text x="645.94" y="215.01" font-family="'Liberation Serif', serif" font-weight="bold" font-size="7.6" fill="#111" text-anchor="middle">d</text>
<rect x="655.66" y="212.88" width="12.70" height="82.32" fill="#000000" stroke="#444444" stroke-width="0.9"/>
<path d="M662.01,207.17 V218.59 M660.01,207.17 H664.01 M660.01,218.59 H664.01" stroke="#b0b0b0" stroke-width="0.8" fill="none"/>
<text x="662.01" y="206.17" font-family="'Liberation Serif', serif" font-weight="bold" font-size="7.6" fill="#111" text-anchor="middle">cd</text>
<path d="M525.8,184.7 V295.2 H675.6" stroke="#222" stroke-width="1.2" fill="none"/>
<path d="M521.8,295.20 H525.8" stroke="#222" stroke-width="1"/>
<text x="520.5" y="297.60" font-family="'Liberation Serif', serif" font-size="6.9" fill="#2a2a2a" text-anchor="end">0.0</text>
<path d="M521.8,258.37 H525.8" stroke="#222" stroke-width="1"/>
<text x="520.5" y="260.77" font-family="'Liberation Serif', serif" font-size="6.9" fill="#2a2a2a" text-anchor="end">0.2</text>
<path d="M521.8,221.53 H525.8" stroke="#222" stroke-width="1"/>
<text x="520.5" y="223.93" font-family="'Liberation Serif', serif" font-size="6.9" fill="#2a2a2a" text-anchor="end">0.4</text>
<path d="M521.8,184.70 H525.8" stroke="#222" stroke-width="1"/>
<text x="520.5" y="187.10" font-family="'Liberation Serif', serif" font-size="6.9" fill="#2a2a2a" text-anchor="end">0.6</text>
<path d="M563.71,295.2 V298.60" stroke="#222" stroke-width="0.9"/>
<path d="M637.91,295.2 V298.60" stroke="#222" stroke-width="0.9"/>
<text x="542.2" y="308.1" font-family="'Liberation Serif', serif" font-weight="bold" font-size="9.5" fill="#111" textLength="43.5" lengthAdjust="spacingAndGlyphs">None stress</text>
<text x="611" y="308.1" font-family="'Liberation Serif', serif" font-weight="bold" font-size="9.5" fill="#111" textLength="53.799999999999955" lengthAdjust="spacingAndGlyphs">Salinity stress</text>
<text x="507.7" y="240.2" font-family="'Liberation Serif', serif" font-weight="bold" font-size="9.2" fill="#111" text-anchor="middle" transform="rotate(-90 507.7 240.2)" textLength="83.2" lengthAdjust="spacingAndGlyphs">Root fresh weight  (g)</text>
</svg>
</body></html>
